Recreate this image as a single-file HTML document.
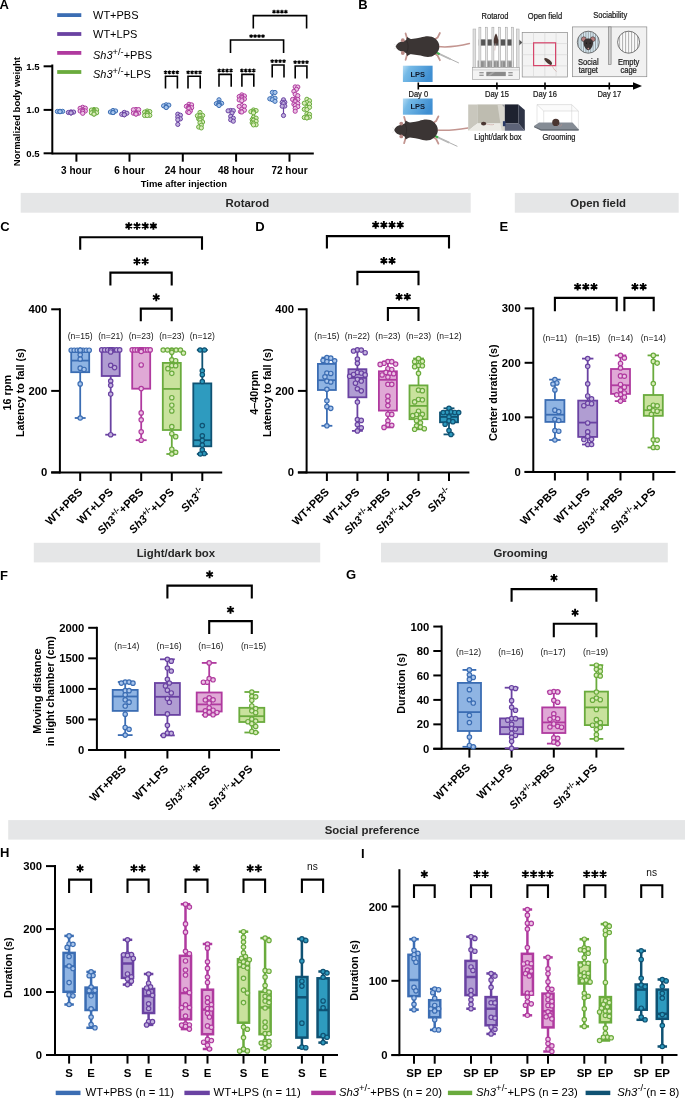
<!DOCTYPE html>
<html><head><meta charset="utf-8"><style>
html,body{margin:0;padding:0;background:#fff;}
svg{display:block;font-family:"Liberation Sans", sans-serif;will-change:transform;}
</style></head><body>
<svg width="685" height="1099" viewBox="0 0 685 1099">
<rect width="685" height="1099" fill="#fff"/>
<text x="-0.60" y="8.80" font-size="13" font-weight="bold" text-anchor="start" fill="#000" >A</text>
<text x="358.20" y="9.40" font-size="13" font-weight="bold" text-anchor="start" fill="#000" >B</text>
<text x="0.20" y="231.40" font-size="13" font-weight="bold" text-anchor="start" fill="#000" >C</text>
<text x="255.20" y="231.40" font-size="13" font-weight="bold" text-anchor="start" fill="#000" >D</text>
<text x="499.60" y="231.30" font-size="13" font-weight="bold" text-anchor="start" fill="#000" >E</text>
<text x="0.00" y="579.60" font-size="13" font-weight="bold" text-anchor="start" fill="#000" >F</text>
<text x="346.00" y="579.30" font-size="13" font-weight="bold" text-anchor="start" fill="#000" >G</text>
<text x="0.00" y="857.30" font-size="13" font-weight="bold" text-anchor="start" fill="#000" >H</text>
<text x="361.00" y="857.90" font-size="13" font-weight="bold" text-anchor="start" fill="#000" >I</text>
<rect x="20.70" y="192.90" width="450.00" height="19.80" fill="#e5e6e7" stroke="none" stroke-width="0" />
<text x="247.40" y="207.40" font-size="11.4" font-weight="bold" text-anchor="middle" fill="#262626" >Rotarod</text>
<rect x="514.80" y="192.90" width="163.90" height="19.80" fill="#e5e6e7" stroke="none" stroke-width="0" />
<text x="598.20" y="207.40" font-size="11.4" font-weight="bold" text-anchor="middle" fill="#262626" >Open field</text>
<rect x="33.80" y="542.80" width="286.40" height="19.60" fill="#e5e6e7" stroke="none" stroke-width="0" />
<text x="175.90" y="557.10" font-size="11.4" font-weight="bold" text-anchor="middle" fill="#262626" >Light/dark box</text>
<rect x="381.00" y="542.80" width="286.80" height="19.60" fill="#e5e6e7" stroke="none" stroke-width="0" />
<text x="520.60" y="557.10" font-size="11.4" font-weight="bold" text-anchor="middle" fill="#262626" >Grooming</text>
<rect x="8.20" y="820.10" width="676.80" height="19.50" fill="#e5e6e7" stroke="none" stroke-width="0" />
<text x="372.20" y="834.30" font-size="11.4" font-weight="bold" text-anchor="middle" fill="#262626" >Social preference</text>
<line x1="57.20" y1="15.10" x2="81.30" y2="15.10" stroke="#3b6db3" stroke-width="3.8" stroke-linecap="butt"/>
<text x="93.00" y="19.00" font-size="11" font-weight="normal" text-anchor="start" fill="#000" >WT+PBS</text>
<line x1="57.20" y1="34.00" x2="81.30" y2="34.00" stroke="#6a42a2" stroke-width="3.8" stroke-linecap="butt"/>
<text x="93.00" y="37.90" font-size="11" font-weight="normal" text-anchor="start" fill="#000" >WT+LPS</text>
<line x1="57.20" y1="52.90" x2="81.30" y2="52.90" stroke="#b03a9f" stroke-width="3.8" stroke-linecap="butt"/>
<text x="93.00" y="59.30" font-size="11" font-weight="normal" text-anchor="start" fill="#000" ><tspan font-style="italic">Sh3</tspan><tspan font-size="0.84em" dy="-0.5em">+/-</tspan><tspan dy="0.42em">+PBS</tspan></text>
<line x1="57.20" y1="72.00" x2="81.30" y2="72.00" stroke="#6aab3d" stroke-width="3.8" stroke-linecap="butt"/>
<text x="93.00" y="78.40" font-size="11" font-weight="normal" text-anchor="start" fill="#000" ><tspan font-style="italic">Sh3</tspan><tspan font-size="0.84em" dy="-0.5em">+/-</tspan><tspan dy="0.42em">+LPS</tspan></text>
<line x1="52.30" y1="64.50" x2="52.30" y2="154.40" stroke="#000" stroke-width="2" stroke-linecap="butt"/>
<line x1="43.60" y1="66.30" x2="52.30" y2="66.30" stroke="#000" stroke-width="2" stroke-linecap="butt"/>
<text x="39.70" y="69.76" font-size="9.6" font-weight="bold" text-anchor="end" fill="#000" >1.5</text>
<line x1="43.60" y1="109.90" x2="52.30" y2="109.90" stroke="#000" stroke-width="2" stroke-linecap="butt"/>
<text x="39.70" y="113.36" font-size="9.6" font-weight="bold" text-anchor="end" fill="#000" >1.0</text>
<line x1="43.60" y1="153.30" x2="52.30" y2="153.30" stroke="#000" stroke-width="2" stroke-linecap="butt"/>
<text x="39.70" y="156.76" font-size="9.6" font-weight="bold" text-anchor="end" fill="#000" >0.5</text>
<line x1="52.30" y1="153.40" x2="313.80" y2="153.40" stroke="#000" stroke-width="2" stroke-linecap="butt"/>
<line x1="76.40" y1="153.40" x2="76.40" y2="161.70" stroke="#000" stroke-width="2" stroke-linecap="butt"/>
<line x1="129.50" y1="153.40" x2="129.50" y2="161.70" stroke="#000" stroke-width="2" stroke-linecap="butt"/>
<line x1="182.80" y1="153.40" x2="182.80" y2="161.70" stroke="#000" stroke-width="2" stroke-linecap="butt"/>
<line x1="236.10" y1="153.40" x2="236.10" y2="161.70" stroke="#000" stroke-width="2" stroke-linecap="butt"/>
<line x1="289.50" y1="153.40" x2="289.50" y2="161.70" stroke="#000" stroke-width="2" stroke-linecap="butt"/>
<text x="76.40" y="173.60" font-size="10" font-weight="bold" text-anchor="middle" fill="#000" >3 hour</text>
<text x="129.50" y="173.60" font-size="10" font-weight="bold" text-anchor="middle" fill="#000" >6 hour</text>
<text x="182.80" y="173.60" font-size="10" font-weight="bold" text-anchor="middle" fill="#000" >24 hour</text>
<text x="236.10" y="173.60" font-size="10" font-weight="bold" text-anchor="middle" fill="#000" >48 hour</text>
<text x="289.50" y="173.60" font-size="10" font-weight="bold" text-anchor="middle" fill="#000" >72 hour</text>
<text x="183.90" y="187.00" font-size="9.45" font-weight="bold" text-anchor="middle" fill="#000" >Time after injection</text>
<text x="19.6" y="111.6" font-size="9.5" font-weight="bold" text-anchor="middle" transform="rotate(-90 19.6 111.6)">Normalized body weight</text>
<line x1="60.00" y1="111.30" x2="60.00" y2="111.70" stroke="#3b6db3" stroke-width="1.2" stroke-linecap="butt"/>
<circle cx="60.00" cy="111.30" r="2.1" fill="#a8c5ec" stroke="#3b6db3" stroke-width="1"/>
<circle cx="62.60" cy="111.36" r="2.1" fill="#a8c5ec" stroke="#3b6db3" stroke-width="1"/>
<circle cx="57.40" cy="111.48" r="2.1" fill="#a8c5ec" stroke="#3b6db3" stroke-width="1"/>
<circle cx="60.00" cy="111.58" r="2.1" fill="#a8c5ec" stroke="#3b6db3" stroke-width="1"/>
<circle cx="60.00" cy="111.61" r="2.1" fill="#a8c5ec" stroke="#3b6db3" stroke-width="1"/>
<circle cx="60.00" cy="111.70" r="2.1" fill="#a8c5ec" stroke="#3b6db3" stroke-width="1"/>
<line x1="71.00" y1="111.90" x2="71.00" y2="112.90" stroke="#6a42a2" stroke-width="1.2" stroke-linecap="butt"/>
<circle cx="71.00" cy="111.90" r="2.1" fill="#c2b2de" stroke="#6a42a2" stroke-width="1"/>
<circle cx="73.60" cy="112.09" r="2.1" fill="#c2b2de" stroke="#6a42a2" stroke-width="1"/>
<circle cx="68.40" cy="112.48" r="2.1" fill="#c2b2de" stroke="#6a42a2" stroke-width="1"/>
<circle cx="71.00" cy="112.82" r="2.1" fill="#c2b2de" stroke="#6a42a2" stroke-width="1"/>
<circle cx="71.00" cy="112.87" r="2.1" fill="#c2b2de" stroke="#6a42a2" stroke-width="1"/>
<circle cx="71.00" cy="112.90" r="2.1" fill="#c2b2de" stroke="#6a42a2" stroke-width="1"/>
<line x1="82.70" y1="107.30" x2="82.70" y2="113.30" stroke="#b03a9f" stroke-width="1.2" stroke-linecap="butt"/>
<circle cx="82.70" cy="107.30" r="2.1" fill="#ebc2e4" stroke="#b03a9f" stroke-width="1"/>
<circle cx="85.30" cy="108.19" r="2.1" fill="#ebc2e4" stroke="#b03a9f" stroke-width="1"/>
<circle cx="80.10" cy="108.32" r="2.1" fill="#ebc2e4" stroke="#b03a9f" stroke-width="1"/>
<circle cx="82.70" cy="109.61" r="2.1" fill="#ebc2e4" stroke="#b03a9f" stroke-width="1"/>
<circle cx="82.70" cy="110.70" r="2.1" fill="#ebc2e4" stroke="#b03a9f" stroke-width="1"/>
<circle cx="85.30" cy="110.95" r="2.1" fill="#ebc2e4" stroke="#b03a9f" stroke-width="1"/>
<circle cx="80.10" cy="111.00" r="2.1" fill="#ebc2e4" stroke="#b03a9f" stroke-width="1"/>
<circle cx="82.70" cy="111.00" r="2.1" fill="#ebc2e4" stroke="#b03a9f" stroke-width="1"/>
<circle cx="82.70" cy="111.58" r="2.1" fill="#ebc2e4" stroke="#b03a9f" stroke-width="1"/>
<circle cx="82.70" cy="113.30" r="2.1" fill="#ebc2e4" stroke="#b03a9f" stroke-width="1"/>
<line x1="94.00" y1="109.50" x2="94.00" y2="114.10" stroke="#6aab3d" stroke-width="1.2" stroke-linecap="butt"/>
<circle cx="94.00" cy="109.50" r="2.1" fill="#d9ecb9" stroke="#6aab3d" stroke-width="1"/>
<circle cx="96.60" cy="109.86" r="2.1" fill="#d9ecb9" stroke="#6aab3d" stroke-width="1"/>
<circle cx="91.40" cy="110.06" r="2.1" fill="#d9ecb9" stroke="#6aab3d" stroke-width="1"/>
<circle cx="94.00" cy="110.49" r="2.1" fill="#d9ecb9" stroke="#6aab3d" stroke-width="1"/>
<circle cx="94.00" cy="111.60" r="2.1" fill="#d9ecb9" stroke="#6aab3d" stroke-width="1"/>
<circle cx="94.00" cy="112.27" r="2.1" fill="#d9ecb9" stroke="#6aab3d" stroke-width="1"/>
<circle cx="96.60" cy="112.81" r="2.1" fill="#d9ecb9" stroke="#6aab3d" stroke-width="1"/>
<circle cx="91.40" cy="112.88" r="2.1" fill="#d9ecb9" stroke="#6aab3d" stroke-width="1"/>
<circle cx="94.00" cy="114.00" r="2.1" fill="#d9ecb9" stroke="#6aab3d" stroke-width="1"/>
<circle cx="94.00" cy="114.10" r="2.1" fill="#d9ecb9" stroke="#6aab3d" stroke-width="1"/>
<line x1="113.00" y1="110.50" x2="113.00" y2="112.60" stroke="#3b6db3" stroke-width="1.2" stroke-linecap="butt"/>
<circle cx="113.00" cy="110.50" r="2.1" fill="#a8c5ec" stroke="#3b6db3" stroke-width="1"/>
<circle cx="115.60" cy="110.98" r="2.1" fill="#a8c5ec" stroke="#3b6db3" stroke-width="1"/>
<circle cx="110.40" cy="112.04" r="2.1" fill="#a8c5ec" stroke="#3b6db3" stroke-width="1"/>
<circle cx="113.00" cy="112.33" r="2.1" fill="#a8c5ec" stroke="#3b6db3" stroke-width="1"/>
<circle cx="113.00" cy="112.52" r="2.1" fill="#a8c5ec" stroke="#3b6db3" stroke-width="1"/>
<circle cx="113.00" cy="112.60" r="2.1" fill="#a8c5ec" stroke="#3b6db3" stroke-width="1"/>
<line x1="124.30" y1="112.40" x2="124.30" y2="114.80" stroke="#6a42a2" stroke-width="1.2" stroke-linecap="butt"/>
<circle cx="124.30" cy="112.40" r="2.1" fill="#c2b2de" stroke="#6a42a2" stroke-width="1"/>
<circle cx="126.90" cy="113.24" r="2.1" fill="#c2b2de" stroke="#6a42a2" stroke-width="1"/>
<circle cx="121.70" cy="114.30" r="2.1" fill="#c2b2de" stroke="#6a42a2" stroke-width="1"/>
<circle cx="124.30" cy="114.51" r="2.1" fill="#c2b2de" stroke="#6a42a2" stroke-width="1"/>
<circle cx="124.30" cy="114.68" r="2.1" fill="#c2b2de" stroke="#6a42a2" stroke-width="1"/>
<circle cx="124.30" cy="114.80" r="2.1" fill="#c2b2de" stroke="#6a42a2" stroke-width="1"/>
<line x1="136.00" y1="109.50" x2="136.00" y2="114.10" stroke="#b03a9f" stroke-width="1.2" stroke-linecap="butt"/>
<circle cx="136.00" cy="109.50" r="2.1" fill="#ebc2e4" stroke="#b03a9f" stroke-width="1"/>
<circle cx="138.60" cy="109.58" r="2.1" fill="#ebc2e4" stroke="#b03a9f" stroke-width="1"/>
<circle cx="133.40" cy="109.76" r="2.1" fill="#ebc2e4" stroke="#b03a9f" stroke-width="1"/>
<circle cx="136.00" cy="112.77" r="2.1" fill="#ebc2e4" stroke="#b03a9f" stroke-width="1"/>
<circle cx="138.60" cy="113.20" r="2.1" fill="#ebc2e4" stroke="#b03a9f" stroke-width="1"/>
<circle cx="133.40" cy="113.21" r="2.1" fill="#ebc2e4" stroke="#b03a9f" stroke-width="1"/>
<circle cx="136.00" cy="113.28" r="2.1" fill="#ebc2e4" stroke="#b03a9f" stroke-width="1"/>
<circle cx="136.00" cy="113.65" r="2.1" fill="#ebc2e4" stroke="#b03a9f" stroke-width="1"/>
<circle cx="136.00" cy="113.83" r="2.1" fill="#ebc2e4" stroke="#b03a9f" stroke-width="1"/>
<circle cx="136.00" cy="114.10" r="2.1" fill="#ebc2e4" stroke="#b03a9f" stroke-width="1"/>
<line x1="147.20" y1="111.00" x2="147.20" y2="115.50" stroke="#6aab3d" stroke-width="1.2" stroke-linecap="butt"/>
<circle cx="147.20" cy="111.00" r="2.1" fill="#d9ecb9" stroke="#6aab3d" stroke-width="1"/>
<circle cx="149.80" cy="111.62" r="2.1" fill="#d9ecb9" stroke="#6aab3d" stroke-width="1"/>
<circle cx="144.60" cy="112.11" r="2.1" fill="#d9ecb9" stroke="#6aab3d" stroke-width="1"/>
<circle cx="147.20" cy="112.39" r="2.1" fill="#d9ecb9" stroke="#6aab3d" stroke-width="1"/>
<circle cx="147.20" cy="113.17" r="2.1" fill="#d9ecb9" stroke="#6aab3d" stroke-width="1"/>
<circle cx="147.20" cy="113.62" r="2.1" fill="#d9ecb9" stroke="#6aab3d" stroke-width="1"/>
<circle cx="147.20" cy="113.96" r="2.1" fill="#d9ecb9" stroke="#6aab3d" stroke-width="1"/>
<circle cx="149.80" cy="115.38" r="2.1" fill="#d9ecb9" stroke="#6aab3d" stroke-width="1"/>
<circle cx="144.60" cy="115.49" r="2.1" fill="#d9ecb9" stroke="#6aab3d" stroke-width="1"/>
<circle cx="147.20" cy="115.50" r="2.1" fill="#d9ecb9" stroke="#6aab3d" stroke-width="1"/>
<line x1="166.20" y1="104.80" x2="166.20" y2="107.50" stroke="#3b6db3" stroke-width="1.2" stroke-linecap="butt"/>
<circle cx="166.20" cy="104.80" r="2.1" fill="#a8c5ec" stroke="#3b6db3" stroke-width="1"/>
<circle cx="168.80" cy="105.15" r="2.1" fill="#a8c5ec" stroke="#3b6db3" stroke-width="1"/>
<circle cx="163.60" cy="105.84" r="2.1" fill="#a8c5ec" stroke="#3b6db3" stroke-width="1"/>
<circle cx="166.20" cy="107.00" r="2.1" fill="#a8c5ec" stroke="#3b6db3" stroke-width="1"/>
<circle cx="166.20" cy="107.18" r="2.1" fill="#a8c5ec" stroke="#3b6db3" stroke-width="1"/>
<circle cx="166.20" cy="107.50" r="2.1" fill="#a8c5ec" stroke="#3b6db3" stroke-width="1"/>
<line x1="177.80" y1="114.20" x2="177.80" y2="124.40" stroke="#6a42a2" stroke-width="1.2" stroke-linecap="butt"/>
<circle cx="177.80" cy="114.20" r="2.1" fill="#c2b2de" stroke="#6a42a2" stroke-width="1"/>
<circle cx="180.40" cy="115.24" r="2.1" fill="#c2b2de" stroke="#6a42a2" stroke-width="1"/>
<circle cx="177.80" cy="117.05" r="2.1" fill="#c2b2de" stroke="#6a42a2" stroke-width="1"/>
<circle cx="180.40" cy="118.88" r="2.1" fill="#c2b2de" stroke="#6a42a2" stroke-width="1"/>
<circle cx="177.80" cy="119.78" r="2.1" fill="#c2b2de" stroke="#6a42a2" stroke-width="1"/>
<circle cx="177.80" cy="124.40" r="2.1" fill="#c2b2de" stroke="#6a42a2" stroke-width="1"/>
<line x1="189.00" y1="104.30" x2="189.00" y2="112.50" stroke="#b03a9f" stroke-width="1.2" stroke-linecap="butt"/>
<circle cx="189.00" cy="104.30" r="2.1" fill="#ebc2e4" stroke="#b03a9f" stroke-width="1"/>
<circle cx="191.60" cy="104.91" r="2.1" fill="#ebc2e4" stroke="#b03a9f" stroke-width="1"/>
<circle cx="186.40" cy="106.33" r="2.1" fill="#ebc2e4" stroke="#b03a9f" stroke-width="1"/>
<circle cx="189.00" cy="106.54" r="2.1" fill="#ebc2e4" stroke="#b03a9f" stroke-width="1"/>
<circle cx="189.00" cy="106.89" r="2.1" fill="#ebc2e4" stroke="#b03a9f" stroke-width="1"/>
<circle cx="189.00" cy="107.48" r="2.1" fill="#ebc2e4" stroke="#b03a9f" stroke-width="1"/>
<circle cx="191.60" cy="107.72" r="2.1" fill="#ebc2e4" stroke="#b03a9f" stroke-width="1"/>
<circle cx="189.00" cy="108.25" r="2.1" fill="#ebc2e4" stroke="#b03a9f" stroke-width="1"/>
<circle cx="189.00" cy="108.74" r="2.1" fill="#ebc2e4" stroke="#b03a9f" stroke-width="1"/>
<circle cx="190.30" cy="111.04" r="2.1" fill="#ebc2e4" stroke="#b03a9f" stroke-width="1"/>
<circle cx="187.70" cy="111.96" r="2.1" fill="#ebc2e4" stroke="#b03a9f" stroke-width="1"/>
<circle cx="189.00" cy="112.50" r="2.1" fill="#ebc2e4" stroke="#b03a9f" stroke-width="1"/>
<line x1="200.00" y1="112.50" x2="200.00" y2="127.90" stroke="#6aab3d" stroke-width="1.2" stroke-linecap="butt"/>
<circle cx="200.00" cy="112.50" r="2.1" fill="#d9ecb9" stroke="#6aab3d" stroke-width="1"/>
<circle cx="200.00" cy="115.11" r="2.1" fill="#d9ecb9" stroke="#6aab3d" stroke-width="1"/>
<circle cx="202.60" cy="115.48" r="2.1" fill="#d9ecb9" stroke="#6aab3d" stroke-width="1"/>
<circle cx="197.40" cy="115.78" r="2.1" fill="#d9ecb9" stroke="#6aab3d" stroke-width="1"/>
<circle cx="200.00" cy="116.04" r="2.1" fill="#d9ecb9" stroke="#6aab3d" stroke-width="1"/>
<circle cx="201.30" cy="118.62" r="2.1" fill="#d9ecb9" stroke="#6aab3d" stroke-width="1"/>
<circle cx="198.70" cy="118.91" r="2.1" fill="#d9ecb9" stroke="#6aab3d" stroke-width="1"/>
<circle cx="200.00" cy="118.99" r="2.1" fill="#d9ecb9" stroke="#6aab3d" stroke-width="1"/>
<circle cx="200.00" cy="120.11" r="2.1" fill="#d9ecb9" stroke="#6aab3d" stroke-width="1"/>
<circle cx="202.60" cy="122.00" r="2.1" fill="#d9ecb9" stroke="#6aab3d" stroke-width="1"/>
<circle cx="200.00" cy="122.82" r="2.1" fill="#d9ecb9" stroke="#6aab3d" stroke-width="1"/>
<circle cx="201.30" cy="125.24" r="2.1" fill="#d9ecb9" stroke="#6aab3d" stroke-width="1"/>
<circle cx="198.70" cy="127.01" r="2.1" fill="#d9ecb9" stroke="#6aab3d" stroke-width="1"/>
<circle cx="201.30" cy="127.90" r="2.1" fill="#d9ecb9" stroke="#6aab3d" stroke-width="1"/>
<line x1="219.00" y1="99.80" x2="219.00" y2="105.50" stroke="#3b6db3" stroke-width="1.2" stroke-linecap="butt"/>
<circle cx="219.00" cy="99.80" r="2.1" fill="#a8c5ec" stroke="#3b6db3" stroke-width="1"/>
<circle cx="219.00" cy="102.54" r="2.1" fill="#a8c5ec" stroke="#3b6db3" stroke-width="1"/>
<circle cx="221.60" cy="103.33" r="2.1" fill="#a8c5ec" stroke="#3b6db3" stroke-width="1"/>
<circle cx="216.40" cy="103.60" r="2.1" fill="#a8c5ec" stroke="#3b6db3" stroke-width="1"/>
<circle cx="219.00" cy="103.79" r="2.1" fill="#a8c5ec" stroke="#3b6db3" stroke-width="1"/>
<circle cx="219.00" cy="104.09" r="2.1" fill="#a8c5ec" stroke="#3b6db3" stroke-width="1"/>
<circle cx="219.00" cy="104.94" r="2.1" fill="#a8c5ec" stroke="#3b6db3" stroke-width="1"/>
<circle cx="219.00" cy="105.50" r="2.1" fill="#a8c5ec" stroke="#3b6db3" stroke-width="1"/>
<line x1="230.70" y1="110.50" x2="230.70" y2="121.20" stroke="#6a42a2" stroke-width="1.2" stroke-linecap="butt"/>
<circle cx="230.70" cy="110.50" r="2.1" fill="#c2b2de" stroke="#6a42a2" stroke-width="1"/>
<circle cx="233.30" cy="110.69" r="2.1" fill="#c2b2de" stroke="#6a42a2" stroke-width="1"/>
<circle cx="228.10" cy="110.83" r="2.1" fill="#c2b2de" stroke="#6a42a2" stroke-width="1"/>
<circle cx="232.00" cy="113.05" r="2.1" fill="#c2b2de" stroke="#6a42a2" stroke-width="1"/>
<circle cx="230.70" cy="116.38" r="2.1" fill="#c2b2de" stroke="#6a42a2" stroke-width="1"/>
<circle cx="233.30" cy="118.23" r="2.1" fill="#c2b2de" stroke="#6a42a2" stroke-width="1"/>
<circle cx="230.70" cy="119.78" r="2.1" fill="#c2b2de" stroke="#6a42a2" stroke-width="1"/>
<circle cx="233.30" cy="121.20" r="2.1" fill="#c2b2de" stroke="#6a42a2" stroke-width="1"/>
<line x1="241.80" y1="94.90" x2="241.80" y2="112.00" stroke="#b03a9f" stroke-width="1.2" stroke-linecap="butt"/>
<circle cx="241.80" cy="94.90" r="2.1" fill="#ebc2e4" stroke="#b03a9f" stroke-width="1"/>
<circle cx="244.40" cy="95.99" r="2.1" fill="#ebc2e4" stroke="#b03a9f" stroke-width="1"/>
<circle cx="239.20" cy="96.57" r="2.1" fill="#ebc2e4" stroke="#b03a9f" stroke-width="1"/>
<circle cx="241.80" cy="96.72" r="2.1" fill="#ebc2e4" stroke="#b03a9f" stroke-width="1"/>
<circle cx="241.80" cy="97.53" r="2.1" fill="#ebc2e4" stroke="#b03a9f" stroke-width="1"/>
<circle cx="244.40" cy="99.02" r="2.1" fill="#ebc2e4" stroke="#b03a9f" stroke-width="1"/>
<circle cx="241.80" cy="99.06" r="2.1" fill="#ebc2e4" stroke="#b03a9f" stroke-width="1"/>
<circle cx="239.20" cy="99.93" r="2.1" fill="#ebc2e4" stroke="#b03a9f" stroke-width="1"/>
<circle cx="241.80" cy="100.68" r="2.1" fill="#ebc2e4" stroke="#b03a9f" stroke-width="1"/>
<circle cx="241.80" cy="105.57" r="2.1" fill="#ebc2e4" stroke="#b03a9f" stroke-width="1"/>
<circle cx="244.40" cy="106.29" r="2.1" fill="#ebc2e4" stroke="#b03a9f" stroke-width="1"/>
<circle cx="239.20" cy="106.44" r="2.1" fill="#ebc2e4" stroke="#b03a9f" stroke-width="1"/>
<circle cx="241.80" cy="109.22" r="2.1" fill="#ebc2e4" stroke="#b03a9f" stroke-width="1"/>
<circle cx="244.40" cy="110.25" r="2.1" fill="#ebc2e4" stroke="#b03a9f" stroke-width="1"/>
<circle cx="240.50" cy="111.67" r="2.1" fill="#ebc2e4" stroke="#b03a9f" stroke-width="1"/>
<circle cx="241.80" cy="112.00" r="2.1" fill="#ebc2e4" stroke="#b03a9f" stroke-width="1"/>
<line x1="253.50" y1="110.00" x2="253.50" y2="124.90" stroke="#6aab3d" stroke-width="1.2" stroke-linecap="butt"/>
<circle cx="253.50" cy="110.00" r="2.1" fill="#d9ecb9" stroke="#6aab3d" stroke-width="1"/>
<circle cx="256.10" cy="110.62" r="2.1" fill="#d9ecb9" stroke="#6aab3d" stroke-width="1"/>
<circle cx="250.90" cy="111.67" r="2.1" fill="#d9ecb9" stroke="#6aab3d" stroke-width="1"/>
<circle cx="253.50" cy="111.69" r="2.1" fill="#d9ecb9" stroke="#6aab3d" stroke-width="1"/>
<circle cx="253.50" cy="112.14" r="2.1" fill="#d9ecb9" stroke="#6aab3d" stroke-width="1"/>
<circle cx="253.50" cy="112.93" r="2.1" fill="#d9ecb9" stroke="#6aab3d" stroke-width="1"/>
<circle cx="253.50" cy="117.19" r="2.1" fill="#d9ecb9" stroke="#6aab3d" stroke-width="1"/>
<circle cx="256.10" cy="118.15" r="2.1" fill="#d9ecb9" stroke="#6aab3d" stroke-width="1"/>
<circle cx="252.20" cy="119.54" r="2.1" fill="#d9ecb9" stroke="#6aab3d" stroke-width="1"/>
<circle cx="253.50" cy="120.11" r="2.1" fill="#d9ecb9" stroke="#6aab3d" stroke-width="1"/>
<circle cx="253.50" cy="120.24" r="2.1" fill="#d9ecb9" stroke="#6aab3d" stroke-width="1"/>
<circle cx="256.10" cy="121.24" r="2.1" fill="#d9ecb9" stroke="#6aab3d" stroke-width="1"/>
<circle cx="252.20" cy="122.78" r="2.1" fill="#d9ecb9" stroke="#6aab3d" stroke-width="1"/>
<circle cx="253.50" cy="123.35" r="2.1" fill="#d9ecb9" stroke="#6aab3d" stroke-width="1"/>
<circle cx="256.10" cy="124.77" r="2.1" fill="#d9ecb9" stroke="#6aab3d" stroke-width="1"/>
<circle cx="253.50" cy="124.90" r="2.1" fill="#d9ecb9" stroke="#6aab3d" stroke-width="1"/>
<line x1="272.40" y1="92.40" x2="272.40" y2="101.30" stroke="#3b6db3" stroke-width="1.2" stroke-linecap="butt"/>
<circle cx="272.40" cy="92.40" r="2.1" fill="#a8c5ec" stroke="#3b6db3" stroke-width="1"/>
<circle cx="275.00" cy="92.48" r="2.1" fill="#a8c5ec" stroke="#3b6db3" stroke-width="1"/>
<circle cx="272.40" cy="97.74" r="2.1" fill="#a8c5ec" stroke="#3b6db3" stroke-width="1"/>
<circle cx="275.00" cy="98.15" r="2.1" fill="#a8c5ec" stroke="#3b6db3" stroke-width="1"/>
<circle cx="269.80" cy="98.83" r="2.1" fill="#a8c5ec" stroke="#3b6db3" stroke-width="1"/>
<circle cx="272.40" cy="99.71" r="2.1" fill="#a8c5ec" stroke="#3b6db3" stroke-width="1"/>
<circle cx="275.00" cy="101.30" r="2.1" fill="#a8c5ec" stroke="#3b6db3" stroke-width="1"/>
<line x1="283.50" y1="99.80" x2="283.50" y2="115.50" stroke="#6a42a2" stroke-width="1.2" stroke-linecap="butt"/>
<circle cx="283.50" cy="99.80" r="2.1" fill="#c2b2de" stroke="#6a42a2" stroke-width="1"/>
<circle cx="284.80" cy="102.29" r="2.1" fill="#c2b2de" stroke="#6a42a2" stroke-width="1"/>
<circle cx="282.20" cy="102.38" r="2.1" fill="#c2b2de" stroke="#6a42a2" stroke-width="1"/>
<circle cx="283.50" cy="103.57" r="2.1" fill="#c2b2de" stroke="#6a42a2" stroke-width="1"/>
<circle cx="284.80" cy="106.08" r="2.1" fill="#c2b2de" stroke="#6a42a2" stroke-width="1"/>
<circle cx="282.20" cy="106.18" r="2.1" fill="#c2b2de" stroke="#6a42a2" stroke-width="1"/>
<circle cx="283.50" cy="115.50" r="2.1" fill="#c2b2de" stroke="#6a42a2" stroke-width="1"/>
<line x1="295.20" y1="86.90" x2="295.20" y2="111.20" stroke="#b03a9f" stroke-width="1.2" stroke-linecap="butt"/>
<circle cx="295.20" cy="86.90" r="2.1" fill="#ebc2e4" stroke="#b03a9f" stroke-width="1"/>
<circle cx="297.80" cy="87.04" r="2.1" fill="#ebc2e4" stroke="#b03a9f" stroke-width="1"/>
<circle cx="296.50" cy="89.31" r="2.1" fill="#ebc2e4" stroke="#b03a9f" stroke-width="1"/>
<circle cx="293.90" cy="91.34" r="2.1" fill="#ebc2e4" stroke="#b03a9f" stroke-width="1"/>
<circle cx="295.20" cy="94.28" r="2.1" fill="#ebc2e4" stroke="#b03a9f" stroke-width="1"/>
<circle cx="297.80" cy="95.70" r="2.1" fill="#ebc2e4" stroke="#b03a9f" stroke-width="1"/>
<circle cx="295.20" cy="99.24" r="2.1" fill="#ebc2e4" stroke="#b03a9f" stroke-width="1"/>
<circle cx="297.80" cy="99.39" r="2.1" fill="#ebc2e4" stroke="#b03a9f" stroke-width="1"/>
<circle cx="292.60" cy="99.46" r="2.1" fill="#ebc2e4" stroke="#b03a9f" stroke-width="1"/>
<circle cx="295.20" cy="100.73" r="2.1" fill="#ebc2e4" stroke="#b03a9f" stroke-width="1"/>
<circle cx="295.20" cy="101.67" r="2.1" fill="#ebc2e4" stroke="#b03a9f" stroke-width="1"/>
<circle cx="295.20" cy="101.68" r="2.1" fill="#ebc2e4" stroke="#b03a9f" stroke-width="1"/>
<circle cx="297.80" cy="103.55" r="2.1" fill="#ebc2e4" stroke="#b03a9f" stroke-width="1"/>
<circle cx="293.90" cy="104.18" r="2.1" fill="#ebc2e4" stroke="#b03a9f" stroke-width="1"/>
<circle cx="295.20" cy="105.56" r="2.1" fill="#ebc2e4" stroke="#b03a9f" stroke-width="1"/>
<circle cx="297.80" cy="106.66" r="2.1" fill="#ebc2e4" stroke="#b03a9f" stroke-width="1"/>
<circle cx="295.20" cy="108.43" r="2.1" fill="#ebc2e4" stroke="#b03a9f" stroke-width="1"/>
<circle cx="295.20" cy="111.20" r="2.1" fill="#ebc2e4" stroke="#b03a9f" stroke-width="1"/>
<line x1="306.90" y1="99.30" x2="306.90" y2="117.90" stroke="#6aab3d" stroke-width="1.2" stroke-linecap="butt"/>
<circle cx="306.90" cy="99.30" r="2.1" fill="#d9ecb9" stroke="#6aab3d" stroke-width="1"/>
<circle cx="309.50" cy="100.77" r="2.1" fill="#d9ecb9" stroke="#6aab3d" stroke-width="1"/>
<circle cx="306.90" cy="102.64" r="2.1" fill="#d9ecb9" stroke="#6aab3d" stroke-width="1"/>
<circle cx="304.30" cy="103.22" r="2.1" fill="#d9ecb9" stroke="#6aab3d" stroke-width="1"/>
<circle cx="309.50" cy="104.01" r="2.1" fill="#d9ecb9" stroke="#6aab3d" stroke-width="1"/>
<circle cx="306.90" cy="107.26" r="2.1" fill="#d9ecb9" stroke="#6aab3d" stroke-width="1"/>
<circle cx="309.50" cy="107.35" r="2.1" fill="#d9ecb9" stroke="#6aab3d" stroke-width="1"/>
<circle cx="304.30" cy="109.32" r="2.1" fill="#d9ecb9" stroke="#6aab3d" stroke-width="1"/>
<circle cx="306.90" cy="109.59" r="2.1" fill="#d9ecb9" stroke="#6aab3d" stroke-width="1"/>
<circle cx="306.90" cy="113.88" r="2.1" fill="#d9ecb9" stroke="#6aab3d" stroke-width="1"/>
<circle cx="309.50" cy="114.39" r="2.1" fill="#d9ecb9" stroke="#6aab3d" stroke-width="1"/>
<circle cx="306.90" cy="116.53" r="2.1" fill="#d9ecb9" stroke="#6aab3d" stroke-width="1"/>
<circle cx="309.50" cy="117.23" r="2.1" fill="#d9ecb9" stroke="#6aab3d" stroke-width="1"/>
<circle cx="304.30" cy="117.49" r="2.1" fill="#d9ecb9" stroke="#6aab3d" stroke-width="1"/>
<circle cx="306.90" cy="117.72" r="2.1" fill="#d9ecb9" stroke="#6aab3d" stroke-width="1"/>
<circle cx="306.90" cy="117.90" r="2.1" fill="#d9ecb9" stroke="#6aab3d" stroke-width="1"/>
<path d="M165.50,88.60 V76.20 H177.40 V88.60" fill="none" stroke="#000" stroke-width="1.6"/>
<path d="M165.52,74.20L165.52,70.40M163.88,73.25L167.17,71.35M167.17,73.25L163.88,71.35M169.47,74.20L169.47,70.40M167.83,73.25L171.12,71.35M171.12,73.25L167.83,71.35M173.42,74.20L173.42,70.40M171.78,73.25L175.07,71.35M175.07,73.25L171.78,71.35M177.37,74.20L177.37,70.40M175.73,73.25L179.02,71.35M179.02,73.25L175.73,71.35" stroke="#000" stroke-width="1.1" fill="none"/>
<path d="M188.00,88.60 V76.20 H200.20 V88.60" fill="none" stroke="#000" stroke-width="1.6"/>
<path d="M188.17,74.20L188.17,70.40M186.53,73.25L189.82,71.35M189.82,73.25L186.53,71.35M192.12,74.20L192.12,70.40M190.48,73.25L193.77,71.35M193.77,73.25L190.48,71.35M196.07,74.20L196.07,70.40M194.43,73.25L197.72,71.35M197.72,73.25L194.43,71.35M200.02,74.20L200.02,70.40M198.38,73.25L201.67,71.35M201.67,73.25L198.38,71.35" stroke="#000" stroke-width="1.1" fill="none"/>
<path d="M219.00,86.80 V74.40 H231.20 V86.80" fill="none" stroke="#000" stroke-width="1.6"/>
<path d="M219.17,72.40L219.17,68.60M217.53,71.45L220.82,69.55M220.82,71.45L217.53,69.55M223.12,72.40L223.12,68.60M221.48,71.45L224.77,69.55M224.77,71.45L221.48,69.55M227.07,72.40L227.07,68.60M225.43,71.45L228.72,69.55M228.72,71.45L225.43,69.55M231.02,72.40L231.02,68.60M229.38,71.45L232.67,69.55M232.67,71.45L229.38,69.55" stroke="#000" stroke-width="1.1" fill="none"/>
<path d="M241.90,86.80 V74.40 H253.80 V86.80" fill="none" stroke="#000" stroke-width="1.6"/>
<path d="M241.93,72.40L241.93,68.60M240.28,71.45L243.57,69.55M243.57,71.45L240.28,69.55M245.88,72.40L245.88,68.60M244.23,71.45L247.52,69.55M247.52,71.45L244.23,69.55M249.83,72.40L249.83,68.60M248.18,71.45L251.47,69.55M251.47,71.45L248.18,69.55M253.78,72.40L253.78,68.60M252.13,71.45L255.42,69.55M255.42,71.45L252.13,69.55" stroke="#000" stroke-width="1.1" fill="none"/>
<path d="M272.20,77.40 V65.00 H284.00 V77.40" fill="none" stroke="#000" stroke-width="1.6"/>
<path d="M272.18,63.00L272.18,59.20M270.53,62.05L273.82,60.15M273.82,62.05L270.53,60.15M276.12,63.00L276.12,59.20M274.48,62.05L277.77,60.15M277.77,62.05L274.48,60.15M280.07,63.00L280.07,59.20M278.43,62.05L281.72,60.15M281.72,62.05L278.43,60.15M284.03,63.00L284.03,59.20M282.38,62.05L285.67,60.15M285.67,62.05L282.38,60.15" stroke="#000" stroke-width="1.1" fill="none"/>
<path d="M295.20,78.40 V66.00 H306.90 V78.40" fill="none" stroke="#000" stroke-width="1.6"/>
<path d="M295.12,64.00L295.12,60.20M293.48,63.05L296.77,61.15M296.77,63.05L293.48,61.15M299.07,64.00L299.07,60.20M297.43,63.05L300.72,61.15M300.72,63.05L297.43,61.15M303.02,64.00L303.02,60.20M301.38,63.05L304.67,61.15M304.67,63.05L301.38,61.15M306.97,64.00L306.97,60.20M305.33,63.05L308.62,61.15M308.62,63.05L305.33,61.15" stroke="#000" stroke-width="1.1" fill="none"/>
<path d="M230.50,52.90 V40.00 H283.60 V52.90" fill="none" stroke="#000" stroke-width="1.6"/>
<path d="M251.12,38.00L251.12,34.20M249.48,37.05L252.77,35.15M252.77,37.05L249.48,35.15M255.07,38.00L255.07,34.20M253.43,37.05L256.72,35.15M256.72,37.05L253.43,35.15M259.02,38.00L259.02,34.20M257.38,37.05L260.67,35.15M260.67,37.05L257.38,35.15M262.98,38.00L262.98,34.20M261.33,37.05L264.62,35.15M264.62,37.05L261.33,35.15" stroke="#000" stroke-width="1.1" fill="none"/>
<path d="M253.30,28.50 V15.60 H306.60 V28.50" fill="none" stroke="#000" stroke-width="1.6"/>
<path d="M274.03,13.60L274.03,9.80M272.38,12.65L275.67,10.75M275.67,12.65L272.38,10.75M277.98,13.60L277.98,9.80M276.33,12.65L279.62,10.75M279.62,12.65L276.33,10.75M281.93,13.60L281.93,9.80M280.28,12.65L283.57,10.75M283.57,12.65L280.28,10.75M285.88,13.60L285.88,9.80M284.23,12.65L287.52,10.75M287.52,12.65L284.23,10.75" stroke="#000" stroke-width="1.1" fill="none"/>
<line x1="59.90" y1="308.30" x2="59.90" y2="473.40" stroke="#000" stroke-width="2" stroke-linecap="butt"/>
<line x1="51.20" y1="309.30" x2="59.90" y2="309.30" stroke="#000" stroke-width="2" stroke-linecap="butt"/>
<text x="47.30" y="313.37" font-size="11.3" font-weight="bold" text-anchor="end" fill="#000" >400</text>
<line x1="51.20" y1="390.90" x2="59.90" y2="390.90" stroke="#000" stroke-width="2" stroke-linecap="butt"/>
<text x="47.30" y="394.97" font-size="11.3" font-weight="bold" text-anchor="end" fill="#000" >200</text>
<line x1="51.20" y1="472.40" x2="59.90" y2="472.40" stroke="#000" stroke-width="2" stroke-linecap="butt"/>
<text x="47.30" y="476.47" font-size="11.3" font-weight="bold" text-anchor="end" fill="#000" >0</text>
<line x1="51.20" y1="472.40" x2="222.20" y2="472.40" stroke="#000" stroke-width="2" stroke-linecap="butt"/>
<line x1="80.20" y1="472.40" x2="80.20" y2="481.00" stroke="#000" stroke-width="2" stroke-linecap="butt"/>
<line x1="110.70" y1="472.40" x2="110.70" y2="481.00" stroke="#000" stroke-width="2" stroke-linecap="butt"/>
<line x1="141.20" y1="472.40" x2="141.20" y2="481.00" stroke="#000" stroke-width="2" stroke-linecap="butt"/>
<line x1="171.80" y1="472.40" x2="171.80" y2="481.00" stroke="#000" stroke-width="2" stroke-linecap="butt"/>
<line x1="202.30" y1="472.40" x2="202.30" y2="481.00" stroke="#000" stroke-width="2" stroke-linecap="butt"/>
<text x="11.2" y="392.7" font-size="10.8" font-weight="bold" text-anchor="middle" transform="rotate(-90 11.2 392.7)">16 rpm</text>
<text x="24.3" y="392.7" font-size="10.8" font-weight="bold" text-anchor="middle" transform="rotate(-90 24.3 392.7)">Latency to fall (s)</text>
<text x="80.20" y="339.40" font-size="8.6" font-weight="normal" text-anchor="middle" fill="#161616" >(n=15)</text>
<text x="110.70" y="339.40" font-size="8.6" font-weight="normal" text-anchor="middle" fill="#161616" >(n=21)</text>
<text x="141.20" y="339.40" font-size="8.6" font-weight="normal" text-anchor="middle" fill="#161616" >(n=23)</text>
<text x="171.80" y="339.40" font-size="8.6" font-weight="normal" text-anchor="middle" fill="#161616" >(n=23)</text>
<text x="202.30" y="339.40" font-size="8.6" font-weight="normal" text-anchor="middle" fill="#161616" >(n=12)</text>
<line x1="80.20" y1="350.20" x2="80.20" y2="350.20" stroke="#3b6db3" stroke-width="1.8" stroke-linecap="butt"/>
<line x1="80.20" y1="372.20" x2="80.20" y2="418.00" stroke="#3b6db3" stroke-width="1.8" stroke-linecap="butt"/>
<line x1="74.75" y1="350.20" x2="85.65" y2="350.20" stroke="#3b6db3" stroke-width="1.8" stroke-linecap="butt"/>
<line x1="74.75" y1="418.00" x2="85.65" y2="418.00" stroke="#3b6db3" stroke-width="1.8" stroke-linecap="butt"/>
<rect x="71.20" y="350.20" width="18.00" height="22.00" fill="#8fb4e3" stroke="#3b6db3" stroke-width="1.8" />
<line x1="71.20" y1="360.60" x2="89.20" y2="360.60" stroke="#3b6db3" stroke-width="1.8" stroke-linecap="butt"/>
<circle cx="71.20" cy="350.20" r="2.2" fill="#a8c5ec" stroke="#3b6db3" stroke-width="1.2"/>
<circle cx="74.20" cy="350.20" r="2.2" fill="#a8c5ec" stroke="#3b6db3" stroke-width="1.2"/>
<circle cx="77.20" cy="350.20" r="2.2" fill="#a8c5ec" stroke="#3b6db3" stroke-width="1.2"/>
<circle cx="80.20" cy="350.20" r="2.2" fill="#a8c5ec" stroke="#3b6db3" stroke-width="1.2"/>
<circle cx="83.20" cy="350.20" r="2.2" fill="#a8c5ec" stroke="#3b6db3" stroke-width="1.2"/>
<circle cx="86.20" cy="350.20" r="2.2" fill="#a8c5ec" stroke="#3b6db3" stroke-width="1.2"/>
<circle cx="89.20" cy="350.20" r="2.2" fill="#a8c5ec" stroke="#3b6db3" stroke-width="1.2"/>
<circle cx="80.20" cy="350.20" r="2.2" fill="#a8c5ec" stroke="#3b6db3" stroke-width="1.2"/>
<circle cx="80.20" cy="350.20" r="2.2" fill="#a8c5ec" stroke="#3b6db3" stroke-width="1.2"/>
<circle cx="80.20" cy="354.87" r="2.2" fill="#a8c5ec" stroke="#3b6db3" stroke-width="1.2"/>
<circle cx="80.20" cy="359.01" r="2.2" fill="#a8c5ec" stroke="#3b6db3" stroke-width="1.2"/>
<circle cx="80.20" cy="368.16" r="2.2" fill="#a8c5ec" stroke="#3b6db3" stroke-width="1.2"/>
<circle cx="84.07" cy="369.46" r="2.2" fill="#a8c5ec" stroke="#3b6db3" stroke-width="1.2"/>
<circle cx="80.20" cy="383.88" r="2.2" fill="#a8c5ec" stroke="#3b6db3" stroke-width="1.2"/>
<circle cx="80.20" cy="418.00" r="2.2" fill="#a8c5ec" stroke="#3b6db3" stroke-width="1.2"/>
<line x1="110.70" y1="349.90" x2="110.70" y2="349.90" stroke="#6a42a2" stroke-width="1.8" stroke-linecap="butt"/>
<line x1="110.70" y1="376.00" x2="110.70" y2="434.70" stroke="#6a42a2" stroke-width="1.8" stroke-linecap="butt"/>
<line x1="105.25" y1="349.90" x2="116.15" y2="349.90" stroke="#6a42a2" stroke-width="1.8" stroke-linecap="butt"/>
<line x1="105.25" y1="434.70" x2="116.15" y2="434.70" stroke="#6a42a2" stroke-width="1.8" stroke-linecap="butt"/>
<rect x="101.70" y="349.90" width="18.00" height="26.10" fill="#b09dd2" stroke="#6a42a2" stroke-width="1.8" />
<line x1="101.70" y1="350.50" x2="119.70" y2="350.50" stroke="#6a42a2" stroke-width="1.8" stroke-linecap="butt"/>
<circle cx="101.70" cy="349.90" r="2.2" fill="#c2b2de" stroke="#6a42a2" stroke-width="1.2"/>
<circle cx="104.70" cy="349.90" r="2.2" fill="#c2b2de" stroke="#6a42a2" stroke-width="1.2"/>
<circle cx="107.70" cy="349.90" r="2.2" fill="#c2b2de" stroke="#6a42a2" stroke-width="1.2"/>
<circle cx="110.70" cy="349.90" r="2.2" fill="#c2b2de" stroke="#6a42a2" stroke-width="1.2"/>
<circle cx="113.70" cy="349.90" r="2.2" fill="#c2b2de" stroke="#6a42a2" stroke-width="1.2"/>
<circle cx="116.70" cy="349.90" r="2.2" fill="#c2b2de" stroke="#6a42a2" stroke-width="1.2"/>
<circle cx="119.70" cy="349.90" r="2.2" fill="#c2b2de" stroke="#6a42a2" stroke-width="1.2"/>
<circle cx="110.70" cy="349.90" r="2.2" fill="#c2b2de" stroke="#6a42a2" stroke-width="1.2"/>
<circle cx="110.70" cy="349.90" r="2.2" fill="#c2b2de" stroke="#6a42a2" stroke-width="1.2"/>
<circle cx="110.70" cy="349.90" r="2.2" fill="#c2b2de" stroke="#6a42a2" stroke-width="1.2"/>
<circle cx="110.70" cy="349.90" r="2.2" fill="#c2b2de" stroke="#6a42a2" stroke-width="1.2"/>
<circle cx="110.70" cy="350.26" r="2.2" fill="#c2b2de" stroke="#6a42a2" stroke-width="1.2"/>
<circle cx="110.70" cy="350.34" r="2.2" fill="#c2b2de" stroke="#6a42a2" stroke-width="1.2"/>
<circle cx="110.70" cy="350.47" r="2.2" fill="#c2b2de" stroke="#6a42a2" stroke-width="1.2"/>
<circle cx="110.70" cy="351.94" r="2.2" fill="#c2b2de" stroke="#6a42a2" stroke-width="1.2"/>
<circle cx="110.70" cy="365.32" r="2.2" fill="#c2b2de" stroke="#6a42a2" stroke-width="1.2"/>
<circle cx="114.57" cy="367.58" r="2.2" fill="#c2b2de" stroke="#6a42a2" stroke-width="1.2"/>
<circle cx="110.70" cy="380.98" r="2.2" fill="#c2b2de" stroke="#6a42a2" stroke-width="1.2"/>
<circle cx="110.70" cy="385.30" r="2.2" fill="#c2b2de" stroke="#6a42a2" stroke-width="1.2"/>
<circle cx="110.70" cy="394.09" r="2.2" fill="#c2b2de" stroke="#6a42a2" stroke-width="1.2"/>
<circle cx="110.70" cy="434.70" r="2.2" fill="#c2b2de" stroke="#6a42a2" stroke-width="1.2"/>
<line x1="141.20" y1="349.90" x2="141.20" y2="349.90" stroke="#b03a9f" stroke-width="1.8" stroke-linecap="butt"/>
<line x1="141.20" y1="388.70" x2="141.20" y2="440.20" stroke="#b03a9f" stroke-width="1.8" stroke-linecap="butt"/>
<line x1="135.75" y1="349.90" x2="146.64" y2="349.90" stroke="#b03a9f" stroke-width="1.8" stroke-linecap="butt"/>
<line x1="135.75" y1="440.20" x2="146.64" y2="440.20" stroke="#b03a9f" stroke-width="1.8" stroke-linecap="butt"/>
<rect x="132.20" y="349.90" width="18.00" height="38.80" fill="#e0a9d6" stroke="#b03a9f" stroke-width="1.8" />
<line x1="132.20" y1="351.00" x2="150.20" y2="351.00" stroke="#b03a9f" stroke-width="1.8" stroke-linecap="butt"/>
<circle cx="132.20" cy="349.90" r="2.2" fill="#ebc2e4" stroke="#b03a9f" stroke-width="1.2"/>
<circle cx="134.77" cy="349.90" r="2.2" fill="#ebc2e4" stroke="#b03a9f" stroke-width="1.2"/>
<circle cx="137.34" cy="349.90" r="2.2" fill="#ebc2e4" stroke="#b03a9f" stroke-width="1.2"/>
<circle cx="139.91" cy="349.90" r="2.2" fill="#ebc2e4" stroke="#b03a9f" stroke-width="1.2"/>
<circle cx="142.49" cy="349.90" r="2.2" fill="#ebc2e4" stroke="#b03a9f" stroke-width="1.2"/>
<circle cx="145.06" cy="349.90" r="2.2" fill="#ebc2e4" stroke="#b03a9f" stroke-width="1.2"/>
<circle cx="147.63" cy="349.90" r="2.2" fill="#ebc2e4" stroke="#b03a9f" stroke-width="1.2"/>
<circle cx="150.20" cy="349.90" r="2.2" fill="#ebc2e4" stroke="#b03a9f" stroke-width="1.2"/>
<circle cx="141.20" cy="349.90" r="2.2" fill="#ebc2e4" stroke="#b03a9f" stroke-width="1.2"/>
<circle cx="141.20" cy="349.90" r="2.2" fill="#ebc2e4" stroke="#b03a9f" stroke-width="1.2"/>
<circle cx="141.20" cy="349.90" r="2.2" fill="#ebc2e4" stroke="#b03a9f" stroke-width="1.2"/>
<circle cx="141.20" cy="349.90" r="2.2" fill="#ebc2e4" stroke="#b03a9f" stroke-width="1.2"/>
<circle cx="141.20" cy="349.97" r="2.2" fill="#ebc2e4" stroke="#b03a9f" stroke-width="1.2"/>
<circle cx="141.20" cy="350.16" r="2.2" fill="#ebc2e4" stroke="#b03a9f" stroke-width="1.2"/>
<circle cx="141.20" cy="350.42" r="2.2" fill="#ebc2e4" stroke="#b03a9f" stroke-width="1.2"/>
<circle cx="141.20" cy="350.50" r="2.2" fill="#ebc2e4" stroke="#b03a9f" stroke-width="1.2"/>
<circle cx="141.20" cy="351.50" r="2.2" fill="#ebc2e4" stroke="#b03a9f" stroke-width="1.2"/>
<circle cx="141.20" cy="364.95" r="2.2" fill="#ebc2e4" stroke="#b03a9f" stroke-width="1.2"/>
<circle cx="141.20" cy="388.54" r="2.2" fill="#ebc2e4" stroke="#b03a9f" stroke-width="1.2"/>
<circle cx="141.20" cy="412.92" r="2.2" fill="#ebc2e4" stroke="#b03a9f" stroke-width="1.2"/>
<circle cx="141.20" cy="419.80" r="2.2" fill="#ebc2e4" stroke="#b03a9f" stroke-width="1.2"/>
<circle cx="141.20" cy="431.83" r="2.2" fill="#ebc2e4" stroke="#b03a9f" stroke-width="1.2"/>
<circle cx="141.20" cy="440.20" r="2.2" fill="#ebc2e4" stroke="#b03a9f" stroke-width="1.2"/>
<line x1="171.80" y1="350.00" x2="171.80" y2="362.90" stroke="#6aab3d" stroke-width="1.8" stroke-linecap="butt"/>
<line x1="171.80" y1="430.00" x2="171.80" y2="454.00" stroke="#6aab3d" stroke-width="1.8" stroke-linecap="butt"/>
<line x1="166.36" y1="350.00" x2="177.25" y2="350.00" stroke="#6aab3d" stroke-width="1.8" stroke-linecap="butt"/>
<line x1="166.36" y1="454.00" x2="177.25" y2="454.00" stroke="#6aab3d" stroke-width="1.8" stroke-linecap="butt"/>
<rect x="162.80" y="362.90" width="18.00" height="67.10" fill="#c9e29d" stroke="#6aab3d" stroke-width="1.8" />
<line x1="162.80" y1="388.90" x2="180.80" y2="388.90" stroke="#6aab3d" stroke-width="1.8" stroke-linecap="butt"/>
<circle cx="163.20" cy="350.00" r="2.2" fill="#d9ecb9" stroke="#6aab3d" stroke-width="1.2"/>
<circle cx="167.50" cy="350.00" r="2.2" fill="#d9ecb9" stroke="#6aab3d" stroke-width="1.2"/>
<circle cx="171.80" cy="350.00" r="2.2" fill="#d9ecb9" stroke="#6aab3d" stroke-width="1.2"/>
<circle cx="176.10" cy="350.00" r="2.2" fill="#d9ecb9" stroke="#6aab3d" stroke-width="1.2"/>
<circle cx="180.40" cy="350.00" r="2.2" fill="#d9ecb9" stroke="#6aab3d" stroke-width="1.2"/>
<circle cx="171.80" cy="350.86" r="2.2" fill="#d9ecb9" stroke="#6aab3d" stroke-width="1.2"/>
<circle cx="171.80" cy="352.23" r="2.2" fill="#d9ecb9" stroke="#6aab3d" stroke-width="1.2"/>
<circle cx="183.42" cy="353.05" r="2.2" fill="#d9ecb9" stroke="#6aab3d" stroke-width="1.2"/>
<circle cx="171.80" cy="359.87" r="2.2" fill="#d9ecb9" stroke="#6aab3d" stroke-width="1.2"/>
<circle cx="175.67" cy="360.69" r="2.2" fill="#d9ecb9" stroke="#6aab3d" stroke-width="1.2"/>
<circle cx="171.80" cy="365.58" r="2.2" fill="#d9ecb9" stroke="#6aab3d" stroke-width="1.2"/>
<circle cx="175.67" cy="365.66" r="2.2" fill="#d9ecb9" stroke="#6aab3d" stroke-width="1.2"/>
<circle cx="167.93" cy="368.67" r="2.2" fill="#d9ecb9" stroke="#6aab3d" stroke-width="1.2"/>
<circle cx="171.80" cy="373.34" r="2.2" fill="#d9ecb9" stroke="#6aab3d" stroke-width="1.2"/>
<circle cx="171.80" cy="397.71" r="2.2" fill="#d9ecb9" stroke="#6aab3d" stroke-width="1.2"/>
<circle cx="171.80" cy="405.18" r="2.2" fill="#d9ecb9" stroke="#6aab3d" stroke-width="1.2"/>
<circle cx="171.80" cy="410.96" r="2.2" fill="#d9ecb9" stroke="#6aab3d" stroke-width="1.2"/>
<circle cx="171.80" cy="426.63" r="2.2" fill="#d9ecb9" stroke="#6aab3d" stroke-width="1.2"/>
<circle cx="171.80" cy="433.72" r="2.2" fill="#d9ecb9" stroke="#6aab3d" stroke-width="1.2"/>
<circle cx="175.67" cy="436.64" r="2.2" fill="#d9ecb9" stroke="#6aab3d" stroke-width="1.2"/>
<circle cx="171.80" cy="449.21" r="2.2" fill="#d9ecb9" stroke="#6aab3d" stroke-width="1.2"/>
<circle cx="175.67" cy="452.26" r="2.2" fill="#d9ecb9" stroke="#6aab3d" stroke-width="1.2"/>
<circle cx="171.80" cy="454.00" r="2.2" fill="#d9ecb9" stroke="#6aab3d" stroke-width="1.2"/>
<line x1="202.30" y1="350.00" x2="202.30" y2="383.40" stroke="#0f5273" stroke-width="1.8" stroke-linecap="butt"/>
<line x1="202.30" y1="446.30" x2="202.30" y2="454.00" stroke="#0f5273" stroke-width="1.8" stroke-linecap="butt"/>
<line x1="196.86" y1="350.00" x2="207.75" y2="350.00" stroke="#0f5273" stroke-width="1.8" stroke-linecap="butt"/>
<line x1="196.86" y1="454.00" x2="207.75" y2="454.00" stroke="#0f5273" stroke-width="1.8" stroke-linecap="butt"/>
<rect x="193.30" y="383.40" width="18.00" height="62.90" fill="#2e9bbf" stroke="#0f5273" stroke-width="1.8" />
<line x1="193.30" y1="440.20" x2="211.30" y2="440.20" stroke="#0f5273" stroke-width="1.8" stroke-linecap="butt"/>
<circle cx="200.15" cy="350.00" r="2.2" fill="#2e9bbf" stroke="#0f5273" stroke-width="1.2"/>
<circle cx="204.45" cy="350.00" r="2.2" fill="#2e9bbf" stroke="#0f5273" stroke-width="1.2"/>
<circle cx="202.30" cy="370.80" r="2.2" fill="#2e9bbf" stroke="#0f5273" stroke-width="1.2"/>
<circle cx="202.30" cy="374.71" r="2.2" fill="#2e9bbf" stroke="#0f5273" stroke-width="1.2"/>
<circle cx="202.30" cy="381.51" r="2.2" fill="#2e9bbf" stroke="#0f5273" stroke-width="1.2"/>
<circle cx="202.30" cy="425.53" r="2.2" fill="#2e9bbf" stroke="#0f5273" stroke-width="1.2"/>
<circle cx="202.30" cy="435.79" r="2.2" fill="#2e9bbf" stroke="#0f5273" stroke-width="1.2"/>
<circle cx="202.30" cy="440.38" r="2.2" fill="#2e9bbf" stroke="#0f5273" stroke-width="1.2"/>
<circle cx="202.30" cy="445.05" r="2.2" fill="#2e9bbf" stroke="#0f5273" stroke-width="1.2"/>
<circle cx="202.30" cy="449.89" r="2.2" fill="#2e9bbf" stroke="#0f5273" stroke-width="1.2"/>
<circle cx="204.24" cy="453.56" r="2.2" fill="#2e9bbf" stroke="#0f5273" stroke-width="1.2"/>
<circle cx="200.36" cy="454.00" r="2.2" fill="#2e9bbf" stroke="#0f5273" stroke-width="1.2"/>
<path d="M80.20,249.70 V237.20 H202.00 V249.70" fill="none" stroke="#000" stroke-width="2.1"/>
<path d="M128.80,229.80L128.80,222.20M125.51,227.90L132.09,224.10M132.09,227.90L125.51,224.10M137.00,229.80L137.00,222.20M133.71,227.90L140.29,224.10M140.29,227.90L133.71,224.10M145.20,229.80L145.20,222.20M141.91,227.90L148.49,224.10M148.49,227.90L141.91,224.10M153.40,229.80L153.40,222.20M150.11,227.90L156.69,224.10M156.69,227.90L150.11,224.10" stroke="#000" stroke-width="1.9" fill="none"/>
<path d="M110.40,285.60 V272.60 H171.70 V285.60" fill="none" stroke="#000" stroke-width="2.1"/>
<path d="M136.95,265.20L136.95,257.60M133.66,263.30L140.24,259.50M140.24,263.30L133.66,259.50M145.15,265.20L145.15,257.60M141.86,263.30L148.44,259.50M148.44,263.30L141.86,259.50" stroke="#000" stroke-width="1.9" fill="none"/>
<path d="M140.80,321.30 V308.60 H171.70 V321.30" fill="none" stroke="#000" stroke-width="2.1"/>
<path d="M156.25,301.20L156.25,293.60M152.96,299.30L159.54,295.50M159.54,299.30L152.96,295.50" stroke="#000" stroke-width="1.9" fill="none"/>
<text x="83.20" y="492.80" font-size="11.2" font-weight="bold" text-anchor="end" transform="rotate(-45 83.20 492.80)">WT+PBS</text>
<text x="113.70" y="492.80" font-size="11.2" font-weight="bold" text-anchor="end" transform="rotate(-45 113.70 492.80)">WT+LPS</text>
<text x="144.20" y="492.80" font-size="11.2" font-weight="bold" text-anchor="end" transform="rotate(-45 144.20 492.80)"><tspan font-style="italic">Sh3</tspan><tspan font-size="0.72em" dy="-0.55em">+/-</tspan><tspan dy="0.4em">+PBS</tspan></text>
<text x="174.80" y="492.80" font-size="11.2" font-weight="bold" text-anchor="end" transform="rotate(-45 174.80 492.80)"><tspan font-style="italic">Sh3</tspan><tspan font-size="0.72em" dy="-0.55em">+/-</tspan><tspan dy="0.4em">+LPS</tspan></text>
<text x="205.30" y="492.80" font-size="11.2" font-weight="bold" text-anchor="end" transform="rotate(-45 205.30 492.80)"><tspan font-style="italic">Sh3</tspan><tspan font-size="0.72em" dy="-0.55em">-/-</tspan></text>
<line x1="306.60" y1="308.30" x2="306.60" y2="473.40" stroke="#000" stroke-width="2" stroke-linecap="butt"/>
<line x1="297.90" y1="309.30" x2="306.60" y2="309.30" stroke="#000" stroke-width="2" stroke-linecap="butt"/>
<text x="294.00" y="313.37" font-size="11.3" font-weight="bold" text-anchor="end" fill="#000" >400</text>
<line x1="297.90" y1="390.90" x2="306.60" y2="390.90" stroke="#000" stroke-width="2" stroke-linecap="butt"/>
<text x="294.00" y="394.97" font-size="11.3" font-weight="bold" text-anchor="end" fill="#000" >200</text>
<line x1="297.90" y1="472.40" x2="306.60" y2="472.40" stroke="#000" stroke-width="2" stroke-linecap="butt"/>
<text x="294.00" y="476.47" font-size="11.3" font-weight="bold" text-anchor="end" fill="#000" >0</text>
<line x1="297.90" y1="472.40" x2="469.40" y2="472.40" stroke="#000" stroke-width="2" stroke-linecap="butt"/>
<line x1="326.90" y1="472.40" x2="326.90" y2="481.00" stroke="#000" stroke-width="2" stroke-linecap="butt"/>
<line x1="357.40" y1="472.40" x2="357.40" y2="481.00" stroke="#000" stroke-width="2" stroke-linecap="butt"/>
<line x1="387.90" y1="472.40" x2="387.90" y2="481.00" stroke="#000" stroke-width="2" stroke-linecap="butt"/>
<line x1="418.50" y1="472.40" x2="418.50" y2="481.00" stroke="#000" stroke-width="2" stroke-linecap="butt"/>
<line x1="449.00" y1="472.40" x2="449.00" y2="481.00" stroke="#000" stroke-width="2" stroke-linecap="butt"/>
<text x="257.8" y="392.6" font-size="10.8" font-weight="bold" text-anchor="middle" transform="rotate(-90 257.8 392.6)">4–40rpm</text>
<text x="271.0" y="392.7" font-size="10.8" font-weight="bold" text-anchor="middle" transform="rotate(-90 271.0 392.7)">Latency to fall (s)</text>
<text x="326.90" y="339.40" font-size="8.6" font-weight="normal" text-anchor="middle" fill="#161616" >(n=15)</text>
<text x="357.40" y="339.40" font-size="8.6" font-weight="normal" text-anchor="middle" fill="#161616" >(n=22)</text>
<text x="387.90" y="339.40" font-size="8.6" font-weight="normal" text-anchor="middle" fill="#161616" >(n=23)</text>
<text x="418.50" y="339.40" font-size="8.6" font-weight="normal" text-anchor="middle" fill="#161616" >(n=23)</text>
<text x="449.00" y="339.40" font-size="8.6" font-weight="normal" text-anchor="middle" fill="#161616" >(n=12)</text>
<line x1="326.90" y1="357.60" x2="326.90" y2="363.90" stroke="#3b6db3" stroke-width="1.8" stroke-linecap="butt"/>
<line x1="326.90" y1="390.00" x2="326.90" y2="425.80" stroke="#3b6db3" stroke-width="1.8" stroke-linecap="butt"/>
<line x1="321.45" y1="357.60" x2="332.34" y2="357.60" stroke="#3b6db3" stroke-width="1.8" stroke-linecap="butt"/>
<line x1="321.45" y1="425.80" x2="332.34" y2="425.80" stroke="#3b6db3" stroke-width="1.8" stroke-linecap="butt"/>
<rect x="317.90" y="363.90" width="18.00" height="26.10" fill="#8fb4e3" stroke="#3b6db3" stroke-width="1.8" />
<line x1="317.90" y1="380.20" x2="335.90" y2="380.20" stroke="#3b6db3" stroke-width="1.8" stroke-linecap="butt"/>
<circle cx="326.90" cy="357.60" r="2.2" fill="#a8c5ec" stroke="#3b6db3" stroke-width="1.2"/>
<circle cx="330.77" cy="358.17" r="2.2" fill="#a8c5ec" stroke="#3b6db3" stroke-width="1.2"/>
<circle cx="323.03" cy="360.45" r="2.2" fill="#a8c5ec" stroke="#3b6db3" stroke-width="1.2"/>
<circle cx="334.64" cy="360.80" r="2.2" fill="#a8c5ec" stroke="#3b6db3" stroke-width="1.2"/>
<circle cx="326.90" cy="361.57" r="2.2" fill="#a8c5ec" stroke="#3b6db3" stroke-width="1.2"/>
<circle cx="326.90" cy="373.02" r="2.2" fill="#a8c5ec" stroke="#3b6db3" stroke-width="1.2"/>
<circle cx="330.77" cy="373.47" r="2.2" fill="#a8c5ec" stroke="#3b6db3" stroke-width="1.2"/>
<circle cx="324.96" cy="376.83" r="2.2" fill="#a8c5ec" stroke="#3b6db3" stroke-width="1.2"/>
<circle cx="326.90" cy="381.12" r="2.2" fill="#a8c5ec" stroke="#3b6db3" stroke-width="1.2"/>
<circle cx="330.77" cy="382.01" r="2.2" fill="#a8c5ec" stroke="#3b6db3" stroke-width="1.2"/>
<circle cx="326.90" cy="389.26" r="2.2" fill="#a8c5ec" stroke="#3b6db3" stroke-width="1.2"/>
<circle cx="326.90" cy="400.86" r="2.2" fill="#a8c5ec" stroke="#3b6db3" stroke-width="1.2"/>
<circle cx="326.90" cy="406.67" r="2.2" fill="#a8c5ec" stroke="#3b6db3" stroke-width="1.2"/>
<circle cx="330.77" cy="408.33" r="2.2" fill="#a8c5ec" stroke="#3b6db3" stroke-width="1.2"/>
<circle cx="326.90" cy="425.80" r="2.2" fill="#a8c5ec" stroke="#3b6db3" stroke-width="1.2"/>
<line x1="357.40" y1="349.90" x2="357.40" y2="369.20" stroke="#6a42a2" stroke-width="1.8" stroke-linecap="butt"/>
<line x1="357.40" y1="397.30" x2="357.40" y2="430.90" stroke="#6a42a2" stroke-width="1.8" stroke-linecap="butt"/>
<line x1="351.95" y1="349.90" x2="362.84" y2="349.90" stroke="#6a42a2" stroke-width="1.8" stroke-linecap="butt"/>
<line x1="351.95" y1="430.90" x2="362.84" y2="430.90" stroke="#6a42a2" stroke-width="1.8" stroke-linecap="butt"/>
<rect x="348.40" y="369.20" width="18.00" height="28.10" fill="#b09dd2" stroke="#6a42a2" stroke-width="1.8" />
<line x1="348.40" y1="377.90" x2="366.40" y2="377.90" stroke="#6a42a2" stroke-width="1.8" stroke-linecap="butt"/>
<circle cx="357.40" cy="349.90" r="2.2" fill="#c2b2de" stroke="#6a42a2" stroke-width="1.2"/>
<circle cx="361.27" cy="350.11" r="2.2" fill="#c2b2de" stroke="#6a42a2" stroke-width="1.2"/>
<circle cx="353.53" cy="351.04" r="2.2" fill="#c2b2de" stroke="#6a42a2" stroke-width="1.2"/>
<circle cx="365.14" cy="352.70" r="2.2" fill="#c2b2de" stroke="#6a42a2" stroke-width="1.2"/>
<circle cx="357.40" cy="359.06" r="2.2" fill="#c2b2de" stroke="#6a42a2" stroke-width="1.2"/>
<circle cx="357.40" cy="363.23" r="2.2" fill="#c2b2de" stroke="#6a42a2" stroke-width="1.2"/>
<circle cx="357.40" cy="372.46" r="2.2" fill="#c2b2de" stroke="#6a42a2" stroke-width="1.2"/>
<circle cx="361.27" cy="373.03" r="2.2" fill="#c2b2de" stroke="#6a42a2" stroke-width="1.2"/>
<circle cx="353.53" cy="374.43" r="2.2" fill="#c2b2de" stroke="#6a42a2" stroke-width="1.2"/>
<circle cx="365.14" cy="374.92" r="2.2" fill="#c2b2de" stroke="#6a42a2" stroke-width="1.2"/>
<circle cx="349.66" cy="376.32" r="2.2" fill="#c2b2de" stroke="#6a42a2" stroke-width="1.2"/>
<circle cx="357.40" cy="379.35" r="2.2" fill="#c2b2de" stroke="#6a42a2" stroke-width="1.2"/>
<circle cx="361.27" cy="381.05" r="2.2" fill="#c2b2de" stroke="#6a42a2" stroke-width="1.2"/>
<circle cx="355.46" cy="383.22" r="2.2" fill="#c2b2de" stroke="#6a42a2" stroke-width="1.2"/>
<circle cx="357.40" cy="388.73" r="2.2" fill="#c2b2de" stroke="#6a42a2" stroke-width="1.2"/>
<circle cx="361.27" cy="390.83" r="2.2" fill="#c2b2de" stroke="#6a42a2" stroke-width="1.2"/>
<circle cx="357.40" cy="402.09" r="2.2" fill="#c2b2de" stroke="#6a42a2" stroke-width="1.2"/>
<circle cx="357.40" cy="419.52" r="2.2" fill="#c2b2de" stroke="#6a42a2" stroke-width="1.2"/>
<circle cx="361.27" cy="420.38" r="2.2" fill="#c2b2de" stroke="#6a42a2" stroke-width="1.2"/>
<circle cx="357.40" cy="424.53" r="2.2" fill="#c2b2de" stroke="#6a42a2" stroke-width="1.2"/>
<circle cx="361.27" cy="427.74" r="2.2" fill="#c2b2de" stroke="#6a42a2" stroke-width="1.2"/>
<circle cx="357.40" cy="430.90" r="2.2" fill="#c2b2de" stroke="#6a42a2" stroke-width="1.2"/>
<line x1="387.90" y1="361.50" x2="387.90" y2="371.30" stroke="#b03a9f" stroke-width="1.8" stroke-linecap="butt"/>
<line x1="387.90" y1="410.60" x2="387.90" y2="427.40" stroke="#b03a9f" stroke-width="1.8" stroke-linecap="butt"/>
<line x1="382.45" y1="361.50" x2="393.34" y2="361.50" stroke="#b03a9f" stroke-width="1.8" stroke-linecap="butt"/>
<line x1="382.45" y1="427.40" x2="393.34" y2="427.40" stroke="#b03a9f" stroke-width="1.8" stroke-linecap="butt"/>
<rect x="378.90" y="371.30" width="18.00" height="39.30" fill="#e0a9d6" stroke="#b03a9f" stroke-width="1.8" />
<line x1="378.90" y1="379.80" x2="396.90" y2="379.80" stroke="#b03a9f" stroke-width="1.8" stroke-linecap="butt"/>
<circle cx="387.90" cy="361.50" r="2.2" fill="#ebc2e4" stroke="#b03a9f" stroke-width="1.2"/>
<circle cx="391.77" cy="361.64" r="2.2" fill="#ebc2e4" stroke="#b03a9f" stroke-width="1.2"/>
<circle cx="384.03" cy="363.32" r="2.2" fill="#ebc2e4" stroke="#b03a9f" stroke-width="1.2"/>
<circle cx="395.64" cy="364.04" r="2.2" fill="#ebc2e4" stroke="#b03a9f" stroke-width="1.2"/>
<circle cx="380.16" cy="364.39" r="2.2" fill="#ebc2e4" stroke="#b03a9f" stroke-width="1.2"/>
<circle cx="387.90" cy="368.69" r="2.2" fill="#ebc2e4" stroke="#b03a9f" stroke-width="1.2"/>
<circle cx="391.77" cy="369.44" r="2.2" fill="#ebc2e4" stroke="#b03a9f" stroke-width="1.2"/>
<circle cx="385.96" cy="372.41" r="2.2" fill="#ebc2e4" stroke="#b03a9f" stroke-width="1.2"/>
<circle cx="389.84" cy="373.26" r="2.2" fill="#ebc2e4" stroke="#b03a9f" stroke-width="1.2"/>
<circle cx="393.71" cy="373.64" r="2.2" fill="#ebc2e4" stroke="#b03a9f" stroke-width="1.2"/>
<circle cx="382.09" cy="374.97" r="2.2" fill="#ebc2e4" stroke="#b03a9f" stroke-width="1.2"/>
<circle cx="387.90" cy="377.12" r="2.2" fill="#ebc2e4" stroke="#b03a9f" stroke-width="1.2"/>
<circle cx="387.90" cy="384.32" r="2.2" fill="#ebc2e4" stroke="#b03a9f" stroke-width="1.2"/>
<circle cx="391.77" cy="384.33" r="2.2" fill="#ebc2e4" stroke="#b03a9f" stroke-width="1.2"/>
<circle cx="387.90" cy="396.16" r="2.2" fill="#ebc2e4" stroke="#b03a9f" stroke-width="1.2"/>
<circle cx="387.90" cy="400.87" r="2.2" fill="#ebc2e4" stroke="#b03a9f" stroke-width="1.2"/>
<circle cx="387.90" cy="405.60" r="2.2" fill="#ebc2e4" stroke="#b03a9f" stroke-width="1.2"/>
<circle cx="387.90" cy="414.19" r="2.2" fill="#ebc2e4" stroke="#b03a9f" stroke-width="1.2"/>
<circle cx="391.77" cy="414.38" r="2.2" fill="#ebc2e4" stroke="#b03a9f" stroke-width="1.2"/>
<circle cx="387.90" cy="420.82" r="2.2" fill="#ebc2e4" stroke="#b03a9f" stroke-width="1.2"/>
<circle cx="387.90" cy="424.87" r="2.2" fill="#ebc2e4" stroke="#b03a9f" stroke-width="1.2"/>
<circle cx="391.77" cy="425.24" r="2.2" fill="#ebc2e4" stroke="#b03a9f" stroke-width="1.2"/>
<circle cx="384.03" cy="427.40" r="2.2" fill="#ebc2e4" stroke="#b03a9f" stroke-width="1.2"/>
<line x1="418.50" y1="358.50" x2="418.50" y2="385.40" stroke="#6aab3d" stroke-width="1.8" stroke-linecap="butt"/>
<line x1="418.50" y1="419.20" x2="418.50" y2="429.30" stroke="#6aab3d" stroke-width="1.8" stroke-linecap="butt"/>
<line x1="413.06" y1="358.50" x2="423.94" y2="358.50" stroke="#6aab3d" stroke-width="1.8" stroke-linecap="butt"/>
<line x1="413.06" y1="429.30" x2="423.94" y2="429.30" stroke="#6aab3d" stroke-width="1.8" stroke-linecap="butt"/>
<rect x="409.50" y="385.40" width="18.00" height="33.80" fill="#c9e29d" stroke="#6aab3d" stroke-width="1.8" />
<line x1="409.50" y1="405.90" x2="427.50" y2="405.90" stroke="#6aab3d" stroke-width="1.8" stroke-linecap="butt"/>
<circle cx="418.50" cy="358.50" r="2.2" fill="#d9ecb9" stroke="#6aab3d" stroke-width="1.2"/>
<circle cx="422.37" cy="361.37" r="2.2" fill="#d9ecb9" stroke="#6aab3d" stroke-width="1.2"/>
<circle cx="414.63" cy="361.68" r="2.2" fill="#d9ecb9" stroke="#6aab3d" stroke-width="1.2"/>
<circle cx="418.50" cy="365.50" r="2.2" fill="#d9ecb9" stroke="#6aab3d" stroke-width="1.2"/>
<circle cx="422.37" cy="365.79" r="2.2" fill="#d9ecb9" stroke="#6aab3d" stroke-width="1.2"/>
<circle cx="414.63" cy="366.65" r="2.2" fill="#d9ecb9" stroke="#6aab3d" stroke-width="1.2"/>
<circle cx="418.50" cy="373.33" r="2.2" fill="#d9ecb9" stroke="#6aab3d" stroke-width="1.2"/>
<circle cx="418.50" cy="389.98" r="2.2" fill="#d9ecb9" stroke="#6aab3d" stroke-width="1.2"/>
<circle cx="422.37" cy="390.64" r="2.2" fill="#d9ecb9" stroke="#6aab3d" stroke-width="1.2"/>
<circle cx="418.50" cy="399.43" r="2.2" fill="#d9ecb9" stroke="#6aab3d" stroke-width="1.2"/>
<circle cx="422.37" cy="399.80" r="2.2" fill="#d9ecb9" stroke="#6aab3d" stroke-width="1.2"/>
<circle cx="414.63" cy="401.89" r="2.2" fill="#d9ecb9" stroke="#6aab3d" stroke-width="1.2"/>
<circle cx="418.50" cy="411.18" r="2.2" fill="#d9ecb9" stroke="#6aab3d" stroke-width="1.2"/>
<circle cx="422.37" cy="414.30" r="2.2" fill="#d9ecb9" stroke="#6aab3d" stroke-width="1.2"/>
<circle cx="416.56" cy="414.57" r="2.2" fill="#d9ecb9" stroke="#6aab3d" stroke-width="1.2"/>
<circle cx="412.69" cy="415.66" r="2.2" fill="#d9ecb9" stroke="#6aab3d" stroke-width="1.2"/>
<circle cx="420.44" cy="417.89" r="2.2" fill="#d9ecb9" stroke="#6aab3d" stroke-width="1.2"/>
<circle cx="416.56" cy="420.71" r="2.2" fill="#d9ecb9" stroke="#6aab3d" stroke-width="1.2"/>
<circle cx="420.44" cy="422.82" r="2.2" fill="#d9ecb9" stroke="#6aab3d" stroke-width="1.2"/>
<circle cx="416.56" cy="425.85" r="2.2" fill="#d9ecb9" stroke="#6aab3d" stroke-width="1.2"/>
<circle cx="420.44" cy="427.05" r="2.2" fill="#d9ecb9" stroke="#6aab3d" stroke-width="1.2"/>
<circle cx="424.31" cy="428.70" r="2.2" fill="#d9ecb9" stroke="#6aab3d" stroke-width="1.2"/>
<circle cx="414.63" cy="429.30" r="2.2" fill="#d9ecb9" stroke="#6aab3d" stroke-width="1.2"/>
<line x1="449.00" y1="408.30" x2="449.00" y2="412.50" stroke="#0f5273" stroke-width="1.8" stroke-linecap="butt"/>
<line x1="449.00" y1="422.30" x2="449.00" y2="434.40" stroke="#0f5273" stroke-width="1.8" stroke-linecap="butt"/>
<line x1="443.56" y1="408.30" x2="454.44" y2="408.30" stroke="#0f5273" stroke-width="1.8" stroke-linecap="butt"/>
<line x1="443.56" y1="434.40" x2="454.44" y2="434.40" stroke="#0f5273" stroke-width="1.8" stroke-linecap="butt"/>
<rect x="440.00" y="412.50" width="18.00" height="9.80" fill="#2e9bbf" stroke="#0f5273" stroke-width="1.8" />
<line x1="440.00" y1="416.90" x2="458.00" y2="416.90" stroke="#0f5273" stroke-width="1.8" stroke-linecap="butt"/>
<circle cx="449.00" cy="408.30" r="2.2" fill="#2e9bbf" stroke="#0f5273" stroke-width="1.2"/>
<circle cx="450.94" cy="411.90" r="2.2" fill="#2e9bbf" stroke="#0f5273" stroke-width="1.2"/>
<circle cx="447.06" cy="412.35" r="2.2" fill="#2e9bbf" stroke="#0f5273" stroke-width="1.2"/>
<circle cx="454.81" cy="412.44" r="2.2" fill="#2e9bbf" stroke="#0f5273" stroke-width="1.2"/>
<circle cx="443.19" cy="412.55" r="2.2" fill="#2e9bbf" stroke="#0f5273" stroke-width="1.2"/>
<circle cx="458.68" cy="412.57" r="2.2" fill="#2e9bbf" stroke="#0f5273" stroke-width="1.2"/>
<circle cx="449.00" cy="416.90" r="2.2" fill="#2e9bbf" stroke="#0f5273" stroke-width="1.2"/>
<circle cx="449.00" cy="420.87" r="2.2" fill="#2e9bbf" stroke="#0f5273" stroke-width="1.2"/>
<circle cx="452.87" cy="421.65" r="2.2" fill="#2e9bbf" stroke="#0f5273" stroke-width="1.2"/>
<circle cx="445.13" cy="424.21" r="2.2" fill="#2e9bbf" stroke="#0f5273" stroke-width="1.2"/>
<circle cx="449.00" cy="430.54" r="2.2" fill="#2e9bbf" stroke="#0f5273" stroke-width="1.2"/>
<circle cx="450.94" cy="434.40" r="2.2" fill="#2e9bbf" stroke="#0f5273" stroke-width="1.2"/>
<path d="M326.90,248.40 V236.10 H449.00 V248.40" fill="none" stroke="#000" stroke-width="2.1"/>
<path d="M375.65,228.70L375.65,221.10M372.36,226.80L378.94,223.00M378.94,226.80L372.36,223.00M383.85,228.70L383.85,221.10M380.56,226.80L387.14,223.00M387.14,226.80L380.56,223.00M392.05,228.70L392.05,221.10M388.76,226.80L395.34,223.00M395.34,226.80L388.76,223.00M400.25,228.70L400.25,221.10M396.96,226.80L403.54,223.00M403.54,226.80L396.96,223.00" stroke="#000" stroke-width="1.9" fill="none"/>
<path d="M357.40,285.20 V271.90 H418.50 V285.20" fill="none" stroke="#000" stroke-width="2.1"/>
<path d="M383.85,264.50L383.85,256.90M380.56,262.60L387.14,258.80M387.14,262.60L380.56,258.80M392.05,264.50L392.05,256.90M388.76,262.60L395.34,258.80M395.34,262.60L388.76,258.80" stroke="#000" stroke-width="1.9" fill="none"/>
<path d="M387.90,321.00 V308.00 H418.50 V321.00" fill="none" stroke="#000" stroke-width="2.1"/>
<path d="M399.10,300.60L399.10,293.00M395.81,298.70L402.39,294.90M402.39,298.70L395.81,294.90M407.30,300.60L407.30,293.00M404.01,298.70L410.59,294.90M410.59,298.70L404.01,294.90" stroke="#000" stroke-width="1.9" fill="none"/>
<text x="329.90" y="492.80" font-size="11.2" font-weight="bold" text-anchor="end" transform="rotate(-45 329.90 492.80)">WT+PBS</text>
<text x="360.40" y="492.80" font-size="11.2" font-weight="bold" text-anchor="end" transform="rotate(-45 360.40 492.80)">WT+LPS</text>
<text x="390.90" y="492.80" font-size="11.2" font-weight="bold" text-anchor="end" transform="rotate(-45 390.90 492.80)"><tspan font-style="italic">Sh3</tspan><tspan font-size="0.72em" dy="-0.55em">+/-</tspan><tspan dy="0.4em">+PBS</tspan></text>
<text x="421.50" y="492.80" font-size="11.2" font-weight="bold" text-anchor="end" transform="rotate(-45 421.50 492.80)"><tspan font-style="italic">Sh3</tspan><tspan font-size="0.72em" dy="-0.55em">+/-</tspan><tspan dy="0.4em">+LPS</tspan></text>
<text x="452.00" y="492.80" font-size="11.2" font-weight="bold" text-anchor="end" transform="rotate(-45 452.00 492.80)"><tspan font-style="italic">Sh3</tspan><tspan font-size="0.72em" dy="-0.55em">-/-</tspan></text>
<line x1="533.30" y1="307.30" x2="533.30" y2="472.90" stroke="#000" stroke-width="2" stroke-linecap="butt"/>
<line x1="524.60" y1="308.40" x2="533.30" y2="308.40" stroke="#000" stroke-width="2" stroke-linecap="butt"/>
<text x="520.70" y="312.47" font-size="11.3" font-weight="bold" text-anchor="end" fill="#000" >300</text>
<line x1="524.60" y1="362.80" x2="533.30" y2="362.80" stroke="#000" stroke-width="2" stroke-linecap="butt"/>
<text x="520.70" y="366.87" font-size="11.3" font-weight="bold" text-anchor="end" fill="#000" >200</text>
<line x1="524.60" y1="417.35" x2="533.30" y2="417.35" stroke="#000" stroke-width="2" stroke-linecap="butt"/>
<text x="520.70" y="421.42" font-size="11.3" font-weight="bold" text-anchor="end" fill="#000" >100</text>
<line x1="524.60" y1="471.90" x2="533.30" y2="471.90" stroke="#000" stroke-width="2" stroke-linecap="butt"/>
<text x="520.70" y="475.97" font-size="11.3" font-weight="bold" text-anchor="end" fill="#000" >0</text>
<line x1="524.60" y1="471.90" x2="675.50" y2="471.90" stroke="#000" stroke-width="2" stroke-linecap="butt"/>
<line x1="554.90" y1="471.90" x2="554.90" y2="480.50" stroke="#000" stroke-width="2" stroke-linecap="butt"/>
<line x1="587.70" y1="471.90" x2="587.70" y2="480.50" stroke="#000" stroke-width="2" stroke-linecap="butt"/>
<line x1="620.50" y1="471.90" x2="620.50" y2="480.50" stroke="#000" stroke-width="2" stroke-linecap="butt"/>
<line x1="653.30" y1="471.90" x2="653.30" y2="480.50" stroke="#000" stroke-width="2" stroke-linecap="butt"/>
<text x="497.4" y="392.7" font-size="10.8" font-weight="bold" text-anchor="middle" transform="rotate(-90 497.4 392.7)">Center duration (s)</text>
<text x="554.90" y="341.30" font-size="8.6" font-weight="normal" text-anchor="middle" fill="#161616" >(n=11)</text>
<text x="587.70" y="341.30" font-size="8.6" font-weight="normal" text-anchor="middle" fill="#161616" >(n=15)</text>
<text x="620.50" y="341.30" font-size="8.6" font-weight="normal" text-anchor="middle" fill="#161616" >(n=14)</text>
<text x="653.30" y="341.30" font-size="8.6" font-weight="normal" text-anchor="middle" fill="#161616" >(n=14)</text>
<line x1="554.90" y1="379.60" x2="554.90" y2="400.00" stroke="#3b6db3" stroke-width="1.8" stroke-linecap="butt"/>
<line x1="554.90" y1="421.90" x2="554.90" y2="440.00" stroke="#3b6db3" stroke-width="1.8" stroke-linecap="butt"/>
<line x1="549.18" y1="379.60" x2="560.62" y2="379.60" stroke="#3b6db3" stroke-width="1.8" stroke-linecap="butt"/>
<line x1="549.18" y1="440.00" x2="560.62" y2="440.00" stroke="#3b6db3" stroke-width="1.8" stroke-linecap="butt"/>
<rect x="545.40" y="400.00" width="19.00" height="21.90" fill="#8fb4e3" stroke="#3b6db3" stroke-width="1.8" />
<line x1="545.40" y1="414.70" x2="564.40" y2="414.70" stroke="#3b6db3" stroke-width="1.8" stroke-linecap="butt"/>
<circle cx="554.90" cy="379.60" r="2.2" fill="#a8c5ec" stroke="#3b6db3" stroke-width="1.2"/>
<circle cx="556.84" cy="382.96" r="2.2" fill="#a8c5ec" stroke="#3b6db3" stroke-width="1.2"/>
<circle cx="552.96" cy="384.01" r="2.2" fill="#a8c5ec" stroke="#3b6db3" stroke-width="1.2"/>
<circle cx="554.90" cy="389.90" r="2.2" fill="#a8c5ec" stroke="#3b6db3" stroke-width="1.2"/>
<circle cx="554.90" cy="410.14" r="2.2" fill="#a8c5ec" stroke="#3b6db3" stroke-width="1.2"/>
<circle cx="558.77" cy="411.65" r="2.2" fill="#a8c5ec" stroke="#3b6db3" stroke-width="1.2"/>
<circle cx="554.90" cy="419.27" r="2.2" fill="#a8c5ec" stroke="#3b6db3" stroke-width="1.2"/>
<circle cx="558.77" cy="420.52" r="2.2" fill="#a8c5ec" stroke="#3b6db3" stroke-width="1.2"/>
<circle cx="554.90" cy="430.57" r="2.2" fill="#a8c5ec" stroke="#3b6db3" stroke-width="1.2"/>
<circle cx="558.77" cy="431.18" r="2.2" fill="#a8c5ec" stroke="#3b6db3" stroke-width="1.2"/>
<circle cx="554.90" cy="440.00" r="2.2" fill="#a8c5ec" stroke="#3b6db3" stroke-width="1.2"/>
<line x1="587.70" y1="358.60" x2="587.70" y2="400.60" stroke="#6a42a2" stroke-width="1.8" stroke-linecap="butt"/>
<line x1="587.70" y1="436.90" x2="587.70" y2="444.50" stroke="#6a42a2" stroke-width="1.8" stroke-linecap="butt"/>
<line x1="581.98" y1="358.60" x2="593.42" y2="358.60" stroke="#6a42a2" stroke-width="1.8" stroke-linecap="butt"/>
<line x1="581.98" y1="444.50" x2="593.42" y2="444.50" stroke="#6a42a2" stroke-width="1.8" stroke-linecap="butt"/>
<rect x="578.20" y="400.60" width="19.00" height="36.30" fill="#b09dd2" stroke="#6a42a2" stroke-width="1.8" />
<line x1="578.20" y1="422.60" x2="597.20" y2="422.60" stroke="#6a42a2" stroke-width="1.8" stroke-linecap="butt"/>
<circle cx="587.70" cy="358.60" r="2.2" fill="#c2b2de" stroke="#6a42a2" stroke-width="1.2"/>
<circle cx="587.70" cy="366.34" r="2.2" fill="#c2b2de" stroke="#6a42a2" stroke-width="1.2"/>
<circle cx="587.70" cy="383.85" r="2.2" fill="#c2b2de" stroke="#6a42a2" stroke-width="1.2"/>
<circle cx="587.70" cy="395.96" r="2.2" fill="#c2b2de" stroke="#6a42a2" stroke-width="1.2"/>
<circle cx="591.57" cy="398.84" r="2.2" fill="#c2b2de" stroke="#6a42a2" stroke-width="1.2"/>
<circle cx="587.70" cy="403.25" r="2.2" fill="#c2b2de" stroke="#6a42a2" stroke-width="1.2"/>
<circle cx="591.57" cy="403.69" r="2.2" fill="#c2b2de" stroke="#6a42a2" stroke-width="1.2"/>
<circle cx="583.83" cy="405.70" r="2.2" fill="#c2b2de" stroke="#6a42a2" stroke-width="1.2"/>
<circle cx="587.70" cy="422.94" r="2.2" fill="#c2b2de" stroke="#6a42a2" stroke-width="1.2"/>
<circle cx="587.70" cy="431.92" r="2.2" fill="#c2b2de" stroke="#6a42a2" stroke-width="1.2"/>
<circle cx="587.70" cy="436.32" r="2.2" fill="#c2b2de" stroke="#6a42a2" stroke-width="1.2"/>
<circle cx="591.57" cy="439.33" r="2.2" fill="#c2b2de" stroke="#6a42a2" stroke-width="1.2"/>
<circle cx="583.83" cy="439.53" r="2.2" fill="#c2b2de" stroke="#6a42a2" stroke-width="1.2"/>
<circle cx="587.70" cy="444.49" r="2.2" fill="#c2b2de" stroke="#6a42a2" stroke-width="1.2"/>
<circle cx="591.57" cy="444.50" r="2.2" fill="#c2b2de" stroke="#6a42a2" stroke-width="1.2"/>
<line x1="620.50" y1="355.40" x2="620.50" y2="369.00" stroke="#b03a9f" stroke-width="1.8" stroke-linecap="butt"/>
<line x1="620.50" y1="393.90" x2="620.50" y2="401.10" stroke="#b03a9f" stroke-width="1.8" stroke-linecap="butt"/>
<line x1="614.78" y1="355.40" x2="626.22" y2="355.40" stroke="#b03a9f" stroke-width="1.8" stroke-linecap="butt"/>
<line x1="614.78" y1="401.10" x2="626.22" y2="401.10" stroke="#b03a9f" stroke-width="1.8" stroke-linecap="butt"/>
<rect x="611.00" y="369.00" width="19.00" height="24.90" fill="#e0a9d6" stroke="#b03a9f" stroke-width="1.8" />
<line x1="611.00" y1="385.30" x2="630.00" y2="385.30" stroke="#b03a9f" stroke-width="1.8" stroke-linecap="butt"/>
<circle cx="620.50" cy="355.40" r="2.2" fill="#ebc2e4" stroke="#b03a9f" stroke-width="1.2"/>
<circle cx="624.37" cy="358.01" r="2.2" fill="#ebc2e4" stroke="#b03a9f" stroke-width="1.2"/>
<circle cx="620.50" cy="363.45" r="2.2" fill="#ebc2e4" stroke="#b03a9f" stroke-width="1.2"/>
<circle cx="620.50" cy="367.98" r="2.2" fill="#ebc2e4" stroke="#b03a9f" stroke-width="1.2"/>
<circle cx="620.50" cy="375.91" r="2.2" fill="#ebc2e4" stroke="#b03a9f" stroke-width="1.2"/>
<circle cx="624.37" cy="376.25" r="2.2" fill="#ebc2e4" stroke="#b03a9f" stroke-width="1.2"/>
<circle cx="620.50" cy="384.46" r="2.2" fill="#ebc2e4" stroke="#b03a9f" stroke-width="1.2"/>
<circle cx="624.37" cy="387.20" r="2.2" fill="#ebc2e4" stroke="#b03a9f" stroke-width="1.2"/>
<circle cx="620.50" cy="389.86" r="2.2" fill="#ebc2e4" stroke="#b03a9f" stroke-width="1.2"/>
<circle cx="624.37" cy="392.97" r="2.2" fill="#ebc2e4" stroke="#b03a9f" stroke-width="1.2"/>
<circle cx="620.50" cy="394.50" r="2.2" fill="#ebc2e4" stroke="#b03a9f" stroke-width="1.2"/>
<circle cx="616.63" cy="394.84" r="2.2" fill="#ebc2e4" stroke="#b03a9f" stroke-width="1.2"/>
<circle cx="624.37" cy="397.18" r="2.2" fill="#ebc2e4" stroke="#b03a9f" stroke-width="1.2"/>
<circle cx="620.50" cy="401.10" r="2.2" fill="#ebc2e4" stroke="#b03a9f" stroke-width="1.2"/>
<line x1="653.30" y1="355.40" x2="653.30" y2="395.00" stroke="#6aab3d" stroke-width="1.8" stroke-linecap="butt"/>
<line x1="653.30" y1="415.80" x2="653.30" y2="447.50" stroke="#6aab3d" stroke-width="1.8" stroke-linecap="butt"/>
<line x1="647.58" y1="355.40" x2="659.02" y2="355.40" stroke="#6aab3d" stroke-width="1.8" stroke-linecap="butt"/>
<line x1="647.58" y1="447.50" x2="659.02" y2="447.50" stroke="#6aab3d" stroke-width="1.8" stroke-linecap="butt"/>
<rect x="643.80" y="395.00" width="19.00" height="20.80" fill="#c9e29d" stroke="#6aab3d" stroke-width="1.8" />
<line x1="643.80" y1="410.20" x2="662.80" y2="410.20" stroke="#6aab3d" stroke-width="1.8" stroke-linecap="butt"/>
<circle cx="653.30" cy="355.40" r="2.2" fill="#d9ecb9" stroke="#6aab3d" stroke-width="1.2"/>
<circle cx="653.30" cy="361.39" r="2.2" fill="#d9ecb9" stroke="#6aab3d" stroke-width="1.2"/>
<circle cx="657.17" cy="363.09" r="2.2" fill="#d9ecb9" stroke="#6aab3d" stroke-width="1.2"/>
<circle cx="653.30" cy="383.61" r="2.2" fill="#d9ecb9" stroke="#6aab3d" stroke-width="1.2"/>
<circle cx="653.30" cy="405.20" r="2.2" fill="#d9ecb9" stroke="#6aab3d" stroke-width="1.2"/>
<circle cx="657.17" cy="405.74" r="2.2" fill="#d9ecb9" stroke="#6aab3d" stroke-width="1.2"/>
<circle cx="649.43" cy="407.76" r="2.2" fill="#d9ecb9" stroke="#6aab3d" stroke-width="1.2"/>
<circle cx="653.30" cy="410.71" r="2.2" fill="#d9ecb9" stroke="#6aab3d" stroke-width="1.2"/>
<circle cx="657.17" cy="411.22" r="2.2" fill="#d9ecb9" stroke="#6aab3d" stroke-width="1.2"/>
<circle cx="651.36" cy="414.26" r="2.2" fill="#d9ecb9" stroke="#6aab3d" stroke-width="1.2"/>
<circle cx="653.30" cy="439.82" r="2.2" fill="#d9ecb9" stroke="#6aab3d" stroke-width="1.2"/>
<circle cx="657.17" cy="440.08" r="2.2" fill="#d9ecb9" stroke="#6aab3d" stroke-width="1.2"/>
<circle cx="653.30" cy="447.45" r="2.2" fill="#d9ecb9" stroke="#6aab3d" stroke-width="1.2"/>
<circle cx="657.17" cy="447.50" r="2.2" fill="#d9ecb9" stroke="#6aab3d" stroke-width="1.2"/>
<path d="M554.90,311.30 V297.90 H616.70 V311.30" fill="none" stroke="#000" stroke-width="2.1"/>
<path d="M577.60,290.50L577.60,282.90M574.31,288.60L580.89,284.80M580.89,288.60L574.31,284.80M585.80,290.50L585.80,282.90M582.51,288.60L589.09,284.80M589.09,288.60L582.51,284.80M594.00,290.50L594.00,282.90M590.71,288.60L597.29,284.80M597.29,288.60L590.71,284.80" stroke="#000" stroke-width="1.9" fill="none"/>
<path d="M624.40,311.30 V297.90 H653.70 V311.30" fill="none" stroke="#000" stroke-width="2.1"/>
<path d="M634.95,290.50L634.95,282.90M631.66,288.60L638.24,284.80M638.24,288.60L631.66,284.80M643.15,290.50L643.15,282.90M639.86,288.60L646.44,284.80M646.44,288.60L639.86,284.80" stroke="#000" stroke-width="1.9" fill="none"/>
<text x="557.90" y="492.30" font-size="11.2" font-weight="bold" text-anchor="end" transform="rotate(-45 557.90 492.30)">WT+PBS</text>
<text x="590.70" y="492.30" font-size="11.2" font-weight="bold" text-anchor="end" transform="rotate(-45 590.70 492.30)">WT+LPS</text>
<text x="623.50" y="492.30" font-size="11.2" font-weight="bold" text-anchor="end" transform="rotate(-45 623.50 492.30)"><tspan font-style="italic">Sh3</tspan><tspan font-size="0.72em" dy="-0.55em">+/-</tspan><tspan dy="0.4em">+PBS</tspan></text>
<text x="656.30" y="492.30" font-size="11.2" font-weight="bold" text-anchor="end" transform="rotate(-45 656.30 492.30)"><tspan font-style="italic">Sh3</tspan><tspan font-size="0.72em" dy="-0.55em">+/-</tspan><tspan dy="0.4em">+LPS</tspan></text>
<line x1="96.90" y1="626.80" x2="96.90" y2="751.00" stroke="#000" stroke-width="2" stroke-linecap="butt"/>
<line x1="88.20" y1="627.80" x2="96.90" y2="627.80" stroke="#000" stroke-width="2" stroke-linecap="butt"/>
<text x="84.30" y="631.87" font-size="11.3" font-weight="bold" text-anchor="end" fill="#000" >2000</text>
<line x1="88.20" y1="658.35" x2="96.90" y2="658.35" stroke="#000" stroke-width="2" stroke-linecap="butt"/>
<text x="84.30" y="662.42" font-size="11.3" font-weight="bold" text-anchor="end" fill="#000" >1500</text>
<line x1="88.20" y1="688.90" x2="96.90" y2="688.90" stroke="#000" stroke-width="2" stroke-linecap="butt"/>
<text x="84.30" y="692.97" font-size="11.3" font-weight="bold" text-anchor="end" fill="#000" >1000</text>
<line x1="88.20" y1="719.45" x2="96.90" y2="719.45" stroke="#000" stroke-width="2" stroke-linecap="butt"/>
<text x="84.30" y="723.52" font-size="11.3" font-weight="bold" text-anchor="end" fill="#000" >500</text>
<line x1="88.20" y1="750.00" x2="96.90" y2="750.00" stroke="#000" stroke-width="2" stroke-linecap="butt"/>
<text x="84.30" y="754.07" font-size="11.3" font-weight="bold" text-anchor="end" fill="#000" >0</text>
<line x1="88.20" y1="750.00" x2="280.00" y2="750.00" stroke="#000" stroke-width="2" stroke-linecap="butt"/>
<line x1="125.20" y1="750.00" x2="125.20" y2="758.50" stroke="#000" stroke-width="2" stroke-linecap="butt"/>
<line x1="167.40" y1="750.00" x2="167.40" y2="758.50" stroke="#000" stroke-width="2" stroke-linecap="butt"/>
<line x1="209.20" y1="750.00" x2="209.20" y2="758.50" stroke="#000" stroke-width="2" stroke-linecap="butt"/>
<line x1="251.80" y1="750.00" x2="251.80" y2="758.50" stroke="#000" stroke-width="2" stroke-linecap="butt"/>
<text x="41.5" y="691.1" font-size="10.9" font-weight="bold" text-anchor="middle" transform="rotate(-90 41.5 691.1)">Moving distance</text>
<text x="54.3" y="691.3" font-size="10.9" font-weight="bold" text-anchor="middle" transform="rotate(-90 54.3 691.3)">in light chamber (cm)</text>
<text x="126.90" y="648.50" font-size="8.6" font-weight="normal" text-anchor="middle" fill="#161616" >(n=14)</text>
<text x="169.10" y="648.50" font-size="8.6" font-weight="normal" text-anchor="middle" fill="#161616" >(n=16)</text>
<text x="210.90" y="648.50" font-size="8.6" font-weight="normal" text-anchor="middle" fill="#161616" >(n=16)</text>
<text x="253.50" y="648.50" font-size="8.6" font-weight="normal" text-anchor="middle" fill="#161616" >(n=15)</text>
<line x1="125.20" y1="682.00" x2="125.20" y2="689.90" stroke="#3b6db3" stroke-width="1.8" stroke-linecap="butt"/>
<line x1="125.20" y1="710.90" x2="125.20" y2="735.10" stroke="#3b6db3" stroke-width="1.8" stroke-linecap="butt"/>
<line x1="117.83" y1="682.00" x2="132.57" y2="682.00" stroke="#3b6db3" stroke-width="1.8" stroke-linecap="butt"/>
<line x1="117.83" y1="735.10" x2="132.57" y2="735.10" stroke="#3b6db3" stroke-width="1.8" stroke-linecap="butt"/>
<rect x="112.70" y="689.90" width="25.00" height="21.00" fill="#8fb4e3" stroke="#3b6db3" stroke-width="1.8" />
<line x1="112.70" y1="696.50" x2="137.70" y2="696.50" stroke="#3b6db3" stroke-width="1.8" stroke-linecap="butt"/>
<circle cx="125.20" cy="682.00" r="2.2" fill="#a8c5ec" stroke="#3b6db3" stroke-width="1.2"/>
<circle cx="129.07" cy="682.10" r="2.2" fill="#a8c5ec" stroke="#3b6db3" stroke-width="1.2"/>
<circle cx="121.33" cy="683.10" r="2.2" fill="#a8c5ec" stroke="#3b6db3" stroke-width="1.2"/>
<circle cx="132.94" cy="683.16" r="2.2" fill="#a8c5ec" stroke="#3b6db3" stroke-width="1.2"/>
<circle cx="125.20" cy="690.64" r="2.2" fill="#a8c5ec" stroke="#3b6db3" stroke-width="1.2"/>
<circle cx="129.07" cy="690.64" r="2.2" fill="#a8c5ec" stroke="#3b6db3" stroke-width="1.2"/>
<circle cx="125.20" cy="694.79" r="2.2" fill="#a8c5ec" stroke="#3b6db3" stroke-width="1.2"/>
<circle cx="125.20" cy="699.84" r="2.2" fill="#a8c5ec" stroke="#3b6db3" stroke-width="1.2"/>
<circle cx="129.07" cy="702.16" r="2.2" fill="#a8c5ec" stroke="#3b6db3" stroke-width="1.2"/>
<circle cx="125.20" cy="706.04" r="2.2" fill="#a8c5ec" stroke="#3b6db3" stroke-width="1.2"/>
<circle cx="125.20" cy="714.21" r="2.2" fill="#a8c5ec" stroke="#3b6db3" stroke-width="1.2"/>
<circle cx="125.20" cy="727.45" r="2.2" fill="#a8c5ec" stroke="#3b6db3" stroke-width="1.2"/>
<circle cx="129.07" cy="729.23" r="2.2" fill="#a8c5ec" stroke="#3b6db3" stroke-width="1.2"/>
<circle cx="125.20" cy="735.10" r="2.2" fill="#a8c5ec" stroke="#3b6db3" stroke-width="1.2"/>
<line x1="167.40" y1="659.30" x2="167.40" y2="683.00" stroke="#6a42a2" stroke-width="1.8" stroke-linecap="butt"/>
<line x1="167.40" y1="714.90" x2="167.40" y2="735.40" stroke="#6a42a2" stroke-width="1.8" stroke-linecap="butt"/>
<line x1="160.03" y1="659.30" x2="174.77" y2="659.30" stroke="#6a42a2" stroke-width="1.8" stroke-linecap="butt"/>
<line x1="160.03" y1="735.40" x2="174.77" y2="735.40" stroke="#6a42a2" stroke-width="1.8" stroke-linecap="butt"/>
<rect x="154.90" y="683.00" width="25.00" height="31.90" fill="#b09dd2" stroke="#6a42a2" stroke-width="1.8" />
<line x1="154.90" y1="696.80" x2="179.90" y2="696.80" stroke="#6a42a2" stroke-width="1.8" stroke-linecap="butt"/>
<circle cx="167.40" cy="659.30" r="2.2" fill="#c2b2de" stroke="#6a42a2" stroke-width="1.2"/>
<circle cx="171.27" cy="661.13" r="2.2" fill="#c2b2de" stroke="#6a42a2" stroke-width="1.2"/>
<circle cx="167.40" cy="668.09" r="2.2" fill="#c2b2de" stroke="#6a42a2" stroke-width="1.2"/>
<circle cx="171.27" cy="671.06" r="2.2" fill="#c2b2de" stroke="#6a42a2" stroke-width="1.2"/>
<circle cx="167.40" cy="679.28" r="2.2" fill="#c2b2de" stroke="#6a42a2" stroke-width="1.2"/>
<circle cx="169.34" cy="683.01" r="2.2" fill="#c2b2de" stroke="#6a42a2" stroke-width="1.2"/>
<circle cx="165.46" cy="685.95" r="2.2" fill="#c2b2de" stroke="#6a42a2" stroke-width="1.2"/>
<circle cx="167.40" cy="690.21" r="2.2" fill="#c2b2de" stroke="#6a42a2" stroke-width="1.2"/>
<circle cx="171.27" cy="692.94" r="2.2" fill="#c2b2de" stroke="#6a42a2" stroke-width="1.2"/>
<circle cx="167.40" cy="698.61" r="2.2" fill="#c2b2de" stroke="#6a42a2" stroke-width="1.2"/>
<circle cx="169.34" cy="702.29" r="2.2" fill="#c2b2de" stroke="#6a42a2" stroke-width="1.2"/>
<circle cx="167.40" cy="713.90" r="2.2" fill="#c2b2de" stroke="#6a42a2" stroke-width="1.2"/>
<circle cx="167.40" cy="725.33" r="2.2" fill="#c2b2de" stroke="#6a42a2" stroke-width="1.2"/>
<circle cx="167.40" cy="732.98" r="2.2" fill="#c2b2de" stroke="#6a42a2" stroke-width="1.2"/>
<circle cx="171.27" cy="733.35" r="2.2" fill="#c2b2de" stroke="#6a42a2" stroke-width="1.2"/>
<circle cx="163.53" cy="735.40" r="2.2" fill="#c2b2de" stroke="#6a42a2" stroke-width="1.2"/>
<line x1="209.20" y1="662.90" x2="209.20" y2="692.50" stroke="#b03a9f" stroke-width="1.8" stroke-linecap="butt"/>
<line x1="209.20" y1="711.50" x2="209.20" y2="714.90" stroke="#b03a9f" stroke-width="1.8" stroke-linecap="butt"/>
<line x1="201.83" y1="662.90" x2="216.57" y2="662.90" stroke="#b03a9f" stroke-width="1.8" stroke-linecap="butt"/>
<line x1="201.83" y1="714.90" x2="216.57" y2="714.90" stroke="#b03a9f" stroke-width="1.8" stroke-linecap="butt"/>
<rect x="196.70" y="692.50" width="25.00" height="19.00" fill="#e0a9d6" stroke="#b03a9f" stroke-width="1.8" />
<line x1="196.70" y1="704.40" x2="221.70" y2="704.40" stroke="#b03a9f" stroke-width="1.8" stroke-linecap="butt"/>
<circle cx="209.20" cy="662.90" r="2.2" fill="#ebc2e4" stroke="#b03a9f" stroke-width="1.2"/>
<circle cx="209.20" cy="678.54" r="2.2" fill="#ebc2e4" stroke="#b03a9f" stroke-width="1.2"/>
<circle cx="213.07" cy="679.78" r="2.2" fill="#ebc2e4" stroke="#b03a9f" stroke-width="1.2"/>
<circle cx="207.26" cy="682.19" r="2.2" fill="#ebc2e4" stroke="#b03a9f" stroke-width="1.2"/>
<circle cx="203.39" cy="682.20" r="2.2" fill="#ebc2e4" stroke="#b03a9f" stroke-width="1.2"/>
<circle cx="209.20" cy="697.80" r="2.2" fill="#ebc2e4" stroke="#b03a9f" stroke-width="1.2"/>
<circle cx="213.07" cy="699.84" r="2.2" fill="#ebc2e4" stroke="#b03a9f" stroke-width="1.2"/>
<circle cx="205.33" cy="700.02" r="2.2" fill="#ebc2e4" stroke="#b03a9f" stroke-width="1.2"/>
<circle cx="209.20" cy="703.10" r="2.2" fill="#ebc2e4" stroke="#b03a9f" stroke-width="1.2"/>
<circle cx="209.20" cy="707.97" r="2.2" fill="#ebc2e4" stroke="#b03a9f" stroke-width="1.2"/>
<circle cx="213.07" cy="710.20" r="2.2" fill="#ebc2e4" stroke="#b03a9f" stroke-width="1.2"/>
<circle cx="205.33" cy="710.85" r="2.2" fill="#ebc2e4" stroke="#b03a9f" stroke-width="1.2"/>
<circle cx="209.20" cy="712.13" r="2.2" fill="#ebc2e4" stroke="#b03a9f" stroke-width="1.2"/>
<circle cx="216.94" cy="712.44" r="2.2" fill="#ebc2e4" stroke="#b03a9f" stroke-width="1.2"/>
<circle cx="213.07" cy="714.79" r="2.2" fill="#ebc2e4" stroke="#b03a9f" stroke-width="1.2"/>
<circle cx="205.33" cy="714.90" r="2.2" fill="#ebc2e4" stroke="#b03a9f" stroke-width="1.2"/>
<line x1="251.80" y1="692.00" x2="251.80" y2="707.80" stroke="#6aab3d" stroke-width="1.8" stroke-linecap="butt"/>
<line x1="251.80" y1="722.00" x2="251.80" y2="732.50" stroke="#6aab3d" stroke-width="1.8" stroke-linecap="butt"/>
<line x1="244.43" y1="692.00" x2="259.17" y2="692.00" stroke="#6aab3d" stroke-width="1.8" stroke-linecap="butt"/>
<line x1="244.43" y1="732.50" x2="259.17" y2="732.50" stroke="#6aab3d" stroke-width="1.8" stroke-linecap="butt"/>
<rect x="239.30" y="707.80" width="25.00" height="14.20" fill="#c9e29d" stroke="#6aab3d" stroke-width="1.8" />
<line x1="239.30" y1="716.20" x2="264.30" y2="716.20" stroke="#6aab3d" stroke-width="1.8" stroke-linecap="butt"/>
<circle cx="251.80" cy="692.00" r="2.2" fill="#d9ecb9" stroke="#6aab3d" stroke-width="1.2"/>
<circle cx="251.80" cy="696.33" r="2.2" fill="#d9ecb9" stroke="#6aab3d" stroke-width="1.2"/>
<circle cx="255.67" cy="696.84" r="2.2" fill="#d9ecb9" stroke="#6aab3d" stroke-width="1.2"/>
<circle cx="251.80" cy="700.36" r="2.2" fill="#d9ecb9" stroke="#6aab3d" stroke-width="1.2"/>
<circle cx="251.80" cy="705.94" r="2.2" fill="#d9ecb9" stroke="#6aab3d" stroke-width="1.2"/>
<circle cx="255.67" cy="708.59" r="2.2" fill="#d9ecb9" stroke="#6aab3d" stroke-width="1.2"/>
<circle cx="251.80" cy="710.86" r="2.2" fill="#d9ecb9" stroke="#6aab3d" stroke-width="1.2"/>
<circle cx="255.67" cy="712.72" r="2.2" fill="#d9ecb9" stroke="#6aab3d" stroke-width="1.2"/>
<circle cx="251.80" cy="719.17" r="2.2" fill="#d9ecb9" stroke="#6aab3d" stroke-width="1.2"/>
<circle cx="255.67" cy="721.09" r="2.2" fill="#d9ecb9" stroke="#6aab3d" stroke-width="1.2"/>
<circle cx="247.93" cy="721.70" r="2.2" fill="#d9ecb9" stroke="#6aab3d" stroke-width="1.2"/>
<circle cx="251.80" cy="723.63" r="2.2" fill="#d9ecb9" stroke="#6aab3d" stroke-width="1.2"/>
<circle cx="255.67" cy="726.45" r="2.2" fill="#d9ecb9" stroke="#6aab3d" stroke-width="1.2"/>
<circle cx="251.80" cy="731.44" r="2.2" fill="#d9ecb9" stroke="#6aab3d" stroke-width="1.2"/>
<circle cx="255.67" cy="732.50" r="2.2" fill="#d9ecb9" stroke="#6aab3d" stroke-width="1.2"/>
<path d="M167.40,598.60 V585.60 H251.80 V598.60" fill="none" stroke="#000" stroke-width="2.1"/>
<path d="M209.60,578.20L209.60,570.60M206.31,576.30L212.89,572.50M212.89,576.30L206.31,572.50" stroke="#000" stroke-width="1.9" fill="none"/>
<path d="M209.20,633.90 V621.10 H251.80 V633.90" fill="none" stroke="#000" stroke-width="2.1"/>
<path d="M230.50,613.70L230.50,606.10M227.21,611.80L233.79,608.00M233.79,611.80L227.21,608.00" stroke="#000" stroke-width="1.9" fill="none"/>
<text x="126.70" y="769.50" font-size="11.0" font-weight="bold" text-anchor="end" transform="rotate(-45 126.70 769.50)">WT+PBS</text>
<text x="168.90" y="769.50" font-size="11.0" font-weight="bold" text-anchor="end" transform="rotate(-45 168.90 769.50)">WT+LPS</text>
<text x="210.70" y="769.50" font-size="11.0" font-weight="bold" text-anchor="end" transform="rotate(-45 210.70 769.50)"><tspan font-style="italic">Sh3</tspan><tspan font-size="0.72em" dy="-0.55em">+/-</tspan><tspan dy="0.4em">+PBS</tspan></text>
<text x="253.30" y="769.50" font-size="11.0" font-weight="bold" text-anchor="end" transform="rotate(-45 253.30 769.50)"><tspan font-style="italic">Sh3</tspan><tspan font-size="0.72em" dy="-0.55em">+/-</tspan><tspan dy="0.4em">+LPS</tspan></text>
<line x1="441.60" y1="625.50" x2="441.60" y2="749.80" stroke="#000" stroke-width="2" stroke-linecap="butt"/>
<line x1="433.30" y1="626.55" x2="441.60" y2="626.55" stroke="#000" stroke-width="2" stroke-linecap="butt"/>
<text x="429.40" y="630.62" font-size="11.3" font-weight="bold" text-anchor="end" fill="#000" >100</text>
<line x1="433.30" y1="651.00" x2="441.60" y2="651.00" stroke="#000" stroke-width="2" stroke-linecap="butt"/>
<text x="429.40" y="655.07" font-size="11.3" font-weight="bold" text-anchor="end" fill="#000" >80</text>
<line x1="433.30" y1="675.45" x2="441.60" y2="675.45" stroke="#000" stroke-width="2" stroke-linecap="butt"/>
<text x="429.40" y="679.52" font-size="11.3" font-weight="bold" text-anchor="end" fill="#000" >60</text>
<line x1="433.30" y1="699.90" x2="441.60" y2="699.90" stroke="#000" stroke-width="2" stroke-linecap="butt"/>
<text x="429.40" y="703.97" font-size="11.3" font-weight="bold" text-anchor="end" fill="#000" >40</text>
<line x1="433.30" y1="724.35" x2="441.60" y2="724.35" stroke="#000" stroke-width="2" stroke-linecap="butt"/>
<text x="429.40" y="728.42" font-size="11.3" font-weight="bold" text-anchor="end" fill="#000" >20</text>
<line x1="433.30" y1="748.80" x2="441.60" y2="748.80" stroke="#000" stroke-width="2" stroke-linecap="butt"/>
<text x="429.40" y="752.87" font-size="11.3" font-weight="bold" text-anchor="end" fill="#000" >0</text>
<line x1="433.30" y1="748.80" x2="624.30" y2="748.80" stroke="#000" stroke-width="2" stroke-linecap="butt"/>
<line x1="469.40" y1="748.80" x2="469.40" y2="757.60" stroke="#000" stroke-width="2" stroke-linecap="butt"/>
<line x1="511.60" y1="748.80" x2="511.60" y2="757.60" stroke="#000" stroke-width="2" stroke-linecap="butt"/>
<line x1="553.80" y1="748.80" x2="553.80" y2="757.60" stroke="#000" stroke-width="2" stroke-linecap="butt"/>
<line x1="596.40" y1="748.80" x2="596.40" y2="757.60" stroke="#000" stroke-width="2" stroke-linecap="butt"/>
<text x="405.4" y="683.5" font-size="10.8" font-weight="bold" text-anchor="middle" transform="rotate(-90 405.4 683.5)">Duration (s)</text>
<text x="468.60" y="655.00" font-size="8.6" font-weight="normal" text-anchor="middle" fill="#161616" >(n=12)</text>
<text x="510.80" y="655.00" font-size="8.6" font-weight="normal" text-anchor="middle" fill="#161616" >(n=16)</text>
<text x="553.00" y="655.00" font-size="8.6" font-weight="normal" text-anchor="middle" fill="#161616" >(n=17)</text>
<text x="595.60" y="655.00" font-size="8.6" font-weight="normal" text-anchor="middle" fill="#161616" >(n=19)</text>
<line x1="469.40" y1="669.90" x2="469.40" y2="682.90" stroke="#3b6db3" stroke-width="1.8" stroke-linecap="butt"/>
<line x1="469.40" y1="731.00" x2="469.40" y2="746.80" stroke="#3b6db3" stroke-width="1.8" stroke-linecap="butt"/>
<line x1="462.52" y1="669.90" x2="476.27" y2="669.90" stroke="#3b6db3" stroke-width="1.8" stroke-linecap="butt"/>
<line x1="462.52" y1="746.80" x2="476.27" y2="746.80" stroke="#3b6db3" stroke-width="1.8" stroke-linecap="butt"/>
<rect x="457.80" y="682.90" width="23.20" height="48.10" fill="#8fb4e3" stroke="#3b6db3" stroke-width="1.8" />
<line x1="457.80" y1="712.10" x2="481.00" y2="712.10" stroke="#3b6db3" stroke-width="1.8" stroke-linecap="butt"/>
<circle cx="469.40" cy="669.90" r="2.2" fill="#a8c5ec" stroke="#3b6db3" stroke-width="1.2"/>
<circle cx="469.40" cy="674.85" r="2.2" fill="#a8c5ec" stroke="#3b6db3" stroke-width="1.2"/>
<circle cx="473.27" cy="677.41" r="2.2" fill="#a8c5ec" stroke="#3b6db3" stroke-width="1.2"/>
<circle cx="469.40" cy="679.41" r="2.2" fill="#a8c5ec" stroke="#3b6db3" stroke-width="1.2"/>
<circle cx="469.40" cy="689.64" r="2.2" fill="#a8c5ec" stroke="#3b6db3" stroke-width="1.2"/>
<circle cx="469.40" cy="699.73" r="2.2" fill="#a8c5ec" stroke="#3b6db3" stroke-width="1.2"/>
<circle cx="473.27" cy="703.05" r="2.2" fill="#a8c5ec" stroke="#3b6db3" stroke-width="1.2"/>
<circle cx="469.40" cy="715.24" r="2.2" fill="#a8c5ec" stroke="#3b6db3" stroke-width="1.2"/>
<circle cx="469.40" cy="722.55" r="2.2" fill="#a8c5ec" stroke="#3b6db3" stroke-width="1.2"/>
<circle cx="469.40" cy="737.06" r="2.2" fill="#a8c5ec" stroke="#3b6db3" stroke-width="1.2"/>
<circle cx="469.40" cy="745.44" r="2.2" fill="#a8c5ec" stroke="#3b6db3" stroke-width="1.2"/>
<circle cx="473.27" cy="746.80" r="2.2" fill="#a8c5ec" stroke="#3b6db3" stroke-width="1.2"/>
<line x1="511.60" y1="687.70" x2="511.60" y2="718.40" stroke="#6a42a2" stroke-width="1.8" stroke-linecap="butt"/>
<line x1="511.60" y1="734.20" x2="511.60" y2="748.30" stroke="#6a42a2" stroke-width="1.8" stroke-linecap="butt"/>
<line x1="504.73" y1="687.70" x2="518.48" y2="687.70" stroke="#6a42a2" stroke-width="1.8" stroke-linecap="butt"/>
<line x1="504.73" y1="748.30" x2="518.48" y2="748.30" stroke="#6a42a2" stroke-width="1.8" stroke-linecap="butt"/>
<rect x="500.00" y="718.40" width="23.20" height="15.80" fill="#b09dd2" stroke="#6a42a2" stroke-width="1.8" />
<line x1="500.00" y1="727.10" x2="523.20" y2="727.10" stroke="#6a42a2" stroke-width="1.8" stroke-linecap="butt"/>
<circle cx="511.60" cy="687.70" r="2.2" fill="#c2b2de" stroke="#6a42a2" stroke-width="1.2"/>
<circle cx="515.47" cy="688.51" r="2.2" fill="#c2b2de" stroke="#6a42a2" stroke-width="1.2"/>
<circle cx="511.60" cy="700.65" r="2.2" fill="#c2b2de" stroke="#6a42a2" stroke-width="1.2"/>
<circle cx="511.60" cy="707.33" r="2.2" fill="#c2b2de" stroke="#6a42a2" stroke-width="1.2"/>
<circle cx="515.47" cy="710.31" r="2.2" fill="#c2b2de" stroke="#6a42a2" stroke-width="1.2"/>
<circle cx="511.60" cy="718.62" r="2.2" fill="#c2b2de" stroke="#6a42a2" stroke-width="1.2"/>
<circle cx="515.47" cy="718.66" r="2.2" fill="#c2b2de" stroke="#6a42a2" stroke-width="1.2"/>
<circle cx="507.73" cy="720.13" r="2.2" fill="#c2b2de" stroke="#6a42a2" stroke-width="1.2"/>
<circle cx="511.60" cy="724.29" r="2.2" fill="#c2b2de" stroke="#6a42a2" stroke-width="1.2"/>
<circle cx="511.60" cy="728.65" r="2.2" fill="#c2b2de" stroke="#6a42a2" stroke-width="1.2"/>
<circle cx="515.47" cy="729.05" r="2.2" fill="#c2b2de" stroke="#6a42a2" stroke-width="1.2"/>
<circle cx="511.60" cy="733.43" r="2.2" fill="#c2b2de" stroke="#6a42a2" stroke-width="1.2"/>
<circle cx="515.47" cy="735.43" r="2.2" fill="#c2b2de" stroke="#6a42a2" stroke-width="1.2"/>
<circle cx="511.60" cy="737.35" r="2.2" fill="#c2b2de" stroke="#6a42a2" stroke-width="1.2"/>
<circle cx="511.60" cy="741.33" r="2.2" fill="#c2b2de" stroke="#6a42a2" stroke-width="1.2"/>
<circle cx="511.60" cy="748.30" r="2.2" fill="#c2b2de" stroke="#6a42a2" stroke-width="1.2"/>
<line x1="553.80" y1="691.60" x2="553.80" y2="707.40" stroke="#b03a9f" stroke-width="1.8" stroke-linecap="butt"/>
<line x1="553.80" y1="733.00" x2="553.80" y2="743.60" stroke="#b03a9f" stroke-width="1.8" stroke-linecap="butt"/>
<line x1="546.92" y1="691.60" x2="560.67" y2="691.60" stroke="#b03a9f" stroke-width="1.8" stroke-linecap="butt"/>
<line x1="546.92" y1="743.60" x2="560.67" y2="743.60" stroke="#b03a9f" stroke-width="1.8" stroke-linecap="butt"/>
<rect x="542.20" y="707.40" width="23.20" height="25.60" fill="#e0a9d6" stroke="#b03a9f" stroke-width="1.8" />
<line x1="542.20" y1="722.40" x2="565.40" y2="722.40" stroke="#b03a9f" stroke-width="1.8" stroke-linecap="butt"/>
<circle cx="553.80" cy="691.60" r="2.2" fill="#ebc2e4" stroke="#b03a9f" stroke-width="1.2"/>
<circle cx="557.67" cy="691.90" r="2.2" fill="#ebc2e4" stroke="#b03a9f" stroke-width="1.2"/>
<circle cx="549.93" cy="692.21" r="2.2" fill="#ebc2e4" stroke="#b03a9f" stroke-width="1.2"/>
<circle cx="553.80" cy="700.24" r="2.2" fill="#ebc2e4" stroke="#b03a9f" stroke-width="1.2"/>
<circle cx="557.67" cy="702.21" r="2.2" fill="#ebc2e4" stroke="#b03a9f" stroke-width="1.2"/>
<circle cx="553.80" cy="713.89" r="2.2" fill="#ebc2e4" stroke="#b03a9f" stroke-width="1.2"/>
<circle cx="553.80" cy="717.84" r="2.2" fill="#ebc2e4" stroke="#b03a9f" stroke-width="1.2"/>
<circle cx="557.67" cy="718.73" r="2.2" fill="#ebc2e4" stroke="#b03a9f" stroke-width="1.2"/>
<circle cx="549.93" cy="719.29" r="2.2" fill="#ebc2e4" stroke="#b03a9f" stroke-width="1.2"/>
<circle cx="553.80" cy="723.93" r="2.2" fill="#ebc2e4" stroke="#b03a9f" stroke-width="1.2"/>
<circle cx="557.67" cy="726.35" r="2.2" fill="#ebc2e4" stroke="#b03a9f" stroke-width="1.2"/>
<circle cx="549.93" cy="727.00" r="2.2" fill="#ebc2e4" stroke="#b03a9f" stroke-width="1.2"/>
<circle cx="561.54" cy="727.20" r="2.2" fill="#ebc2e4" stroke="#b03a9f" stroke-width="1.2"/>
<circle cx="553.80" cy="737.90" r="2.2" fill="#ebc2e4" stroke="#b03a9f" stroke-width="1.2"/>
<circle cx="557.67" cy="738.28" r="2.2" fill="#ebc2e4" stroke="#b03a9f" stroke-width="1.2"/>
<circle cx="553.80" cy="742.03" r="2.2" fill="#ebc2e4" stroke="#b03a9f" stroke-width="1.2"/>
<circle cx="557.67" cy="743.60" r="2.2" fill="#ebc2e4" stroke="#b03a9f" stroke-width="1.2"/>
<line x1="596.40" y1="665.20" x2="596.40" y2="691.60" stroke="#6aab3d" stroke-width="1.8" stroke-linecap="butt"/>
<line x1="596.40" y1="725.10" x2="596.40" y2="738.90" stroke="#6aab3d" stroke-width="1.8" stroke-linecap="butt"/>
<line x1="589.52" y1="665.20" x2="603.27" y2="665.20" stroke="#6aab3d" stroke-width="1.8" stroke-linecap="butt"/>
<line x1="589.52" y1="738.90" x2="603.27" y2="738.90" stroke="#6aab3d" stroke-width="1.8" stroke-linecap="butt"/>
<rect x="584.80" y="691.60" width="23.20" height="33.50" fill="#c9e29d" stroke="#6aab3d" stroke-width="1.8" />
<line x1="584.80" y1="707.40" x2="608.00" y2="707.40" stroke="#6aab3d" stroke-width="1.8" stroke-linecap="butt"/>
<circle cx="596.40" cy="665.20" r="2.2" fill="#d9ecb9" stroke="#6aab3d" stroke-width="1.2"/>
<circle cx="600.27" cy="667.14" r="2.2" fill="#d9ecb9" stroke="#6aab3d" stroke-width="1.2"/>
<circle cx="596.40" cy="669.34" r="2.2" fill="#d9ecb9" stroke="#6aab3d" stroke-width="1.2"/>
<circle cx="600.27" cy="671.14" r="2.2" fill="#d9ecb9" stroke="#6aab3d" stroke-width="1.2"/>
<circle cx="596.40" cy="675.19" r="2.2" fill="#d9ecb9" stroke="#6aab3d" stroke-width="1.2"/>
<circle cx="600.27" cy="675.99" r="2.2" fill="#d9ecb9" stroke="#6aab3d" stroke-width="1.2"/>
<circle cx="596.40" cy="692.06" r="2.2" fill="#d9ecb9" stroke="#6aab3d" stroke-width="1.2"/>
<circle cx="596.40" cy="698.00" r="2.2" fill="#d9ecb9" stroke="#6aab3d" stroke-width="1.2"/>
<circle cx="600.27" cy="699.72" r="2.2" fill="#d9ecb9" stroke="#6aab3d" stroke-width="1.2"/>
<circle cx="592.53" cy="700.16" r="2.2" fill="#d9ecb9" stroke="#6aab3d" stroke-width="1.2"/>
<circle cx="596.40" cy="709.46" r="2.2" fill="#d9ecb9" stroke="#6aab3d" stroke-width="1.2"/>
<circle cx="596.40" cy="719.64" r="2.2" fill="#d9ecb9" stroke="#6aab3d" stroke-width="1.2"/>
<circle cx="600.27" cy="722.66" r="2.2" fill="#d9ecb9" stroke="#6aab3d" stroke-width="1.2"/>
<circle cx="596.40" cy="724.91" r="2.2" fill="#d9ecb9" stroke="#6aab3d" stroke-width="1.2"/>
<circle cx="592.53" cy="725.22" r="2.2" fill="#d9ecb9" stroke="#6aab3d" stroke-width="1.2"/>
<circle cx="600.27" cy="727.54" r="2.2" fill="#d9ecb9" stroke="#6aab3d" stroke-width="1.2"/>
<circle cx="596.40" cy="729.60" r="2.2" fill="#d9ecb9" stroke="#6aab3d" stroke-width="1.2"/>
<circle cx="596.40" cy="734.67" r="2.2" fill="#d9ecb9" stroke="#6aab3d" stroke-width="1.2"/>
<circle cx="596.40" cy="738.90" r="2.2" fill="#d9ecb9" stroke="#6aab3d" stroke-width="1.2"/>
<path d="M511.60,601.70 V589.10 H596.40 V601.70" fill="none" stroke="#000" stroke-width="2.1"/>
<path d="M554.00,581.70L554.00,574.10M550.71,579.80L557.29,576.00M557.29,579.80L550.71,576.00" stroke="#000" stroke-width="1.9" fill="none"/>
<path d="M553.80,637.20 V623.80 H596.40 V637.20" fill="none" stroke="#000" stroke-width="2.1"/>
<path d="M575.10,616.40L575.10,608.80M571.81,614.50L578.39,610.70M578.39,614.50L571.81,610.70" stroke="#000" stroke-width="1.9" fill="none"/>
<text x="470.90" y="768.30" font-size="11.0" font-weight="bold" text-anchor="end" transform="rotate(-45 470.90 768.30)">WT+PBS</text>
<text x="513.10" y="768.30" font-size="11.0" font-weight="bold" text-anchor="end" transform="rotate(-45 513.10 768.30)">WT+LPS</text>
<text x="555.30" y="768.30" font-size="11.0" font-weight="bold" text-anchor="end" transform="rotate(-45 555.30 768.30)"><tspan font-style="italic">Sh3</tspan><tspan font-size="0.72em" dy="-0.55em">+/-</tspan><tspan dy="0.4em">+PBS</tspan></text>
<text x="597.90" y="768.30" font-size="11.0" font-weight="bold" text-anchor="end" transform="rotate(-45 597.90 768.30)"><tspan font-style="italic">Sh3</tspan><tspan font-size="0.72em" dy="-0.55em">+/-</tspan><tspan dy="0.4em">+LPS</tspan></text>
<line x1="55.00" y1="865.10" x2="55.00" y2="1056.00" stroke="#000" stroke-width="2" stroke-linecap="butt"/>
<line x1="46.00" y1="866.10" x2="55.00" y2="866.10" stroke="#000" stroke-width="2" stroke-linecap="butt"/>
<text x="42.10" y="870.17" font-size="11.3" font-weight="bold" text-anchor="end" fill="#000" >300</text>
<line x1="46.00" y1="929.06" x2="55.00" y2="929.06" stroke="#000" stroke-width="2" stroke-linecap="butt"/>
<text x="42.10" y="933.13" font-size="11.3" font-weight="bold" text-anchor="end" fill="#000" >200</text>
<line x1="46.00" y1="992.03" x2="55.00" y2="992.03" stroke="#000" stroke-width="2" stroke-linecap="butt"/>
<text x="42.10" y="996.10" font-size="11.3" font-weight="bold" text-anchor="end" fill="#000" >100</text>
<line x1="46.00" y1="1055.00" x2="55.00" y2="1055.00" stroke="#000" stroke-width="2" stroke-linecap="butt"/>
<text x="42.10" y="1059.07" font-size="11.3" font-weight="bold" text-anchor="end" fill="#000" >0</text>
<line x1="46.00" y1="1055.00" x2="338.00" y2="1055.00" stroke="#000" stroke-width="2" stroke-linecap="butt"/>
<line x1="69.10" y1="1055.00" x2="69.10" y2="1063.60" stroke="#000" stroke-width="2" stroke-linecap="butt"/>
<line x1="91.10" y1="1055.00" x2="91.10" y2="1063.60" stroke="#000" stroke-width="2" stroke-linecap="butt"/>
<line x1="127.50" y1="1055.00" x2="127.50" y2="1063.60" stroke="#000" stroke-width="2" stroke-linecap="butt"/>
<line x1="148.60" y1="1055.00" x2="148.60" y2="1063.60" stroke="#000" stroke-width="2" stroke-linecap="butt"/>
<line x1="185.50" y1="1055.00" x2="185.50" y2="1063.60" stroke="#000" stroke-width="2" stroke-linecap="butt"/>
<line x1="207.50" y1="1055.00" x2="207.50" y2="1063.60" stroke="#000" stroke-width="2" stroke-linecap="butt"/>
<line x1="243.50" y1="1055.00" x2="243.50" y2="1063.60" stroke="#000" stroke-width="2" stroke-linecap="butt"/>
<line x1="265.10" y1="1055.00" x2="265.10" y2="1063.60" stroke="#000" stroke-width="2" stroke-linecap="butt"/>
<line x1="301.90" y1="1055.00" x2="301.90" y2="1063.60" stroke="#000" stroke-width="2" stroke-linecap="butt"/>
<line x1="323.10" y1="1055.00" x2="323.10" y2="1063.60" stroke="#000" stroke-width="2" stroke-linecap="butt"/>
<text x="11.8" y="967.7" font-size="10.8" font-weight="bold" text-anchor="middle" transform="rotate(-90 11.8 967.7)">Duration (s)</text>
<line x1="69.10" y1="935.90" x2="69.10" y2="952.90" stroke="#3b6db3" stroke-width="2.5" stroke-linecap="butt"/>
<line x1="69.10" y1="991.80" x2="69.10" y2="1004.50" stroke="#3b6db3" stroke-width="2.5" stroke-linecap="butt"/>
<line x1="64.35" y1="935.90" x2="73.85" y2="935.90" stroke="#3b6db3" stroke-width="2.5" stroke-linecap="butt"/>
<line x1="64.35" y1="1004.50" x2="73.85" y2="1004.50" stroke="#3b6db3" stroke-width="2.5" stroke-linecap="butt"/>
<rect x="63.55" y="952.90" width="11.10" height="38.90" fill="#8fb4e3" stroke="#3b6db3" stroke-width="2.5" />
<line x1="63.55" y1="966.40" x2="74.65" y2="966.40" stroke="#3b6db3" stroke-width="2.5" stroke-linecap="butt"/>
<circle cx="69.10" cy="935.90" r="2.2" fill="#a8c5ec" stroke="#3b6db3" stroke-width="1.2"/>
<circle cx="69.10" cy="943.94" r="2.2" fill="#a8c5ec" stroke="#3b6db3" stroke-width="1.2"/>
<circle cx="72.97" cy="944.36" r="2.2" fill="#a8c5ec" stroke="#3b6db3" stroke-width="1.2"/>
<circle cx="67.16" cy="947.40" r="2.2" fill="#a8c5ec" stroke="#3b6db3" stroke-width="1.2"/>
<circle cx="69.10" cy="956.49" r="2.2" fill="#a8c5ec" stroke="#3b6db3" stroke-width="1.2"/>
<circle cx="69.10" cy="966.00" r="2.2" fill="#a8c5ec" stroke="#3b6db3" stroke-width="1.2"/>
<circle cx="72.97" cy="968.56" r="2.2" fill="#a8c5ec" stroke="#3b6db3" stroke-width="1.2"/>
<circle cx="69.10" cy="982.59" r="2.2" fill="#a8c5ec" stroke="#3b6db3" stroke-width="1.2"/>
<circle cx="69.10" cy="994.88" r="2.2" fill="#a8c5ec" stroke="#3b6db3" stroke-width="1.2"/>
<circle cx="72.97" cy="995.83" r="2.2" fill="#a8c5ec" stroke="#3b6db3" stroke-width="1.2"/>
<circle cx="69.10" cy="1004.50" r="2.2" fill="#a8c5ec" stroke="#3b6db3" stroke-width="1.2"/>
<line x1="91.10" y1="971.90" x2="91.10" y2="987.60" stroke="#3b6db3" stroke-width="2.5" stroke-linecap="butt"/>
<line x1="91.10" y1="1010.00" x2="91.10" y2="1027.80" stroke="#3b6db3" stroke-width="2.5" stroke-linecap="butt"/>
<line x1="86.35" y1="971.90" x2="95.85" y2="971.90" stroke="#3b6db3" stroke-width="2.5" stroke-linecap="butt"/>
<line x1="86.35" y1="1027.80" x2="95.85" y2="1027.80" stroke="#3b6db3" stroke-width="2.5" stroke-linecap="butt"/>
<rect x="85.55" y="987.60" width="11.10" height="22.40" fill="#8fb4e3" stroke="#3b6db3" stroke-width="2.5" />
<line x1="85.55" y1="993.10" x2="96.65" y2="993.10" stroke="#3b6db3" stroke-width="2.5" stroke-linecap="butt"/>
<circle cx="91.10" cy="971.90" r="2.2" fill="#a8c5ec" stroke="#3b6db3" stroke-width="1.2"/>
<circle cx="93.04" cy="975.53" r="2.2" fill="#a8c5ec" stroke="#3b6db3" stroke-width="1.2"/>
<circle cx="89.16" cy="975.72" r="2.2" fill="#a8c5ec" stroke="#3b6db3" stroke-width="1.2"/>
<circle cx="91.10" cy="987.10" r="2.2" fill="#a8c5ec" stroke="#3b6db3" stroke-width="1.2"/>
<circle cx="94.97" cy="990.36" r="2.2" fill="#a8c5ec" stroke="#3b6db3" stroke-width="1.2"/>
<circle cx="89.16" cy="990.64" r="2.2" fill="#a8c5ec" stroke="#3b6db3" stroke-width="1.2"/>
<circle cx="91.10" cy="995.84" r="2.2" fill="#a8c5ec" stroke="#3b6db3" stroke-width="1.2"/>
<circle cx="91.10" cy="1008.76" r="2.2" fill="#a8c5ec" stroke="#3b6db3" stroke-width="1.2"/>
<circle cx="91.10" cy="1017.07" r="2.2" fill="#a8c5ec" stroke="#3b6db3" stroke-width="1.2"/>
<circle cx="91.10" cy="1024.62" r="2.2" fill="#a8c5ec" stroke="#3b6db3" stroke-width="1.2"/>
<circle cx="94.97" cy="1027.80" r="2.2" fill="#a8c5ec" stroke="#3b6db3" stroke-width="1.2"/>
<line x1="127.50" y1="939.80" x2="127.50" y2="955.00" stroke="#6a42a2" stroke-width="2.5" stroke-linecap="butt"/>
<line x1="127.50" y1="977.90" x2="127.50" y2="984.60" stroke="#6a42a2" stroke-width="2.5" stroke-linecap="butt"/>
<line x1="122.75" y1="939.80" x2="132.25" y2="939.80" stroke="#6a42a2" stroke-width="2.5" stroke-linecap="butt"/>
<line x1="122.75" y1="984.60" x2="132.25" y2="984.60" stroke="#6a42a2" stroke-width="2.5" stroke-linecap="butt"/>
<rect x="121.95" y="955.00" width="11.10" height="22.90" fill="#b09dd2" stroke="#6a42a2" stroke-width="2.5" />
<line x1="121.95" y1="963.50" x2="133.05" y2="963.50" stroke="#6a42a2" stroke-width="2.5" stroke-linecap="butt"/>
<circle cx="127.50" cy="939.80" r="2.2" fill="#c2b2de" stroke="#6a42a2" stroke-width="1.2"/>
<circle cx="127.50" cy="954.11" r="2.2" fill="#c2b2de" stroke="#6a42a2" stroke-width="1.2"/>
<circle cx="131.37" cy="954.67" r="2.2" fill="#c2b2de" stroke="#6a42a2" stroke-width="1.2"/>
<circle cx="123.63" cy="954.92" r="2.2" fill="#c2b2de" stroke="#6a42a2" stroke-width="1.2"/>
<circle cx="127.50" cy="955.46" r="2.2" fill="#c2b2de" stroke="#6a42a2" stroke-width="1.2"/>
<circle cx="133.31" cy="958.46" r="2.2" fill="#c2b2de" stroke="#6a42a2" stroke-width="1.2"/>
<circle cx="127.50" cy="973.95" r="2.2" fill="#c2b2de" stroke="#6a42a2" stroke-width="1.2"/>
<circle cx="131.37" cy="976.74" r="2.2" fill="#c2b2de" stroke="#6a42a2" stroke-width="1.2"/>
<circle cx="127.50" cy="978.97" r="2.2" fill="#c2b2de" stroke="#6a42a2" stroke-width="1.2"/>
<circle cx="131.37" cy="981.14" r="2.2" fill="#c2b2de" stroke="#6a42a2" stroke-width="1.2"/>
<circle cx="127.50" cy="984.60" r="2.2" fill="#c2b2de" stroke="#6a42a2" stroke-width="1.2"/>
<line x1="148.60" y1="974.00" x2="148.60" y2="988.90" stroke="#6a42a2" stroke-width="2.5" stroke-linecap="butt"/>
<line x1="148.60" y1="1013.00" x2="148.60" y2="1024.90" stroke="#6a42a2" stroke-width="2.5" stroke-linecap="butt"/>
<line x1="143.85" y1="974.00" x2="153.35" y2="974.00" stroke="#6a42a2" stroke-width="2.5" stroke-linecap="butt"/>
<line x1="143.85" y1="1024.90" x2="153.35" y2="1024.90" stroke="#6a42a2" stroke-width="2.5" stroke-linecap="butt"/>
<rect x="143.05" y="988.90" width="11.10" height="24.10" fill="#b09dd2" stroke="#6a42a2" stroke-width="2.5" />
<line x1="143.05" y1="996.10" x2="154.15" y2="996.10" stroke="#6a42a2" stroke-width="2.5" stroke-linecap="butt"/>
<circle cx="148.60" cy="974.00" r="2.2" fill="#c2b2de" stroke="#6a42a2" stroke-width="1.2"/>
<circle cx="148.60" cy="983.20" r="2.2" fill="#c2b2de" stroke="#6a42a2" stroke-width="1.2"/>
<circle cx="150.54" cy="986.79" r="2.2" fill="#c2b2de" stroke="#6a42a2" stroke-width="1.2"/>
<circle cx="146.66" cy="987.96" r="2.2" fill="#c2b2de" stroke="#6a42a2" stroke-width="1.2"/>
<circle cx="148.60" cy="992.65" r="2.2" fill="#c2b2de" stroke="#6a42a2" stroke-width="1.2"/>
<circle cx="152.47" cy="995.31" r="2.2" fill="#c2b2de" stroke="#6a42a2" stroke-width="1.2"/>
<circle cx="148.60" cy="1003.81" r="2.2" fill="#c2b2de" stroke="#6a42a2" stroke-width="1.2"/>
<circle cx="148.60" cy="1008.50" r="2.2" fill="#c2b2de" stroke="#6a42a2" stroke-width="1.2"/>
<circle cx="148.60" cy="1021.47" r="2.2" fill="#c2b2de" stroke="#6a42a2" stroke-width="1.2"/>
<circle cx="152.47" cy="1021.66" r="2.2" fill="#c2b2de" stroke="#6a42a2" stroke-width="1.2"/>
<circle cx="146.66" cy="1024.90" r="2.2" fill="#c2b2de" stroke="#6a42a2" stroke-width="1.2"/>
<line x1="185.50" y1="904.20" x2="185.50" y2="955.80" stroke="#b03a9f" stroke-width="2.5" stroke-linecap="butt"/>
<line x1="185.50" y1="1019.30" x2="185.50" y2="1029.10" stroke="#b03a9f" stroke-width="2.5" stroke-linecap="butt"/>
<line x1="180.75" y1="904.20" x2="190.25" y2="904.20" stroke="#b03a9f" stroke-width="2.5" stroke-linecap="butt"/>
<line x1="180.75" y1="1029.10" x2="190.25" y2="1029.10" stroke="#b03a9f" stroke-width="2.5" stroke-linecap="butt"/>
<rect x="179.95" y="955.80" width="11.10" height="63.50" fill="#e0a9d6" stroke="#b03a9f" stroke-width="2.5" />
<line x1="179.95" y1="993.10" x2="191.05" y2="993.10" stroke="#b03a9f" stroke-width="2.5" stroke-linecap="butt"/>
<circle cx="185.50" cy="904.20" r="2.2" fill="#ebc2e4" stroke="#b03a9f" stroke-width="1.2"/>
<circle cx="189.37" cy="907.09" r="2.2" fill="#ebc2e4" stroke="#b03a9f" stroke-width="1.2"/>
<circle cx="185.50" cy="923.92" r="2.2" fill="#ebc2e4" stroke="#b03a9f" stroke-width="1.2"/>
<circle cx="185.50" cy="932.17" r="2.2" fill="#ebc2e4" stroke="#b03a9f" stroke-width="1.2"/>
<circle cx="185.50" cy="951.34" r="2.2" fill="#ebc2e4" stroke="#b03a9f" stroke-width="1.2"/>
<circle cx="189.37" cy="953.68" r="2.2" fill="#ebc2e4" stroke="#b03a9f" stroke-width="1.2"/>
<circle cx="185.50" cy="960.93" r="2.2" fill="#ebc2e4" stroke="#b03a9f" stroke-width="1.2"/>
<circle cx="185.50" cy="969.99" r="2.2" fill="#ebc2e4" stroke="#b03a9f" stroke-width="1.2"/>
<circle cx="185.50" cy="975.04" r="2.2" fill="#ebc2e4" stroke="#b03a9f" stroke-width="1.2"/>
<circle cx="185.50" cy="989.81" r="2.2" fill="#ebc2e4" stroke="#b03a9f" stroke-width="1.2"/>
<circle cx="189.37" cy="992.72" r="2.2" fill="#ebc2e4" stroke="#b03a9f" stroke-width="1.2"/>
<circle cx="185.50" cy="1004.80" r="2.2" fill="#ebc2e4" stroke="#b03a9f" stroke-width="1.2"/>
<circle cx="189.37" cy="1007.48" r="2.2" fill="#ebc2e4" stroke="#b03a9f" stroke-width="1.2"/>
<circle cx="181.63" cy="1007.67" r="2.2" fill="#ebc2e4" stroke="#b03a9f" stroke-width="1.2"/>
<circle cx="185.50" cy="1016.12" r="2.2" fill="#ebc2e4" stroke="#b03a9f" stroke-width="1.2"/>
<circle cx="185.50" cy="1024.03" r="2.2" fill="#ebc2e4" stroke="#b03a9f" stroke-width="1.2"/>
<circle cx="189.37" cy="1024.96" r="2.2" fill="#ebc2e4" stroke="#b03a9f" stroke-width="1.2"/>
<circle cx="181.63" cy="1025.16" r="2.2" fill="#ebc2e4" stroke="#b03a9f" stroke-width="1.2"/>
<circle cx="185.50" cy="1026.39" r="2.2" fill="#ebc2e4" stroke="#b03a9f" stroke-width="1.2"/>
<circle cx="189.37" cy="1029.10" r="2.2" fill="#ebc2e4" stroke="#b03a9f" stroke-width="1.2"/>
<line x1="207.50" y1="944.00" x2="207.50" y2="989.70" stroke="#b03a9f" stroke-width="2.5" stroke-linecap="butt"/>
<line x1="207.50" y1="1034.20" x2="207.50" y2="1049.00" stroke="#b03a9f" stroke-width="2.5" stroke-linecap="butt"/>
<line x1="202.75" y1="944.00" x2="212.25" y2="944.00" stroke="#b03a9f" stroke-width="2.5" stroke-linecap="butt"/>
<line x1="202.75" y1="1049.00" x2="212.25" y2="1049.00" stroke="#b03a9f" stroke-width="2.5" stroke-linecap="butt"/>
<rect x="201.95" y="989.70" width="11.10" height="44.50" fill="#e0a9d6" stroke="#b03a9f" stroke-width="2.5" />
<line x1="201.95" y1="1009.60" x2="213.05" y2="1009.60" stroke="#b03a9f" stroke-width="2.5" stroke-linecap="butt"/>
<circle cx="207.50" cy="944.00" r="2.2" fill="#ebc2e4" stroke="#b03a9f" stroke-width="1.2"/>
<circle cx="207.50" cy="948.13" r="2.2" fill="#ebc2e4" stroke="#b03a9f" stroke-width="1.2"/>
<circle cx="207.50" cy="961.73" r="2.2" fill="#ebc2e4" stroke="#b03a9f" stroke-width="1.2"/>
<circle cx="207.50" cy="968.41" r="2.2" fill="#ebc2e4" stroke="#b03a9f" stroke-width="1.2"/>
<circle cx="207.50" cy="976.99" r="2.2" fill="#ebc2e4" stroke="#b03a9f" stroke-width="1.2"/>
<circle cx="207.50" cy="982.44" r="2.2" fill="#ebc2e4" stroke="#b03a9f" stroke-width="1.2"/>
<circle cx="207.50" cy="997.77" r="2.2" fill="#ebc2e4" stroke="#b03a9f" stroke-width="1.2"/>
<circle cx="207.50" cy="1002.26" r="2.2" fill="#ebc2e4" stroke="#b03a9f" stroke-width="1.2"/>
<circle cx="211.37" cy="1004.57" r="2.2" fill="#ebc2e4" stroke="#b03a9f" stroke-width="1.2"/>
<circle cx="207.50" cy="1008.62" r="2.2" fill="#ebc2e4" stroke="#b03a9f" stroke-width="1.2"/>
<circle cx="211.37" cy="1008.92" r="2.2" fill="#ebc2e4" stroke="#b03a9f" stroke-width="1.2"/>
<circle cx="207.50" cy="1013.29" r="2.2" fill="#ebc2e4" stroke="#b03a9f" stroke-width="1.2"/>
<circle cx="209.44" cy="1017.03" r="2.2" fill="#ebc2e4" stroke="#b03a9f" stroke-width="1.2"/>
<circle cx="207.50" cy="1025.90" r="2.2" fill="#ebc2e4" stroke="#b03a9f" stroke-width="1.2"/>
<circle cx="211.37" cy="1027.29" r="2.2" fill="#ebc2e4" stroke="#b03a9f" stroke-width="1.2"/>
<circle cx="207.50" cy="1039.40" r="2.2" fill="#ebc2e4" stroke="#b03a9f" stroke-width="1.2"/>
<circle cx="211.37" cy="1040.55" r="2.2" fill="#ebc2e4" stroke="#b03a9f" stroke-width="1.2"/>
<circle cx="203.63" cy="1042.20" r="2.2" fill="#ebc2e4" stroke="#b03a9f" stroke-width="1.2"/>
<circle cx="207.50" cy="1045.14" r="2.2" fill="#ebc2e4" stroke="#b03a9f" stroke-width="1.2"/>
<circle cx="209.44" cy="1049.00" r="2.2" fill="#ebc2e4" stroke="#b03a9f" stroke-width="1.2"/>
<line x1="243.50" y1="931.70" x2="243.50" y2="959.20" stroke="#6aab3d" stroke-width="2.5" stroke-linecap="butt"/>
<line x1="243.50" y1="1022.70" x2="243.50" y2="1051.10" stroke="#6aab3d" stroke-width="2.5" stroke-linecap="butt"/>
<line x1="238.75" y1="931.70" x2="248.25" y2="931.70" stroke="#6aab3d" stroke-width="2.5" stroke-linecap="butt"/>
<line x1="238.75" y1="1051.10" x2="248.25" y2="1051.10" stroke="#6aab3d" stroke-width="2.5" stroke-linecap="butt"/>
<rect x="237.95" y="959.20" width="11.10" height="63.50" fill="#c9e29d" stroke="#6aab3d" stroke-width="2.5" />
<line x1="237.95" y1="966.40" x2="249.05" y2="966.40" stroke="#6aab3d" stroke-width="2.5" stroke-linecap="butt"/>
<circle cx="243.50" cy="931.70" r="2.2" fill="#d9ecb9" stroke="#6aab3d" stroke-width="1.2"/>
<circle cx="243.50" cy="937.40" r="2.2" fill="#d9ecb9" stroke="#6aab3d" stroke-width="1.2"/>
<circle cx="243.50" cy="942.00" r="2.2" fill="#d9ecb9" stroke="#6aab3d" stroke-width="1.2"/>
<circle cx="243.50" cy="947.02" r="2.2" fill="#d9ecb9" stroke="#6aab3d" stroke-width="1.2"/>
<circle cx="243.50" cy="952.81" r="2.2" fill="#d9ecb9" stroke="#6aab3d" stroke-width="1.2"/>
<circle cx="245.44" cy="956.50" r="2.2" fill="#d9ecb9" stroke="#6aab3d" stroke-width="1.2"/>
<circle cx="241.56" cy="958.26" r="2.2" fill="#d9ecb9" stroke="#6aab3d" stroke-width="1.2"/>
<circle cx="249.31" cy="959.69" r="2.2" fill="#d9ecb9" stroke="#6aab3d" stroke-width="1.2"/>
<circle cx="243.50" cy="961.97" r="2.2" fill="#d9ecb9" stroke="#6aab3d" stroke-width="1.2"/>
<circle cx="247.37" cy="963.23" r="2.2" fill="#d9ecb9" stroke="#6aab3d" stroke-width="1.2"/>
<circle cx="239.63" cy="964.67" r="2.2" fill="#d9ecb9" stroke="#6aab3d" stroke-width="1.2"/>
<circle cx="243.50" cy="966.32" r="2.2" fill="#d9ecb9" stroke="#6aab3d" stroke-width="1.2"/>
<circle cx="247.37" cy="968.11" r="2.2" fill="#d9ecb9" stroke="#6aab3d" stroke-width="1.2"/>
<circle cx="243.50" cy="978.27" r="2.2" fill="#d9ecb9" stroke="#6aab3d" stroke-width="1.2"/>
<circle cx="243.50" cy="990.08" r="2.2" fill="#d9ecb9" stroke="#6aab3d" stroke-width="1.2"/>
<circle cx="247.37" cy="993.07" r="2.2" fill="#d9ecb9" stroke="#6aab3d" stroke-width="1.2"/>
<circle cx="243.50" cy="1002.61" r="2.2" fill="#d9ecb9" stroke="#6aab3d" stroke-width="1.2"/>
<circle cx="243.50" cy="1027.12" r="2.2" fill="#d9ecb9" stroke="#6aab3d" stroke-width="1.2"/>
<circle cx="247.37" cy="1029.26" r="2.2" fill="#d9ecb9" stroke="#6aab3d" stroke-width="1.2"/>
<circle cx="243.50" cy="1037.56" r="2.2" fill="#d9ecb9" stroke="#6aab3d" stroke-width="1.2"/>
<circle cx="243.50" cy="1049.10" r="2.2" fill="#d9ecb9" stroke="#6aab3d" stroke-width="1.2"/>
<circle cx="247.37" cy="1050.89" r="2.2" fill="#d9ecb9" stroke="#6aab3d" stroke-width="1.2"/>
<circle cx="239.63" cy="1051.10" r="2.2" fill="#d9ecb9" stroke="#6aab3d" stroke-width="1.2"/>
<line x1="265.10" y1="938.10" x2="265.10" y2="991.80" stroke="#6aab3d" stroke-width="2.5" stroke-linecap="butt"/>
<line x1="265.10" y1="1034.20" x2="265.10" y2="1048.10" stroke="#6aab3d" stroke-width="2.5" stroke-linecap="butt"/>
<line x1="260.35" y1="938.10" x2="269.85" y2="938.10" stroke="#6aab3d" stroke-width="2.5" stroke-linecap="butt"/>
<line x1="260.35" y1="1048.10" x2="269.85" y2="1048.10" stroke="#6aab3d" stroke-width="2.5" stroke-linecap="butt"/>
<rect x="259.55" y="991.80" width="11.10" height="42.40" fill="#c9e29d" stroke="#6aab3d" stroke-width="2.5" />
<line x1="259.55" y1="1007.50" x2="270.65" y2="1007.50" stroke="#6aab3d" stroke-width="2.5" stroke-linecap="butt"/>
<circle cx="265.10" cy="938.10" r="2.2" fill="#d9ecb9" stroke="#6aab3d" stroke-width="1.2"/>
<circle cx="268.97" cy="940.39" r="2.2" fill="#d9ecb9" stroke="#6aab3d" stroke-width="1.2"/>
<circle cx="265.10" cy="970.55" r="2.2" fill="#d9ecb9" stroke="#6aab3d" stroke-width="1.2"/>
<circle cx="268.97" cy="971.19" r="2.2" fill="#d9ecb9" stroke="#6aab3d" stroke-width="1.2"/>
<circle cx="265.10" cy="977.06" r="2.2" fill="#d9ecb9" stroke="#6aab3d" stroke-width="1.2"/>
<circle cx="265.10" cy="985.57" r="2.2" fill="#d9ecb9" stroke="#6aab3d" stroke-width="1.2"/>
<circle cx="265.10" cy="990.55" r="2.2" fill="#d9ecb9" stroke="#6aab3d" stroke-width="1.2"/>
<circle cx="268.97" cy="992.11" r="2.2" fill="#d9ecb9" stroke="#6aab3d" stroke-width="1.2"/>
<circle cx="265.10" cy="996.36" r="2.2" fill="#d9ecb9" stroke="#6aab3d" stroke-width="1.2"/>
<circle cx="268.97" cy="997.73" r="2.2" fill="#d9ecb9" stroke="#6aab3d" stroke-width="1.2"/>
<circle cx="265.10" cy="1001.06" r="2.2" fill="#d9ecb9" stroke="#6aab3d" stroke-width="1.2"/>
<circle cx="268.97" cy="1002.53" r="2.2" fill="#d9ecb9" stroke="#6aab3d" stroke-width="1.2"/>
<circle cx="265.10" cy="1008.02" r="2.2" fill="#d9ecb9" stroke="#6aab3d" stroke-width="1.2"/>
<circle cx="265.10" cy="1022.09" r="2.2" fill="#d9ecb9" stroke="#6aab3d" stroke-width="1.2"/>
<circle cx="265.10" cy="1027.14" r="2.2" fill="#d9ecb9" stroke="#6aab3d" stroke-width="1.2"/>
<circle cx="265.10" cy="1033.51" r="2.2" fill="#d9ecb9" stroke="#6aab3d" stroke-width="1.2"/>
<circle cx="268.97" cy="1033.59" r="2.2" fill="#d9ecb9" stroke="#6aab3d" stroke-width="1.2"/>
<circle cx="265.10" cy="1041.35" r="2.2" fill="#d9ecb9" stroke="#6aab3d" stroke-width="1.2"/>
<circle cx="268.97" cy="1041.38" r="2.2" fill="#d9ecb9" stroke="#6aab3d" stroke-width="1.2"/>
<circle cx="261.23" cy="1043.04" r="2.2" fill="#d9ecb9" stroke="#6aab3d" stroke-width="1.2"/>
<circle cx="265.10" cy="1043.31" r="2.2" fill="#d9ecb9" stroke="#6aab3d" stroke-width="1.2"/>
<circle cx="268.97" cy="1045.51" r="2.2" fill="#d9ecb9" stroke="#6aab3d" stroke-width="1.2"/>
<circle cx="265.10" cy="1048.10" r="2.2" fill="#d9ecb9" stroke="#6aab3d" stroke-width="1.2"/>
<line x1="301.90" y1="938.90" x2="301.90" y2="977.00" stroke="#0f5273" stroke-width="2.5" stroke-linecap="butt"/>
<line x1="301.90" y1="1037.60" x2="301.90" y2="1047.70" stroke="#0f5273" stroke-width="2.5" stroke-linecap="butt"/>
<line x1="297.15" y1="938.90" x2="306.65" y2="938.90" stroke="#0f5273" stroke-width="2.5" stroke-linecap="butt"/>
<line x1="297.15" y1="1047.70" x2="306.65" y2="1047.70" stroke="#0f5273" stroke-width="2.5" stroke-linecap="butt"/>
<rect x="296.35" y="977.00" width="11.10" height="60.60" fill="#2e9bbf" stroke="#0f5273" stroke-width="2.5" />
<line x1="296.35" y1="997.30" x2="307.45" y2="997.30" stroke="#0f5273" stroke-width="2.5" stroke-linecap="butt"/>
<circle cx="301.90" cy="938.90" r="2.2" fill="#2e9bbf" stroke="#0f5273" stroke-width="1.2"/>
<circle cx="305.77" cy="940.47" r="2.2" fill="#2e9bbf" stroke="#0f5273" stroke-width="1.2"/>
<circle cx="301.90" cy="961.03" r="2.2" fill="#2e9bbf" stroke="#0f5273" stroke-width="1.2"/>
<circle cx="301.90" cy="981.18" r="2.2" fill="#2e9bbf" stroke="#0f5273" stroke-width="1.2"/>
<circle cx="301.90" cy="986.12" r="2.2" fill="#2e9bbf" stroke="#0f5273" stroke-width="1.2"/>
<circle cx="301.90" cy="1023.17" r="2.2" fill="#2e9bbf" stroke="#0f5273" stroke-width="1.2"/>
<circle cx="301.90" cy="1047.16" r="2.2" fill="#2e9bbf" stroke="#0f5273" stroke-width="1.2"/>
<circle cx="305.77" cy="1047.70" r="2.2" fill="#2e9bbf" stroke="#0f5273" stroke-width="1.2"/>
<line x1="323.10" y1="971.50" x2="323.10" y2="978.30" stroke="#0f5273" stroke-width="2.5" stroke-linecap="butt"/>
<line x1="323.10" y1="1037.10" x2="323.10" y2="1042.60" stroke="#0f5273" stroke-width="2.5" stroke-linecap="butt"/>
<line x1="318.35" y1="971.50" x2="327.85" y2="971.50" stroke="#0f5273" stroke-width="2.5" stroke-linecap="butt"/>
<line x1="318.35" y1="1042.60" x2="327.85" y2="1042.60" stroke="#0f5273" stroke-width="2.5" stroke-linecap="butt"/>
<rect x="317.55" y="978.30" width="11.10" height="58.80" fill="#2e9bbf" stroke="#0f5273" stroke-width="2.5" />
<line x1="317.55" y1="1010.00" x2="328.65" y2="1010.00" stroke="#0f5273" stroke-width="2.5" stroke-linecap="butt"/>
<circle cx="323.10" cy="971.50" r="2.2" fill="#2e9bbf" stroke="#0f5273" stroke-width="1.2"/>
<circle cx="326.97" cy="973.02" r="2.2" fill="#2e9bbf" stroke="#0f5273" stroke-width="1.2"/>
<circle cx="323.10" cy="977.26" r="2.2" fill="#2e9bbf" stroke="#0f5273" stroke-width="1.2"/>
<circle cx="323.10" cy="1000.95" r="2.2" fill="#2e9bbf" stroke="#0f5273" stroke-width="1.2"/>
<circle cx="323.10" cy="1007.86" r="2.2" fill="#2e9bbf" stroke="#0f5273" stroke-width="1.2"/>
<circle cx="323.10" cy="1035.63" r="2.2" fill="#2e9bbf" stroke="#0f5273" stroke-width="1.2"/>
<circle cx="326.97" cy="1037.23" r="2.2" fill="#2e9bbf" stroke="#0f5273" stroke-width="1.2"/>
<circle cx="323.10" cy="1042.60" r="2.2" fill="#2e9bbf" stroke="#0f5273" stroke-width="1.2"/>
<path d="M69.10,893.00 V879.60 H91.10 V893.00" fill="none" stroke="#000" stroke-width="2.1"/>
<path d="M80.10,872.20L80.10,864.60M76.81,870.30L83.39,866.50M83.39,870.30L76.81,866.50" stroke="#000" stroke-width="1.9" fill="none"/>
<path d="M127.50,893.00 V879.60 H148.60 V893.00" fill="none" stroke="#000" stroke-width="2.1"/>
<path d="M133.95,872.20L133.95,864.60M130.66,870.30L137.24,866.50M137.24,870.30L130.66,866.50M142.15,872.20L142.15,864.60M138.86,870.30L145.44,866.50M145.44,870.30L138.86,866.50" stroke="#000" stroke-width="1.9" fill="none"/>
<path d="M185.50,893.00 V879.60 H207.50 V893.00" fill="none" stroke="#000" stroke-width="2.1"/>
<path d="M196.50,872.20L196.50,864.60M193.21,870.30L199.79,866.50M199.79,870.30L193.21,866.50" stroke="#000" stroke-width="1.9" fill="none"/>
<path d="M243.50,893.00 V879.60 H265.10 V893.00" fill="none" stroke="#000" stroke-width="2.1"/>
<path d="M250.20,872.20L250.20,864.60M246.91,870.30L253.49,866.50M253.49,870.30L246.91,866.50M258.40,872.20L258.40,864.60M255.11,870.30L261.69,866.50M261.69,870.30L255.11,866.50" stroke="#000" stroke-width="1.9" fill="none"/>
<path d="M301.90,893.00 V879.60 H323.10 V893.00" fill="none" stroke="#000" stroke-width="2.1"/>
<text x="312.50" y="870.00" font-size="10.2" font-weight="normal" text-anchor="middle" fill="#111" >ns</text>
<text x="69.10" y="1076.80" font-size="11.4" font-weight="bold" text-anchor="middle" fill="#000" >S</text>
<text x="91.10" y="1076.80" font-size="11.4" font-weight="bold" text-anchor="middle" fill="#000" >E</text>
<text x="127.50" y="1076.80" font-size="11.4" font-weight="bold" text-anchor="middle" fill="#000" >S</text>
<text x="148.60" y="1076.80" font-size="11.4" font-weight="bold" text-anchor="middle" fill="#000" >E</text>
<text x="185.50" y="1076.80" font-size="11.4" font-weight="bold" text-anchor="middle" fill="#000" >S</text>
<text x="207.50" y="1076.80" font-size="11.4" font-weight="bold" text-anchor="middle" fill="#000" >E</text>
<text x="243.50" y="1076.80" font-size="11.4" font-weight="bold" text-anchor="middle" fill="#000" >S</text>
<text x="265.10" y="1076.80" font-size="11.4" font-weight="bold" text-anchor="middle" fill="#000" >E</text>
<text x="301.90" y="1076.80" font-size="11.4" font-weight="bold" text-anchor="middle" fill="#000" >S</text>
<text x="323.10" y="1076.80" font-size="11.4" font-weight="bold" text-anchor="middle" fill="#000" >E</text>
<line x1="399.40" y1="869.20" x2="399.40" y2="1056.10" stroke="#000" stroke-width="2" stroke-linecap="butt"/>
<line x1="391.40" y1="906.50" x2="399.40" y2="906.50" stroke="#000" stroke-width="2" stroke-linecap="butt"/>
<text x="387.50" y="910.57" font-size="11.3" font-weight="bold" text-anchor="end" fill="#000" >200</text>
<line x1="391.40" y1="980.80" x2="399.40" y2="980.80" stroke="#000" stroke-width="2" stroke-linecap="butt"/>
<text x="387.50" y="984.87" font-size="11.3" font-weight="bold" text-anchor="end" fill="#000" >100</text>
<line x1="391.40" y1="1055.10" x2="399.40" y2="1055.10" stroke="#000" stroke-width="2" stroke-linecap="butt"/>
<text x="387.50" y="1059.17" font-size="11.3" font-weight="bold" text-anchor="end" fill="#000" >0</text>
<line x1="391.40" y1="1055.10" x2="677.50" y2="1055.10" stroke="#000" stroke-width="2" stroke-linecap="butt"/>
<line x1="414.00" y1="1055.10" x2="414.00" y2="1063.70" stroke="#000" stroke-width="2" stroke-linecap="butt"/>
<line x1="434.70" y1="1055.10" x2="434.70" y2="1063.70" stroke="#000" stroke-width="2" stroke-linecap="butt"/>
<line x1="471.00" y1="1055.10" x2="471.00" y2="1063.70" stroke="#000" stroke-width="2" stroke-linecap="butt"/>
<line x1="491.10" y1="1055.10" x2="491.10" y2="1063.70" stroke="#000" stroke-width="2" stroke-linecap="butt"/>
<line x1="527.40" y1="1055.10" x2="527.40" y2="1063.70" stroke="#000" stroke-width="2" stroke-linecap="butt"/>
<line x1="548.00" y1="1055.10" x2="548.00" y2="1063.70" stroke="#000" stroke-width="2" stroke-linecap="butt"/>
<line x1="584.30" y1="1055.10" x2="584.30" y2="1063.70" stroke="#000" stroke-width="2" stroke-linecap="butt"/>
<line x1="605.40" y1="1055.10" x2="605.40" y2="1063.70" stroke="#000" stroke-width="2" stroke-linecap="butt"/>
<line x1="641.20" y1="1055.10" x2="641.20" y2="1063.70" stroke="#000" stroke-width="2" stroke-linecap="butt"/>
<line x1="662.30" y1="1055.10" x2="662.30" y2="1063.70" stroke="#000" stroke-width="2" stroke-linecap="butt"/>
<text x="357.6" y="970.4" font-size="10.8" font-weight="bold" text-anchor="middle" transform="rotate(-90 357.6 970.4)">Duration (s)</text>
<line x1="414.00" y1="939.20" x2="414.00" y2="954.80" stroke="#3b6db3" stroke-width="2.5" stroke-linecap="butt"/>
<line x1="414.00" y1="996.10" x2="414.00" y2="1009.70" stroke="#3b6db3" stroke-width="2.5" stroke-linecap="butt"/>
<line x1="409.25" y1="939.20" x2="418.75" y2="939.20" stroke="#3b6db3" stroke-width="2.5" stroke-linecap="butt"/>
<line x1="409.25" y1="1009.70" x2="418.75" y2="1009.70" stroke="#3b6db3" stroke-width="2.5" stroke-linecap="butt"/>
<rect x="408.45" y="954.80" width="11.10" height="41.30" fill="#8fb4e3" stroke="#3b6db3" stroke-width="2.5" />
<line x1="408.45" y1="980.00" x2="419.55" y2="980.00" stroke="#3b6db3" stroke-width="2.5" stroke-linecap="butt"/>
<circle cx="414.00" cy="939.20" r="2.2" fill="#a8c5ec" stroke="#3b6db3" stroke-width="1.2"/>
<circle cx="414.00" cy="950.35" r="2.2" fill="#a8c5ec" stroke="#3b6db3" stroke-width="1.2"/>
<circle cx="417.87" cy="953.39" r="2.2" fill="#a8c5ec" stroke="#3b6db3" stroke-width="1.2"/>
<circle cx="414.00" cy="954.72" r="2.2" fill="#a8c5ec" stroke="#3b6db3" stroke-width="1.2"/>
<circle cx="414.00" cy="958.70" r="2.2" fill="#a8c5ec" stroke="#3b6db3" stroke-width="1.2"/>
<circle cx="415.94" cy="962.21" r="2.2" fill="#a8c5ec" stroke="#3b6db3" stroke-width="1.2"/>
<circle cx="414.00" cy="987.40" r="2.2" fill="#a8c5ec" stroke="#3b6db3" stroke-width="1.2"/>
<circle cx="415.94" cy="990.85" r="2.2" fill="#a8c5ec" stroke="#3b6db3" stroke-width="1.2"/>
<circle cx="414.00" cy="997.95" r="2.2" fill="#a8c5ec" stroke="#3b6db3" stroke-width="1.2"/>
<circle cx="414.00" cy="1004.23" r="2.2" fill="#a8c5ec" stroke="#3b6db3" stroke-width="1.2"/>
<circle cx="414.00" cy="1009.70" r="2.2" fill="#a8c5ec" stroke="#3b6db3" stroke-width="1.2"/>
<line x1="434.70" y1="989.10" x2="434.70" y2="1000.20" stroke="#3b6db3" stroke-width="2.5" stroke-linecap="butt"/>
<line x1="434.70" y1="1017.30" x2="434.70" y2="1029.90" stroke="#3b6db3" stroke-width="2.5" stroke-linecap="butt"/>
<line x1="429.95" y1="989.10" x2="439.45" y2="989.10" stroke="#3b6db3" stroke-width="2.5" stroke-linecap="butt"/>
<line x1="429.95" y1="1029.90" x2="439.45" y2="1029.90" stroke="#3b6db3" stroke-width="2.5" stroke-linecap="butt"/>
<rect x="429.15" y="1000.20" width="11.10" height="17.10" fill="#8fb4e3" stroke="#3b6db3" stroke-width="2.5" />
<line x1="429.15" y1="1008.70" x2="440.25" y2="1008.70" stroke="#3b6db3" stroke-width="2.5" stroke-linecap="butt"/>
<circle cx="434.70" cy="989.10" r="2.2" fill="#a8c5ec" stroke="#3b6db3" stroke-width="1.2"/>
<circle cx="438.57" cy="989.71" r="2.2" fill="#a8c5ec" stroke="#3b6db3" stroke-width="1.2"/>
<circle cx="432.76" cy="992.69" r="2.2" fill="#a8c5ec" stroke="#3b6db3" stroke-width="1.2"/>
<circle cx="434.70" cy="998.23" r="2.2" fill="#a8c5ec" stroke="#3b6db3" stroke-width="1.2"/>
<circle cx="434.70" cy="1005.47" r="2.2" fill="#a8c5ec" stroke="#3b6db3" stroke-width="1.2"/>
<circle cx="438.57" cy="1008.69" r="2.2" fill="#a8c5ec" stroke="#3b6db3" stroke-width="1.2"/>
<circle cx="430.83" cy="1008.77" r="2.2" fill="#a8c5ec" stroke="#3b6db3" stroke-width="1.2"/>
<circle cx="434.70" cy="1010.96" r="2.2" fill="#a8c5ec" stroke="#3b6db3" stroke-width="1.2"/>
<circle cx="434.70" cy="1019.81" r="2.2" fill="#a8c5ec" stroke="#3b6db3" stroke-width="1.2"/>
<circle cx="434.70" cy="1029.68" r="2.2" fill="#a8c5ec" stroke="#3b6db3" stroke-width="1.2"/>
<circle cx="438.57" cy="1029.90" r="2.2" fill="#a8c5ec" stroke="#3b6db3" stroke-width="1.2"/>
<line x1="471.00" y1="936.70" x2="471.00" y2="960.90" stroke="#6a42a2" stroke-width="2.5" stroke-linecap="butt"/>
<line x1="471.00" y1="995.10" x2="471.00" y2="1008.70" stroke="#6a42a2" stroke-width="2.5" stroke-linecap="butt"/>
<line x1="466.25" y1="936.70" x2="475.75" y2="936.70" stroke="#6a42a2" stroke-width="2.5" stroke-linecap="butt"/>
<line x1="466.25" y1="1008.70" x2="475.75" y2="1008.70" stroke="#6a42a2" stroke-width="2.5" stroke-linecap="butt"/>
<rect x="465.45" y="960.90" width="11.10" height="34.20" fill="#b09dd2" stroke="#6a42a2" stroke-width="2.5" />
<line x1="465.45" y1="977.00" x2="476.55" y2="977.00" stroke="#6a42a2" stroke-width="2.5" stroke-linecap="butt"/>
<circle cx="471.00" cy="936.70" r="2.2" fill="#c2b2de" stroke="#6a42a2" stroke-width="1.2"/>
<circle cx="474.87" cy="938.48" r="2.2" fill="#c2b2de" stroke="#6a42a2" stroke-width="1.2"/>
<circle cx="471.00" cy="949.86" r="2.2" fill="#c2b2de" stroke="#6a42a2" stroke-width="1.2"/>
<circle cx="474.87" cy="951.19" r="2.2" fill="#c2b2de" stroke="#6a42a2" stroke-width="1.2"/>
<circle cx="471.00" cy="966.93" r="2.2" fill="#c2b2de" stroke="#6a42a2" stroke-width="1.2"/>
<circle cx="472.94" cy="970.47" r="2.2" fill="#c2b2de" stroke="#6a42a2" stroke-width="1.2"/>
<circle cx="471.00" cy="990.39" r="2.2" fill="#c2b2de" stroke="#6a42a2" stroke-width="1.2"/>
<circle cx="471.00" cy="994.91" r="2.2" fill="#c2b2de" stroke="#6a42a2" stroke-width="1.2"/>
<circle cx="471.00" cy="999.78" r="2.2" fill="#c2b2de" stroke="#6a42a2" stroke-width="1.2"/>
<circle cx="471.00" cy="1004.42" r="2.2" fill="#c2b2de" stroke="#6a42a2" stroke-width="1.2"/>
<circle cx="471.00" cy="1008.70" r="2.2" fill="#c2b2de" stroke="#6a42a2" stroke-width="1.2"/>
<line x1="491.10" y1="973.50" x2="491.10" y2="997.10" stroke="#6a42a2" stroke-width="2.5" stroke-linecap="butt"/>
<line x1="491.10" y1="1025.30" x2="491.10" y2="1033.90" stroke="#6a42a2" stroke-width="2.5" stroke-linecap="butt"/>
<line x1="486.35" y1="973.50" x2="495.85" y2="973.50" stroke="#6a42a2" stroke-width="2.5" stroke-linecap="butt"/>
<line x1="486.35" y1="1033.90" x2="495.85" y2="1033.90" stroke="#6a42a2" stroke-width="2.5" stroke-linecap="butt"/>
<rect x="485.55" y="997.10" width="11.10" height="28.20" fill="#b09dd2" stroke="#6a42a2" stroke-width="2.5" />
<line x1="485.55" y1="1008.70" x2="496.65" y2="1008.70" stroke="#6a42a2" stroke-width="2.5" stroke-linecap="butt"/>
<circle cx="491.10" cy="973.50" r="2.2" fill="#c2b2de" stroke="#6a42a2" stroke-width="1.2"/>
<circle cx="494.97" cy="976.11" r="2.2" fill="#c2b2de" stroke="#6a42a2" stroke-width="1.2"/>
<circle cx="491.10" cy="980.10" r="2.2" fill="#c2b2de" stroke="#6a42a2" stroke-width="1.2"/>
<circle cx="491.10" cy="987.35" r="2.2" fill="#c2b2de" stroke="#6a42a2" stroke-width="1.2"/>
<circle cx="491.10" cy="1002.75" r="2.2" fill="#c2b2de" stroke="#6a42a2" stroke-width="1.2"/>
<circle cx="494.97" cy="1002.92" r="2.2" fill="#c2b2de" stroke="#6a42a2" stroke-width="1.2"/>
<circle cx="491.10" cy="1017.30" r="2.2" fill="#c2b2de" stroke="#6a42a2" stroke-width="1.2"/>
<circle cx="494.97" cy="1018.06" r="2.2" fill="#c2b2de" stroke="#6a42a2" stroke-width="1.2"/>
<circle cx="491.10" cy="1027.04" r="2.2" fill="#c2b2de" stroke="#6a42a2" stroke-width="1.2"/>
<circle cx="494.97" cy="1029.26" r="2.2" fill="#c2b2de" stroke="#6a42a2" stroke-width="1.2"/>
<circle cx="491.10" cy="1033.90" r="2.2" fill="#c2b2de" stroke="#6a42a2" stroke-width="1.2"/>
<line x1="527.40" y1="909.50" x2="527.40" y2="953.80" stroke="#b03a9f" stroke-width="2.5" stroke-linecap="butt"/>
<line x1="527.40" y1="994.60" x2="527.40" y2="1015.30" stroke="#b03a9f" stroke-width="2.5" stroke-linecap="butt"/>
<line x1="522.65" y1="909.50" x2="532.15" y2="909.50" stroke="#b03a9f" stroke-width="2.5" stroke-linecap="butt"/>
<line x1="522.65" y1="1015.30" x2="532.15" y2="1015.30" stroke="#b03a9f" stroke-width="2.5" stroke-linecap="butt"/>
<rect x="521.85" y="953.80" width="11.10" height="40.80" fill="#e0a9d6" stroke="#b03a9f" stroke-width="2.5" />
<line x1="521.85" y1="973.50" x2="532.95" y2="973.50" stroke="#b03a9f" stroke-width="2.5" stroke-linecap="butt"/>
<circle cx="527.40" cy="909.50" r="2.2" fill="#ebc2e4" stroke="#b03a9f" stroke-width="1.2"/>
<circle cx="527.40" cy="915.13" r="2.2" fill="#ebc2e4" stroke="#b03a9f" stroke-width="1.2"/>
<circle cx="527.40" cy="923.19" r="2.2" fill="#ebc2e4" stroke="#b03a9f" stroke-width="1.2"/>
<circle cx="531.27" cy="923.38" r="2.2" fill="#ebc2e4" stroke="#b03a9f" stroke-width="1.2"/>
<circle cx="527.40" cy="929.07" r="2.2" fill="#ebc2e4" stroke="#b03a9f" stroke-width="1.2"/>
<circle cx="527.40" cy="947.59" r="2.2" fill="#ebc2e4" stroke="#b03a9f" stroke-width="1.2"/>
<circle cx="527.40" cy="962.80" r="2.2" fill="#ebc2e4" stroke="#b03a9f" stroke-width="1.2"/>
<circle cx="531.27" cy="963.70" r="2.2" fill="#ebc2e4" stroke="#b03a9f" stroke-width="1.2"/>
<circle cx="523.53" cy="963.95" r="2.2" fill="#ebc2e4" stroke="#b03a9f" stroke-width="1.2"/>
<circle cx="527.40" cy="970.00" r="2.2" fill="#ebc2e4" stroke="#b03a9f" stroke-width="1.2"/>
<circle cx="531.27" cy="971.05" r="2.2" fill="#ebc2e4" stroke="#b03a9f" stroke-width="1.2"/>
<circle cx="525.46" cy="973.56" r="2.2" fill="#ebc2e4" stroke="#b03a9f" stroke-width="1.2"/>
<circle cx="529.34" cy="975.90" r="2.2" fill="#ebc2e4" stroke="#b03a9f" stroke-width="1.2"/>
<circle cx="527.40" cy="993.00" r="2.2" fill="#ebc2e4" stroke="#b03a9f" stroke-width="1.2"/>
<circle cx="531.27" cy="993.20" r="2.2" fill="#ebc2e4" stroke="#b03a9f" stroke-width="1.2"/>
<circle cx="527.40" cy="997.10" r="2.2" fill="#ebc2e4" stroke="#b03a9f" stroke-width="1.2"/>
<circle cx="527.40" cy="1001.87" r="2.2" fill="#ebc2e4" stroke="#b03a9f" stroke-width="1.2"/>
<circle cx="531.27" cy="1003.83" r="2.2" fill="#ebc2e4" stroke="#b03a9f" stroke-width="1.2"/>
<circle cx="525.46" cy="1005.24" r="2.2" fill="#ebc2e4" stroke="#b03a9f" stroke-width="1.2"/>
<circle cx="527.40" cy="1015.30" r="2.2" fill="#ebc2e4" stroke="#b03a9f" stroke-width="1.2"/>
<line x1="548.00" y1="957.40" x2="548.00" y2="993.60" stroke="#b03a9f" stroke-width="2.5" stroke-linecap="butt"/>
<line x1="548.00" y1="1027.40" x2="548.00" y2="1051.50" stroke="#b03a9f" stroke-width="2.5" stroke-linecap="butt"/>
<line x1="543.25" y1="957.40" x2="552.75" y2="957.40" stroke="#b03a9f" stroke-width="2.5" stroke-linecap="butt"/>
<line x1="543.25" y1="1051.50" x2="552.75" y2="1051.50" stroke="#b03a9f" stroke-width="2.5" stroke-linecap="butt"/>
<rect x="542.45" y="993.60" width="11.10" height="33.80" fill="#e0a9d6" stroke="#b03a9f" stroke-width="2.5" />
<line x1="542.45" y1="1011.20" x2="553.55" y2="1011.20" stroke="#b03a9f" stroke-width="2.5" stroke-linecap="butt"/>
<circle cx="548.00" cy="957.40" r="2.2" fill="#ebc2e4" stroke="#b03a9f" stroke-width="1.2"/>
<circle cx="548.00" cy="968.88" r="2.2" fill="#ebc2e4" stroke="#b03a9f" stroke-width="1.2"/>
<circle cx="548.00" cy="973.72" r="2.2" fill="#ebc2e4" stroke="#b03a9f" stroke-width="1.2"/>
<circle cx="548.00" cy="981.78" r="2.2" fill="#ebc2e4" stroke="#b03a9f" stroke-width="1.2"/>
<circle cx="548.00" cy="988.58" r="2.2" fill="#ebc2e4" stroke="#b03a9f" stroke-width="1.2"/>
<circle cx="551.87" cy="989.35" r="2.2" fill="#ebc2e4" stroke="#b03a9f" stroke-width="1.2"/>
<circle cx="548.00" cy="995.07" r="2.2" fill="#ebc2e4" stroke="#b03a9f" stroke-width="1.2"/>
<circle cx="548.00" cy="999.72" r="2.2" fill="#ebc2e4" stroke="#b03a9f" stroke-width="1.2"/>
<circle cx="551.87" cy="1001.28" r="2.2" fill="#ebc2e4" stroke="#b03a9f" stroke-width="1.2"/>
<circle cx="548.00" cy="1005.41" r="2.2" fill="#ebc2e4" stroke="#b03a9f" stroke-width="1.2"/>
<circle cx="551.87" cy="1005.78" r="2.2" fill="#ebc2e4" stroke="#b03a9f" stroke-width="1.2"/>
<circle cx="548.00" cy="1011.87" r="2.2" fill="#ebc2e4" stroke="#b03a9f" stroke-width="1.2"/>
<circle cx="549.94" cy="1015.27" r="2.2" fill="#ebc2e4" stroke="#b03a9f" stroke-width="1.2"/>
<circle cx="546.06" cy="1016.80" r="2.2" fill="#ebc2e4" stroke="#b03a9f" stroke-width="1.2"/>
<circle cx="551.87" cy="1018.86" r="2.2" fill="#ebc2e4" stroke="#b03a9f" stroke-width="1.2"/>
<circle cx="548.00" cy="1039.37" r="2.2" fill="#ebc2e4" stroke="#b03a9f" stroke-width="1.2"/>
<circle cx="548.00" cy="1043.61" r="2.2" fill="#ebc2e4" stroke="#b03a9f" stroke-width="1.2"/>
<circle cx="551.87" cy="1045.90" r="2.2" fill="#ebc2e4" stroke="#b03a9f" stroke-width="1.2"/>
<circle cx="548.00" cy="1049.03" r="2.2" fill="#ebc2e4" stroke="#b03a9f" stroke-width="1.2"/>
<circle cx="551.87" cy="1051.50" r="2.2" fill="#ebc2e4" stroke="#b03a9f" stroke-width="1.2"/>
<line x1="584.30" y1="939.20" x2="584.30" y2="962.40" stroke="#6aab3d" stroke-width="2.5" stroke-linecap="butt"/>
<line x1="584.30" y1="983.50" x2="584.30" y2="1026.40" stroke="#6aab3d" stroke-width="2.5" stroke-linecap="butt"/>
<line x1="579.55" y1="939.20" x2="589.05" y2="939.20" stroke="#6aab3d" stroke-width="2.5" stroke-linecap="butt"/>
<line x1="579.55" y1="1026.40" x2="589.05" y2="1026.40" stroke="#6aab3d" stroke-width="2.5" stroke-linecap="butt"/>
<rect x="578.75" y="962.40" width="11.10" height="21.10" fill="#c9e29d" stroke="#6aab3d" stroke-width="2.5" />
<line x1="578.75" y1="973.50" x2="589.85" y2="973.50" stroke="#6aab3d" stroke-width="2.5" stroke-linecap="butt"/>
<circle cx="584.30" cy="939.20" r="2.2" fill="#d9ecb9" stroke="#6aab3d" stroke-width="1.2"/>
<circle cx="584.30" cy="947.80" r="2.2" fill="#d9ecb9" stroke="#6aab3d" stroke-width="1.2"/>
<circle cx="588.17" cy="948.90" r="2.2" fill="#d9ecb9" stroke="#6aab3d" stroke-width="1.2"/>
<circle cx="580.43" cy="949.80" r="2.2" fill="#d9ecb9" stroke="#6aab3d" stroke-width="1.2"/>
<circle cx="584.30" cy="950.56" r="2.2" fill="#d9ecb9" stroke="#6aab3d" stroke-width="1.2"/>
<circle cx="588.17" cy="953.28" r="2.2" fill="#d9ecb9" stroke="#6aab3d" stroke-width="1.2"/>
<circle cx="584.30" cy="957.51" r="2.2" fill="#d9ecb9" stroke="#6aab3d" stroke-width="1.2"/>
<circle cx="584.30" cy="963.07" r="2.2" fill="#d9ecb9" stroke="#6aab3d" stroke-width="1.2"/>
<circle cx="588.17" cy="963.32" r="2.2" fill="#d9ecb9" stroke="#6aab3d" stroke-width="1.2"/>
<circle cx="580.43" cy="965.03" r="2.2" fill="#d9ecb9" stroke="#6aab3d" stroke-width="1.2"/>
<circle cx="584.30" cy="972.95" r="2.2" fill="#d9ecb9" stroke="#6aab3d" stroke-width="1.2"/>
<circle cx="588.17" cy="973.29" r="2.2" fill="#d9ecb9" stroke="#6aab3d" stroke-width="1.2"/>
<circle cx="580.43" cy="975.50" r="2.2" fill="#d9ecb9" stroke="#6aab3d" stroke-width="1.2"/>
<circle cx="584.30" cy="976.51" r="2.2" fill="#d9ecb9" stroke="#6aab3d" stroke-width="1.2"/>
<circle cx="586.24" cy="980.09" r="2.2" fill="#d9ecb9" stroke="#6aab3d" stroke-width="1.2"/>
<circle cx="582.36" cy="980.93" r="2.2" fill="#d9ecb9" stroke="#6aab3d" stroke-width="1.2"/>
<circle cx="590.11" cy="981.97" r="2.2" fill="#d9ecb9" stroke="#6aab3d" stroke-width="1.2"/>
<circle cx="584.30" cy="993.26" r="2.2" fill="#d9ecb9" stroke="#6aab3d" stroke-width="1.2"/>
<circle cx="588.17" cy="996.24" r="2.2" fill="#d9ecb9" stroke="#6aab3d" stroke-width="1.2"/>
<circle cx="584.30" cy="997.74" r="2.2" fill="#d9ecb9" stroke="#6aab3d" stroke-width="1.2"/>
<circle cx="584.30" cy="1008.82" r="2.2" fill="#d9ecb9" stroke="#6aab3d" stroke-width="1.2"/>
<circle cx="584.30" cy="1019.57" r="2.2" fill="#d9ecb9" stroke="#6aab3d" stroke-width="1.2"/>
<circle cx="584.30" cy="1026.40" r="2.2" fill="#d9ecb9" stroke="#6aab3d" stroke-width="1.2"/>
<line x1="605.40" y1="924.10" x2="605.40" y2="997.10" stroke="#6aab3d" stroke-width="2.5" stroke-linecap="butt"/>
<line x1="605.40" y1="1022.30" x2="605.40" y2="1040.50" stroke="#6aab3d" stroke-width="2.5" stroke-linecap="butt"/>
<line x1="600.65" y1="924.10" x2="610.15" y2="924.10" stroke="#6aab3d" stroke-width="2.5" stroke-linecap="butt"/>
<line x1="600.65" y1="1040.50" x2="610.15" y2="1040.50" stroke="#6aab3d" stroke-width="2.5" stroke-linecap="butt"/>
<rect x="599.85" y="997.10" width="11.10" height="25.20" fill="#c9e29d" stroke="#6aab3d" stroke-width="2.5" />
<line x1="599.85" y1="1008.70" x2="610.95" y2="1008.70" stroke="#6aab3d" stroke-width="2.5" stroke-linecap="butt"/>
<circle cx="605.40" cy="924.10" r="2.2" fill="#d9ecb9" stroke="#6aab3d" stroke-width="1.2"/>
<circle cx="609.27" cy="926.17" r="2.2" fill="#d9ecb9" stroke="#6aab3d" stroke-width="1.2"/>
<circle cx="605.40" cy="930.46" r="2.2" fill="#d9ecb9" stroke="#6aab3d" stroke-width="1.2"/>
<circle cx="609.27" cy="932.50" r="2.2" fill="#d9ecb9" stroke="#6aab3d" stroke-width="1.2"/>
<circle cx="605.40" cy="934.72" r="2.2" fill="#d9ecb9" stroke="#6aab3d" stroke-width="1.2"/>
<circle cx="605.40" cy="961.13" r="2.2" fill="#d9ecb9" stroke="#6aab3d" stroke-width="1.2"/>
<circle cx="605.40" cy="982.44" r="2.2" fill="#d9ecb9" stroke="#6aab3d" stroke-width="1.2"/>
<circle cx="605.40" cy="1000.88" r="2.2" fill="#d9ecb9" stroke="#6aab3d" stroke-width="1.2"/>
<circle cx="609.27" cy="1002.62" r="2.2" fill="#d9ecb9" stroke="#6aab3d" stroke-width="1.2"/>
<circle cx="603.46" cy="1004.42" r="2.2" fill="#d9ecb9" stroke="#6aab3d" stroke-width="1.2"/>
<circle cx="607.34" cy="1006.79" r="2.2" fill="#d9ecb9" stroke="#6aab3d" stroke-width="1.2"/>
<circle cx="601.53" cy="1008.20" r="2.2" fill="#d9ecb9" stroke="#6aab3d" stroke-width="1.2"/>
<circle cx="605.40" cy="1011.05" r="2.2" fill="#d9ecb9" stroke="#6aab3d" stroke-width="1.2"/>
<circle cx="609.27" cy="1011.19" r="2.2" fill="#d9ecb9" stroke="#6aab3d" stroke-width="1.2"/>
<circle cx="599.59" cy="1011.97" r="2.2" fill="#d9ecb9" stroke="#6aab3d" stroke-width="1.2"/>
<circle cx="605.40" cy="1015.51" r="2.2" fill="#d9ecb9" stroke="#6aab3d" stroke-width="1.2"/>
<circle cx="609.27" cy="1016.29" r="2.2" fill="#d9ecb9" stroke="#6aab3d" stroke-width="1.2"/>
<circle cx="605.40" cy="1028.15" r="2.2" fill="#d9ecb9" stroke="#6aab3d" stroke-width="1.2"/>
<circle cx="605.40" cy="1033.43" r="2.2" fill="#d9ecb9" stroke="#6aab3d" stroke-width="1.2"/>
<circle cx="607.34" cy="1037.10" r="2.2" fill="#d9ecb9" stroke="#6aab3d" stroke-width="1.2"/>
<circle cx="603.46" cy="1037.27" r="2.2" fill="#d9ecb9" stroke="#6aab3d" stroke-width="1.2"/>
<circle cx="611.21" cy="1037.79" r="2.2" fill="#d9ecb9" stroke="#6aab3d" stroke-width="1.2"/>
<circle cx="599.59" cy="1040.50" r="2.2" fill="#d9ecb9" stroke="#6aab3d" stroke-width="1.2"/>
<line x1="641.20" y1="950.80" x2="641.20" y2="984.50" stroke="#0f5273" stroke-width="2.5" stroke-linecap="butt"/>
<line x1="641.20" y1="1009.70" x2="641.20" y2="1019.80" stroke="#0f5273" stroke-width="2.5" stroke-linecap="butt"/>
<line x1="636.45" y1="950.80" x2="645.95" y2="950.80" stroke="#0f5273" stroke-width="2.5" stroke-linecap="butt"/>
<line x1="636.45" y1="1019.80" x2="645.95" y2="1019.80" stroke="#0f5273" stroke-width="2.5" stroke-linecap="butt"/>
<rect x="635.65" y="984.50" width="11.10" height="25.20" fill="#2e9bbf" stroke="#0f5273" stroke-width="2.5" />
<line x1="635.65" y1="989.60" x2="646.75" y2="989.60" stroke="#0f5273" stroke-width="2.5" stroke-linecap="butt"/>
<circle cx="641.20" cy="950.80" r="2.2" fill="#2e9bbf" stroke="#0f5273" stroke-width="1.2"/>
<circle cx="641.20" cy="959.47" r="2.2" fill="#2e9bbf" stroke="#0f5273" stroke-width="1.2"/>
<circle cx="641.20" cy="978.25" r="2.2" fill="#2e9bbf" stroke="#0f5273" stroke-width="1.2"/>
<circle cx="641.20" cy="984.99" r="2.2" fill="#2e9bbf" stroke="#0f5273" stroke-width="1.2"/>
<circle cx="645.07" cy="986.68" r="2.2" fill="#2e9bbf" stroke="#0f5273" stroke-width="1.2"/>
<circle cx="641.20" cy="1008.18" r="2.2" fill="#2e9bbf" stroke="#0f5273" stroke-width="1.2"/>
<circle cx="641.20" cy="1017.08" r="2.2" fill="#2e9bbf" stroke="#0f5273" stroke-width="1.2"/>
<circle cx="645.07" cy="1019.80" r="2.2" fill="#2e9bbf" stroke="#0f5273" stroke-width="1.2"/>
<line x1="662.30" y1="979.50" x2="662.30" y2="989.60" stroke="#0f5273" stroke-width="2.5" stroke-linecap="butt"/>
<line x1="662.30" y1="1018.80" x2="662.30" y2="1046.50" stroke="#0f5273" stroke-width="2.5" stroke-linecap="butt"/>
<line x1="657.55" y1="979.50" x2="667.05" y2="979.50" stroke="#0f5273" stroke-width="2.5" stroke-linecap="butt"/>
<line x1="657.55" y1="1046.50" x2="667.05" y2="1046.50" stroke="#0f5273" stroke-width="2.5" stroke-linecap="butt"/>
<rect x="656.75" y="989.60" width="11.10" height="29.20" fill="#2e9bbf" stroke="#0f5273" stroke-width="2.5" />
<line x1="656.75" y1="1013.80" x2="667.85" y2="1013.80" stroke="#0f5273" stroke-width="2.5" stroke-linecap="butt"/>
<circle cx="662.30" cy="979.50" r="2.2" fill="#2e9bbf" stroke="#0f5273" stroke-width="1.2"/>
<circle cx="666.17" cy="980.97" r="2.2" fill="#2e9bbf" stroke="#0f5273" stroke-width="1.2"/>
<circle cx="662.30" cy="986.49" r="2.2" fill="#2e9bbf" stroke="#0f5273" stroke-width="1.2"/>
<circle cx="662.30" cy="993.35" r="2.2" fill="#2e9bbf" stroke="#0f5273" stroke-width="1.2"/>
<circle cx="662.30" cy="998.06" r="2.2" fill="#2e9bbf" stroke="#0f5273" stroke-width="1.2"/>
<circle cx="662.30" cy="1014.61" r="2.2" fill="#2e9bbf" stroke="#0f5273" stroke-width="1.2"/>
<circle cx="662.30" cy="1025.61" r="2.2" fill="#2e9bbf" stroke="#0f5273" stroke-width="1.2"/>
<circle cx="662.30" cy="1046.50" r="2.2" fill="#2e9bbf" stroke="#0f5273" stroke-width="1.2"/>
<path d="M414.00,897.90 V885.30 H434.70 V897.90" fill="none" stroke="#000" stroke-width="2.1"/>
<path d="M424.35,877.90L424.35,870.30M421.06,876.00L427.64,872.20M427.64,876.00L421.06,872.20" stroke="#000" stroke-width="1.9" fill="none"/>
<path d="M471.00,897.90 V885.30 H491.10 V897.90" fill="none" stroke="#000" stroke-width="2.1"/>
<path d="M476.95,877.90L476.95,870.30M473.66,876.00L480.24,872.20M480.24,876.00L473.66,872.20M485.15,877.90L485.15,870.30M481.86,876.00L488.44,872.20M488.44,876.00L481.86,872.20" stroke="#000" stroke-width="1.9" fill="none"/>
<path d="M527.40,897.90 V885.30 H548.00 V897.90" fill="none" stroke="#000" stroke-width="2.1"/>
<path d="M525.40,877.90L525.40,870.30M522.11,876.00L528.69,872.20M528.69,876.00L522.11,872.20M533.60,877.90L533.60,870.30M530.31,876.00L536.89,872.20M536.89,876.00L530.31,872.20M541.80,877.90L541.80,870.30M538.51,876.00L545.09,872.20M545.09,876.00L538.51,872.20M550.00,877.90L550.00,870.30M546.71,876.00L553.29,872.20M553.29,876.00L546.71,872.20" stroke="#000" stroke-width="1.9" fill="none"/>
<path d="M584.30,897.90 V885.30 H605.40 V897.90" fill="none" stroke="#000" stroke-width="2.1"/>
<path d="M586.65,877.90L586.65,870.30M583.36,876.00L589.94,872.20M589.94,876.00L583.36,872.20M594.85,877.90L594.85,870.30M591.56,876.00L598.14,872.20M598.14,876.00L591.56,872.20M603.05,877.90L603.05,870.30M599.76,876.00L606.34,872.20M606.34,876.00L599.76,872.20" stroke="#000" stroke-width="1.9" fill="none"/>
<path d="M641.20,897.90 V885.30 H662.30 V897.90" fill="none" stroke="#000" stroke-width="2.1"/>
<text x="651.75" y="875.70" font-size="10.2" font-weight="normal" text-anchor="middle" fill="#111" >ns</text>
<text x="414.00" y="1076.70" font-size="11.5" font-weight="bold" text-anchor="middle" fill="#000" >SP</text>
<text x="434.70" y="1076.70" font-size="11.5" font-weight="bold" text-anchor="middle" fill="#000" >EP</text>
<text x="471.00" y="1076.70" font-size="11.5" font-weight="bold" text-anchor="middle" fill="#000" >SP</text>
<text x="491.10" y="1076.70" font-size="11.5" font-weight="bold" text-anchor="middle" fill="#000" >EP</text>
<text x="527.40" y="1076.70" font-size="11.5" font-weight="bold" text-anchor="middle" fill="#000" >SP</text>
<text x="548.00" y="1076.70" font-size="11.5" font-weight="bold" text-anchor="middle" fill="#000" >EP</text>
<text x="584.30" y="1076.70" font-size="11.5" font-weight="bold" text-anchor="middle" fill="#000" >SP</text>
<text x="605.40" y="1076.70" font-size="11.5" font-weight="bold" text-anchor="middle" fill="#000" >EP</text>
<text x="641.20" y="1076.70" font-size="11.5" font-weight="bold" text-anchor="middle" fill="#000" >SP</text>
<text x="662.30" y="1076.70" font-size="11.5" font-weight="bold" text-anchor="middle" fill="#000" >EP</text>
<line x1="55.70" y1="1092.90" x2="80.50" y2="1092.90" stroke="#3b6db3" stroke-width="4.4" stroke-linecap="butt"/>
<text x="85.60" y="1095.60" font-size="11.3" font-weight="normal" text-anchor="start" fill="#000" >WT+PBS (n = 11)</text>
<line x1="184.40" y1="1092.90" x2="209.80" y2="1092.90" stroke="#6a42a2" stroke-width="4.4" stroke-linecap="butt"/>
<text x="213.60" y="1095.60" font-size="11.3" font-weight="normal" text-anchor="start" fill="#000" >WT+LPS (n = 11)</text>
<line x1="311.20" y1="1092.90" x2="335.80" y2="1092.90" stroke="#b03a9f" stroke-width="4.4" stroke-linecap="butt"/>
<text x="338.90" y="1095.60" font-size="11.3" font-weight="normal" text-anchor="start" fill="#000" ><tspan font-style="italic">Sh3</tspan><tspan font-size="0.84em" dy="-0.5em">+/-</tspan><tspan dy="0.42em">+PBS (n = 20)</tspan></text>
<line x1="447.90" y1="1092.90" x2="472.20" y2="1092.90" stroke="#6aab3d" stroke-width="4.4" stroke-linecap="butt"/>
<text x="476.00" y="1095.60" font-size="11.3" font-weight="normal" text-anchor="start" fill="#000" ><tspan font-style="italic">Sh3</tspan><tspan font-size="0.84em" dy="-0.5em">+/-</tspan><tspan dy="0.42em">+LPS (n = 23)</tspan></text>
<line x1="585.60" y1="1092.90" x2="610.30" y2="1092.90" stroke="#0f5273" stroke-width="4.4" stroke-linecap="butt"/>
<text x="617.30" y="1095.60" font-size="11.3" font-weight="normal" text-anchor="start" fill="#000" ><tspan font-style="italic">Sh3</tspan><tspan font-size="0.84em" dy="-0.5em">-/-</tspan><tspan dy="0.42em">(n = 8)</tspan></text>
<defs>
<linearGradient id="lpsg" x1="0" y1="0" x2="1" y2="0.3">
<stop offset="0" stop-color="#b5dcf4"/><stop offset="0.25" stop-color="#74b9e6"/><stop offset="1" stop-color="#3f8fd2"/>
</linearGradient>
<linearGradient id="barg" x1="0" y1="0" x2="1" y2="0">
<stop offset="0" stop-color="#c8c8c8"/><stop offset="0.5" stop-color="#f4f4f4"/><stop offset="1" stop-color="#b8b8b8"/>
</linearGradient>
</defs>
<g transform="translate(395.6,46.6)">
<path d="M42,0 C52,1 62,0 73.8,-3" fill="none" stroke="#c39590" stroke-width="1.5" stroke-linecap="round"/>
<path d="M37,4.2 L63.3,16.4" stroke="#9a9a9a" stroke-width="0.8"/>
<path d="M42,6.5 L55,12.6" stroke="#b8b8b8" stroke-width="1.8"/>
<path d="M37,4.2 L44,7.6" stroke="#3fb04c" stroke-width="2.2"/>
<path d="M11.5,-8 L10,-13.2 M11.5,8 L10,13.2 M39,-7 L42,-9 L44.3,-13.6 M39,7 L42,9 L44.3,13.6" fill="none" stroke="#c39590" stroke-width="1.8" stroke-linecap="round" stroke-linejoin="round"/>
<path d="M10,-5 L11.5,-9.5 L16,-7 Z M10,5 L11.5,9.5 L16,7 Z" fill="#3b3534"/>
<path d="M0,0 C1,-3 4,-5 8,-5.5 L11,-6.6 C15,-7.6 20,-8 25,-9 C30,-11 36,-11.2 39.5,-8 C43,-5 44,-2 43.6,0 C44,2 43,5 39.5,8 C36,11.2 30,11 25,9 C20,8 15,7.6 11,6.6 L8,5.5 C4,5 1,3 0,0 Z" fill="#3b3534"/>
<path d="M11,-6 C13,-2 13,2 11,6" fill="none" stroke="#2c2726" stroke-width="0.7"/>
<circle cx="7.2" cy="-6.4" r="1.9" fill="#b98a86"/><circle cx="7.2" cy="6.4" r="1.9" fill="#b98a86"/>
<path d="M0.5,-1 L-1.8,-2.5 M0.5,1 L-1.8,2.5" stroke="#ddd" stroke-width="0.5"/>
</g>
<g transform="translate(394.1,130.0)">
<path d="M42,0 C52,1 62,0 73.8,-2" fill="none" stroke="#c39590" stroke-width="1.5" stroke-linecap="round"/>
<path d="M37,4.2 L63.3,16.4" stroke="#9a9a9a" stroke-width="0.8"/>
<path d="M42,6.5 L55,12.6" stroke="#b8b8b8" stroke-width="1.8"/>
<path d="M37,4.2 L44,7.6" stroke="#3fb04c" stroke-width="2.2"/>
<path d="M11.5,-8 L10,-13.2 M11.5,8 L10,13.2 M39,-7 L42,-9 L44.3,-13.6 M39,7 L42,9 L44.3,13.6" fill="none" stroke="#c39590" stroke-width="1.8" stroke-linecap="round" stroke-linejoin="round"/>
<path d="M10,-5 L11.5,-9.5 L16,-7 Z M10,5 L11.5,9.5 L16,7 Z" fill="#3b3534"/>
<path d="M0,0 C1,-3 4,-5 8,-5.5 L11,-6.6 C15,-7.6 20,-8 25,-9 C30,-11 36,-11.2 39.5,-8 C43,-5 44,-2 43.6,0 C44,2 43,5 39.5,8 C36,11.2 30,11 25,9 C20,8 15,7.6 11,6.6 L8,5.5 C4,5 1,3 0,0 Z" fill="#3b3534"/>
<path d="M11,-6 C13,-2 13,2 11,6" fill="none" stroke="#2c2726" stroke-width="0.7"/>
<circle cx="7.2" cy="-6.4" r="1.9" fill="#b98a86"/><circle cx="7.2" cy="6.4" r="1.9" fill="#b98a86"/>
<path d="M0.5,-1 L-1.8,-2.5 M0.5,1 L-1.8,2.5" stroke="#ddd" stroke-width="0.5"/>
</g>
<rect x="402.90" y="65.70" width="29.70" height="16.30" fill="url(#lpsg)" stroke="none" stroke-width="0" />
<text x="417.80" y="76.55" font-size="7.5" font-weight="bold" text-anchor="middle" fill="#111a2c" >LPS</text>
<rect x="402.90" y="98.50" width="29.70" height="16.20" fill="url(#lpsg)" stroke="none" stroke-width="0" />
<text x="417.80" y="109.30" font-size="7.5" font-weight="bold" text-anchor="middle" fill="#111a2c" >LPS</text>
<line x1="418.30" y1="86.00" x2="634.00" y2="86.00" stroke="#000" stroke-width="1.8" stroke-linecap="butt"/>
<path d="M633,82.2 L642,86 L633,89.8 Z" fill="#000"/>
<line x1="418.30" y1="82.50" x2="418.30" y2="89.50" stroke="#000" stroke-width="1.6" stroke-linecap="butt"/>
<text transform="translate(418.30,96.60) scale(0.92,1)" font-size="8.2" font-weight="normal" text-anchor="middle" fill="#1a1a1a" stroke="#1a1a1a" stroke-width="0.22">Day 0</text>
<line x1="496.90" y1="82.50" x2="496.90" y2="89.50" stroke="#000" stroke-width="1.6" stroke-linecap="butt"/>
<text transform="translate(496.90,96.60) scale(0.92,1)" font-size="8.2" font-weight="normal" text-anchor="middle" fill="#1a1a1a" stroke="#1a1a1a" stroke-width="0.22">Day 15</text>
<line x1="545.00" y1="82.50" x2="545.00" y2="89.50" stroke="#000" stroke-width="1.6" stroke-linecap="butt"/>
<text transform="translate(545.00,96.60) scale(0.92,1)" font-size="8.2" font-weight="normal" text-anchor="middle" fill="#1a1a1a" stroke="#1a1a1a" stroke-width="0.22">Day 16</text>
<line x1="609.30" y1="82.50" x2="609.30" y2="89.50" stroke="#000" stroke-width="1.6" stroke-linecap="butt"/>
<text transform="translate(609.30,96.60) scale(0.92,1)" font-size="8.2" font-weight="normal" text-anchor="middle" fill="#1a1a1a" stroke="#1a1a1a" stroke-width="0.22">Day 17</text>
<text transform="translate(495.00,18.90) scale(0.92,1)" font-size="8.2" font-weight="normal" text-anchor="middle" fill="#1a1a1a" stroke="#1a1a1a" stroke-width="0.22">Rotarod</text>
<text transform="translate(545.00,18.90) scale(0.92,1)" font-size="8.2" font-weight="normal" text-anchor="middle" fill="#1a1a1a" stroke="#1a1a1a" stroke-width="0.22">Open field</text>
<text transform="translate(610.20,18.40) scale(0.92,1)" font-size="8.2" font-weight="normal" text-anchor="middle" fill="#1a1a1a" stroke="#1a1a1a" stroke-width="0.22">Sociability</text>
<rect x="477.50" y="60.50" width="36.00" height="7.00" fill="#a9a9a9" stroke="none" stroke-width="0" />
<rect x="479.00" y="61.50" width="4.60" height="5.50" fill="#8f8f8f" stroke="none" stroke-width="0" />
<rect x="485.00" y="61.50" width="4.60" height="5.50" fill="#8f8f8f" stroke="none" stroke-width="0" />
<rect x="491.00" y="61.50" width="4.60" height="5.50" fill="#8f8f8f" stroke="none" stroke-width="0" />
<rect x="497.00" y="61.50" width="4.60" height="5.50" fill="#8f8f8f" stroke="none" stroke-width="0" />
<rect x="503.00" y="61.50" width="4.60" height="5.50" fill="#8f8f8f" stroke="none" stroke-width="0" />
<rect x="509.00" y="61.50" width="4.60" height="5.50" fill="#8f8f8f" stroke="none" stroke-width="0" />
<rect x="478.80" y="39.40" width="34.30" height="6.20" fill="#555555" stroke="none" stroke-width="0" />
<path d="M519,39.6 L522.5,42.5 L519,45.4 Z" fill="#555"/>
<rect x="473.00" y="29.00" width="2.80" height="38.50" fill="#dedede" stroke="#a8a8a8" stroke-width="0.5" />
<rect x="516.30" y="29.00" width="2.80" height="38.50" fill="#dedede" stroke="#a8a8a8" stroke-width="0.5" />
<rect x="478.90" y="27.20" width="2.00" height="40.30" fill="#e6e6e6" stroke="#9c9c9c" stroke-width="0.5" />
<rect x="485.50" y="27.20" width="2.00" height="40.30" fill="#e6e6e6" stroke="#9c9c9c" stroke-width="0.5" />
<rect x="491.90" y="27.20" width="2.00" height="40.30" fill="#e6e6e6" stroke="#9c9c9c" stroke-width="0.5" />
<rect x="498.70" y="27.20" width="2.00" height="40.30" fill="#e6e6e6" stroke="#9c9c9c" stroke-width="0.5" />
<rect x="505.30" y="27.20" width="2.00" height="40.30" fill="#e6e6e6" stroke="#9c9c9c" stroke-width="0.5" />
<rect x="511.70" y="27.20" width="2.00" height="40.30" fill="#e6e6e6" stroke="#9c9c9c" stroke-width="0.5" />
<path d="M494,43.5 C493.3,40 494.5,35 496,33.4 C497.5,35 498.6,40 497.8,43.5 Z" fill="#4a3631"/>
<path d="M495.6,43.5 L494.8,50.5" stroke="#c39590" stroke-width="0.5"/>
<rect x="472.60" y="67.60" width="47.00" height="11.70" fill="#f3f3f3" stroke="#9a9a9a" stroke-width="0.6" />
<line x1="472.60" y1="69.90" x2="519.60" y2="69.90" stroke="#b0b0b0" stroke-width="0.5" stroke-linecap="butt"/>
<rect x="486.30" y="71.80" width="19.50" height="4.30" fill="#8a8a8a" stroke="none" stroke-width="0" />
<path d="M487.5,75.6 L492,72.2 L495,72.2 L490.5,75.6 Z" fill="#a8a8a8"/>
<rect x="479.30" y="72.00" width="4.40" height="1.40" fill="#9a9a9a" stroke="none" stroke-width="0" />
<rect x="479.30" y="74.60" width="4.40" height="1.40" fill="#9a9a9a" stroke="none" stroke-width="0" />
<rect x="508.30" y="72.00" width="4.40" height="1.40" fill="#9a9a9a" stroke="none" stroke-width="0" />
<rect x="508.30" y="74.60" width="4.40" height="1.40" fill="#9a9a9a" stroke="none" stroke-width="0" />
<rect x="522.20" y="32.40" width="45.20" height="44.60" fill="#f3f3f3" stroke="#8c8c8c" stroke-width="0.7" />
<line x1="533.50" y1="32.40" x2="533.50" y2="77.00" stroke="#cfcfcf" stroke-width="0.5" stroke-linecap="butt"/>
<line x1="522.20" y1="43.55" x2="567.40" y2="43.55" stroke="#cfcfcf" stroke-width="0.5" stroke-linecap="butt"/>
<line x1="544.80" y1="32.40" x2="544.80" y2="77.00" stroke="#cfcfcf" stroke-width="0.5" stroke-linecap="butt"/>
<line x1="522.20" y1="54.70" x2="567.40" y2="54.70" stroke="#cfcfcf" stroke-width="0.5" stroke-linecap="butt"/>
<line x1="556.10" y1="32.40" x2="556.10" y2="77.00" stroke="#cfcfcf" stroke-width="0.5" stroke-linecap="butt"/>
<line x1="522.20" y1="65.85" x2="567.40" y2="65.85" stroke="#cfcfcf" stroke-width="0.5" stroke-linecap="butt"/>
<rect x="533.60" y="42.80" width="22.00" height="22.80" fill="none" stroke="#d6456b" stroke-width="1.2" />
<path d="M544.5,58.2 C546,57.6 549,59 551.2,61.5 C552.6,63.2 552.2,65 550.6,65 C548.5,64.6 545.8,62 544.6,60 C544.2,59.2 544.2,58.6 544.5,58.2 Z" fill="#4a3833"/>
<path d="M551.5,64.5 C553,67 553.5,69.5 556.5,71.5" fill="none" stroke="#c39590" stroke-width="0.6"/>
<rect x="572.40" y="26.90" width="74.40" height="49.80" fill="#f1f1f1" stroke="#8a8a8a" stroke-width="0.7" />
<rect x="608.40" y="26.90" width="2.70" height="37.50" fill="#cfcfcf" stroke="#777" stroke-width="0.6" />
<circle cx="588.3" cy="42.2" r="11" fill="#d4e6ef" stroke="#555" stroke-width="0.8"/>
<circle cx="628.6" cy="42.2" r="11" fill="#fafafa" stroke="#555" stroke-width="0.8"/>
<line x1="578.70" y1="36.83" x2="578.70" y2="47.57" stroke="#666" stroke-width="0.5" stroke-linecap="butt"/>
<line x1="581.10" y1="33.88" x2="581.10" y2="50.52" stroke="#666" stroke-width="0.5" stroke-linecap="butt"/>
<line x1="583.50" y1="32.30" x2="583.50" y2="52.10" stroke="#666" stroke-width="0.5" stroke-linecap="butt"/>
<line x1="585.90" y1="31.47" x2="585.90" y2="52.93" stroke="#666" stroke-width="0.5" stroke-linecap="butt"/>
<line x1="588.30" y1="31.20" x2="588.30" y2="53.20" stroke="#666" stroke-width="0.5" stroke-linecap="butt"/>
<line x1="590.70" y1="31.47" x2="590.70" y2="52.93" stroke="#666" stroke-width="0.5" stroke-linecap="butt"/>
<line x1="593.10" y1="32.30" x2="593.10" y2="52.10" stroke="#666" stroke-width="0.5" stroke-linecap="butt"/>
<line x1="595.50" y1="33.88" x2="595.50" y2="50.52" stroke="#666" stroke-width="0.5" stroke-linecap="butt"/>
<line x1="597.90" y1="36.83" x2="597.90" y2="47.57" stroke="#666" stroke-width="0.5" stroke-linecap="butt"/>
<line x1="619.60" y1="35.88" x2="619.60" y2="48.52" stroke="#666" stroke-width="0.5" stroke-linecap="butt"/>
<line x1="622.60" y1="32.98" x2="622.60" y2="51.42" stroke="#666" stroke-width="0.5" stroke-linecap="butt"/>
<line x1="625.60" y1="31.62" x2="625.60" y2="52.78" stroke="#666" stroke-width="0.5" stroke-linecap="butt"/>
<line x1="628.60" y1="31.20" x2="628.60" y2="53.20" stroke="#666" stroke-width="0.5" stroke-linecap="butt"/>
<line x1="631.60" y1="31.62" x2="631.60" y2="52.78" stroke="#666" stroke-width="0.5" stroke-linecap="butt"/>
<line x1="634.60" y1="32.98" x2="634.60" y2="51.42" stroke="#666" stroke-width="0.5" stroke-linecap="butt"/>
<line x1="637.60" y1="35.88" x2="637.60" y2="48.52" stroke="#666" stroke-width="0.5" stroke-linecap="butt"/>
<circle cx="583.8" cy="39.2" r="2.4" fill="#b98080" stroke="#3b3535" stroke-width="0.6"/><circle cx="592.8" cy="39.2" r="2.4" fill="#b98080" stroke="#3b3535" stroke-width="0.6"/>
<path d="M583.6,43 C583.6,39.5 585.8,38.6 588.3,38.6 C590.8,38.6 593,39.5 593,43 C593,46.5 590.5,49.8 588.3,50.2 C586.1,49.8 583.6,46.5 583.6,43 Z" fill="#3b3535"/>
<circle cx="586.4" cy="43.2" r="0.6" fill="#111"/><circle cx="590.2" cy="43.2" r="0.6" fill="#111"/><circle cx="588.3" cy="48.6" r="0.8" fill="#c99"/>
<text transform="translate(588.30,65.20) scale(0.92,1)" font-size="8.2" font-weight="normal" text-anchor="middle" fill="#1a1a1a" stroke="#1a1a1a" stroke-width="0.22">Social</text>
<text transform="translate(588.30,73.10) scale(0.92,1)" font-size="8.2" font-weight="normal" text-anchor="middle" fill="#1a1a1a" stroke="#1a1a1a" stroke-width="0.22">target</text>
<text transform="translate(628.60,65.20) scale(0.92,1)" font-size="8.2" font-weight="normal" text-anchor="middle" fill="#1a1a1a" stroke="#1a1a1a" stroke-width="0.22">Empty</text>
<text transform="translate(628.60,73.10) scale(0.92,1)" font-size="8.2" font-weight="normal" text-anchor="middle" fill="#1a1a1a" stroke="#1a1a1a" stroke-width="0.22">cage</text>
<path d="M468.2,104.4 L477.3,104.4 L477.3,123.5 L468.2,130.8 Z" fill="#c9c7bd"/>
<path d="M477.3,104.4 L501.5,104.4 L501.5,123.5 L477.3,123.5 Z" fill="#bebcb0"/>
<path d="M468.2,130.8 L477.3,123.5 L501.5,123.5 L501.5,130.8 Z" fill="#ecebe5"/>
<path d="M497.5,104.4 L501.5,104.4 L504.8,108 L504.8,130.8 L501.5,130.8 Z" fill="#d9d7cf"/>
<path d="M504.8,104.4 L518.4,104.4 L518.4,123.5 L504.8,123.5 Z" fill="#1e2230"/>
<path d="M518.4,104.4 L524.8,109.9 L524.8,130.8 L518.4,123.5 Z" fill="#2e3446"/>
<path d="M504.8,123.5 L518.4,123.5 L524.8,130.8 L504.8,130.8 Z" fill="#5d6378"/>
<path d="M501.5,104.4 L504.8,104.4 L504.8,108 Z" fill="#9a9a9a"/>
<rect x="502.90" y="121.20" width="2.60" height="5.00" fill="#2a3a66" stroke="none" stroke-width="0" />
<ellipse cx="483.6" cy="123.6" rx="2.6" ry="1.9" fill="#4a3631"/>
<path d="M486,124 C489,124.5 492,125.2 494,124.4" fill="none" stroke="#c39590" stroke-width="0.5"/>
<text transform="translate(498.00,140.30) scale(0.92,1)" font-size="8.2" font-weight="normal" text-anchor="middle" fill="#1a1a1a" stroke="#1a1a1a" stroke-width="0.22">Light/dark box</text>
<path d="M537,104.6 L571.7,104.6 L578.4,111 L543.7,111 Z" fill="#fbfbfb" stroke="#c8c8c8" stroke-width="0.5"/>
<path d="M537,104.6 V123 M571.7,104.6 V123 M543.7,111 V129.5 M578.4,111 V129.5" fill="none" stroke="#cfcfcf" stroke-width="0.5"/>
<path d="M534,126 L539,122.4 L572.5,122.4 L578.6,129.2 L578.6,130.6 L541,130.6 Z" fill="#858c95"/>
<path d="M534,126 L541,129.2 L578.6,129.2 L578.6,130.6 L541,130.6 L534,127.3 Z" fill="#626870"/>
<circle cx="555.8" cy="122.4" r="3.6" fill="#4a3631"/>
<path d="M557.5,125 C560,127 562,126 561.5,124" fill="none" stroke="#c39590" stroke-width="0.5"/>
<text transform="translate(559.00,140.30) scale(0.92,1)" font-size="8.2" font-weight="normal" text-anchor="middle" fill="#1a1a1a" stroke="#1a1a1a" stroke-width="0.22">Grooming</text>
</svg>
</body></html>
